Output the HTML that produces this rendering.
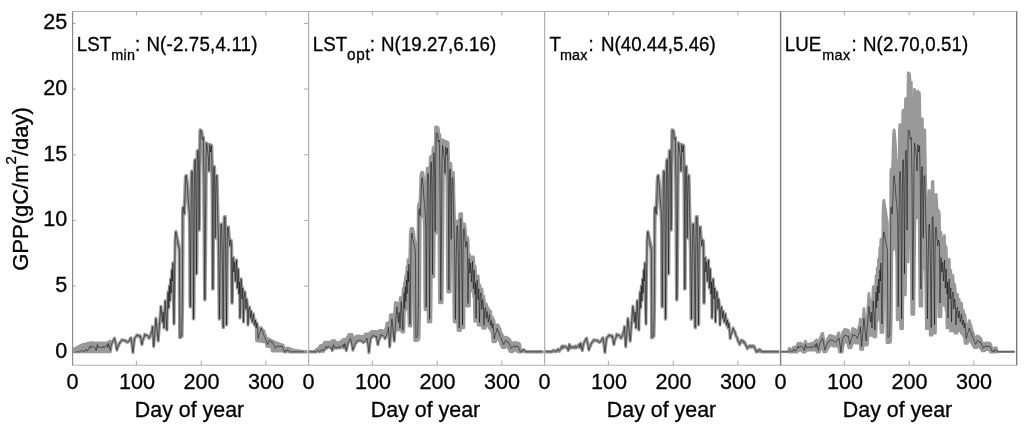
<!DOCTYPE html>
<html><head><meta charset="utf-8"><title>GPP uncertainty</title>
<style>
html,body{margin:0;padding:0;background:#fff;}
svg{display:block;}
text{font-family:"Liberation Sans",Arial,sans-serif;fill:#000;}
text{stroke:#000;stroke-width:0.3px;}
.tk{font-size:21.6px;}
.yl{font-size:22px;}
.xl{font-size:21.4px;}
.an{font-size:18.7px;}
.sb{font-size:14.4px;}
.sp{font-size:15px;}
.ax{stroke:#8c8c8c;stroke-width:1;fill:none;shape-rendering:crispEdges;}
.bd{fill:#999;stroke:#999;stroke-width:3.0;stroke-linejoin:round;}
.ln{fill:none;stroke:#000;stroke-width:0.5;stroke-linejoin:round;}
</style></head><body>
<svg width="1024" height="425" viewBox="0 0 1024 425">
<rect width="1024" height="425" fill="#fff"/>
<defs><clipPath id="cp"><rect x="72.6" y="11.5" width="944.1" height="353.7"/></clipPath></defs>
<g clip-path="url(#cp)">

<path class="bd" d="M72.8,349.7 L73.0,349.6 L73.3,349.4 L73.5,349.3 L73.8,349.2 L74.0,349.0 L74.3,348.9 L74.5,348.8 L74.8,348.7 L75.0,348.5 L75.3,348.4 L75.5,348.3 L75.8,348.1 L76.0,348.0 L76.3,347.9 L76.5,347.7 L76.8,347.6 L77.0,347.5 L77.3,347.4 L77.5,347.2 L77.8,347.1 L78.0,347.0 L78.3,346.8 L78.5,346.7 L78.8,346.6 L79.0,346.4 L79.3,346.3 L79.5,346.2 L79.8,346.1 L80.0,345.9 L80.3,345.8 L80.5,345.7 L80.8,345.5 L81.0,345.4 L81.3,345.3 L81.4,345.2 L81.5,345.1 L81.8,345.0 L82.0,344.9 L82.3,344.8 L82.3,344.8 L82.5,344.7 L82.8,344.7 L83.0,344.6 L83.3,344.5 L83.5,344.5 L83.8,344.4 L84.0,344.4 L84.0,344.4 L84.3,344.3 L84.5,344.3 L84.7,344.2 L84.8,344.2 L85.0,344.1 L85.3,344.1 L85.4,344.1 L85.5,344.0 L85.8,344.0 L86.0,343.9 L86.1,343.9 L86.3,343.8 L86.5,343.8 L86.8,343.7 L87.0,343.7 L87.2,343.6 L87.3,343.6 L87.5,343.6 L87.8,343.5 L88.0,343.5 L88.0,343.4 L88.3,343.4 L88.5,343.3 L88.8,343.3 L89.0,343.2 L89.3,343.1 L89.5,343.1 L89.6,343.1 L89.8,343.0 L90.0,343.0 L90.3,342.9 L90.4,342.9 L90.5,342.9 L90.8,342.8 L91.0,342.8 L91.3,342.8 L91.5,342.8 L91.8,342.8 L91.8,342.8 L92.0,342.8 L92.3,342.8 L92.5,342.8 L92.7,342.8 L92.8,342.9 L93.0,342.9 L93.3,342.9 L93.4,342.9 L93.5,342.9 L93.8,342.9 L94.0,342.9 L94.0,342.9 L94.3,342.9 L94.5,342.9 L94.7,342.9 L94.8,342.9 L95.0,342.9 L95.3,342.9 L95.5,342.9 L95.5,342.9 L95.8,342.9 L96.0,342.9 L96.2,342.9 L96.3,342.9 L96.5,342.9 L96.8,343.0 L97.0,343.0 L97.3,343.0 L97.4,343.0 L97.5,343.0 L97.8,343.0 L98.0,343.0 L98.2,343.0 L98.3,343.0 L98.5,343.0 L98.8,343.0 L98.9,343.0 L99.0,343.0 L99.3,343.0 L99.5,343.0 L99.8,343.0 L100.0,343.0 L100.2,343.0 L100.3,343.0 L100.5,343.1 L100.8,343.1 L100.9,343.1 L101.0,343.1 L101.3,343.1 L101.5,343.1 L101.7,343.1 L101.8,343.1 L102.0,343.1 L102.3,343.1 L102.5,343.1 L102.5,343.1 L102.8,343.1 L103.0,343.1 L103.3,343.1 L103.3,343.1 L103.5,343.1 L103.8,343.1 L104.0,343.1 L104.0,343.1 L104.3,343.1 L104.5,343.2 L104.8,343.2 L104.8,343.2 L105.0,343.2 L105.3,343.2 L105.5,343.2 L105.6,343.2 L105.8,343.2 L106.0,343.2 L106.3,343.2 L106.4,343.2 L106.5,343.1 L106.8,343.0 L107.0,342.9 L107.2,342.8 L107.3,342.7 L107.5,342.6 L107.8,342.5 L107.9,342.4 L108.0,342.3 L108.3,342.2 L108.5,342.1 L108.7,342.0 L108.8,341.9 L109.0,341.8 L109.3,341.7 L109.5,341.6 L109.5,341.6 L109.8,341.4 L110.0,341.3 L110.3,341.2 L110.5,341.0 L110.8,347.6 L111.0,346.3 L111.3,345.4 L111.5,344.5 L111.8,343.6 L112.0,342.8 L112.3,342.0 L112.5,341.4 L112.5,341.3 L112.8,341.2 L113.0,341.0 L113.2,340.9 L113.3,340.6 L113.5,339.8 L113.8,339.0 L113.9,338.7 L114.0,338.6 L114.3,338.3 L114.5,338.1 L114.6,338.1 L114.8,339.0 L115.0,340.1 L115.3,341.2 L115.4,341.5 L115.5,342.4 L115.8,343.7 L116.0,345.0 L116.1,345.4 L116.3,346.4 L116.5,347.8 L116.8,349.2 L116.9,349.8 L117.0,349.2 L117.3,348.3 L117.5,347.3 L117.6,347.1 L117.8,346.8 L118.0,346.4 L118.3,346.0 L118.5,345.4 L118.8,344.7 L119.0,344.1 L119.0,344.0 L119.3,343.4 L119.5,342.8 L119.7,342.4 L119.8,342.4 L120.0,342.3 L120.3,342.2 L120.5,342.1 L120.5,341.9 L120.8,341.4 L121.0,340.9 L121.2,340.6 L121.3,340.5 L121.5,340.2 L121.8,339.9 L122.0,339.6 L122.0,339.6 L122.3,339.8 L122.5,340.0 L122.7,340.1 L122.8,340.0 L123.0,340.0 L123.3,340.0 L123.5,340.2 L123.8,340.4 L124.0,340.5 L124.0,340.5 L124.3,340.4 L124.5,340.3 L124.6,340.3 L124.8,340.3 L125.0,340.2 L125.2,340.2 L125.3,340.2 L125.5,340.5 L125.8,340.7 L125.9,340.8 L126.0,341.0 L126.3,341.3 L126.5,341.6 L126.7,341.8 L126.8,341.8 L127.0,341.9 L127.3,341.9 L127.5,342.0 L127.5,341.9 L127.8,341.7 L128.1,341.4 L128.3,341.2 L128.6,341.1 L128.8,341.0 L129.0,340.9 L129.1,340.8 L129.3,340.4 L129.6,340.0 L129.7,339.8 L129.8,339.5 L130.1,338.9 L130.3,338.3 L130.3,338.3 L130.6,338.1 L130.8,337.9 L131.0,337.7 L131.1,338.1 L131.3,339.8 L131.6,341.6 L131.8,343.4 L131.9,344.4 L132.1,345.2 L132.3,347.2 L132.6,349.3 L132.8,351.3 L132.9,352.1 L133.1,350.8 L133.3,348.6 L133.6,346.4 L133.7,345.1 L133.8,344.3 L134.1,342.3 L134.3,340.4 L134.5,338.8 L134.6,338.7 L134.8,338.0 L135.1,337.3 L135.3,336.8 L135.3,336.8 L135.6,336.8 L135.8,336.8 L136.0,336.7 L136.1,336.7 L136.3,336.1 L136.6,335.6 L136.8,335.0 L137.1,335.0 L137.3,335.0 L137.5,335.0 L137.6,335.0 L137.8,335.3 L138.1,335.7 L138.2,335.9 L138.3,335.8 L138.6,335.6 L138.8,335.4 L139.0,335.2 L139.1,335.4 L139.3,335.8 L139.6,336.2 L139.7,336.4 L139.8,336.3 L140.1,336.0 L140.3,335.8 L140.4,335.7 L140.6,336.7 L140.8,338.3 L141.1,340.0 L141.2,340.6 L141.3,341.4 L141.6,342.6 L141.8,343.8 L141.9,344.3 L142.1,343.6 L142.3,342.3 L142.6,341.1 L142.6,340.9 L142.8,340.3 L143.1,339.5 L143.3,338.7 L143.6,338.3 L143.8,337.8 L144.0,337.5 L144.1,337.2 L144.3,336.1 L144.6,334.9 L144.7,334.2 L144.8,334.2 L145.1,334.3 L145.3,334.4 L145.5,334.4 L145.6,334.5 L145.8,334.9 L146.1,335.3 L146.2,335.6 L146.3,335.5 L146.6,335.4 L146.8,335.2 L147.0,335.0 L147.1,335.1 L147.3,335.4 L147.6,335.7 L147.7,335.9 L147.8,335.9 L148.1,336.1 L148.3,336.3 L148.3,336.3 L148.6,336.9 L148.8,337.6 L149.0,338.1 L149.1,338.0 L149.3,337.5 L149.6,337.0 L149.7,336.7 L149.8,336.5 L150.1,336.0 L150.3,335.5 L150.3,335.5 L150.6,334.7 L150.8,333.8 L151.0,333.0 L151.1,332.9 L151.3,332.5 L151.6,332.1 L151.7,331.8 L151.8,331.1 L152.1,329.2 L152.3,327.3 L152.4,326.6 L152.6,328.9 L152.8,332.7 L153.1,336.5 L153.3,340.2 L153.6,344.0 L153.7,346.3 L153.8,345.0 L154.1,341.8 L154.3,338.7 L154.6,335.5 L154.8,332.3 L155.1,329.1 L155.3,325.9 L155.6,322.8 L155.8,319.6 L155.9,318.3 L156.1,319.8 L156.3,322.2 L156.6,324.7 L156.8,327.1 L157.1,329.6 L157.3,332.0 L157.6,334.4 L157.8,336.9 L158.1,339.3 L158.2,340.8 L158.3,339.5 L158.6,336.3 L158.8,333.1 L159.1,329.9 L159.3,326.7 L159.6,323.5 L159.8,320.3 L160.1,317.1 L160.3,313.9 L160.6,310.7 L160.8,307.5 L160.9,306.2 L161.1,307.7 L161.3,310.1 L161.6,312.5 L161.8,315.0 L162.1,317.4 L162.3,319.9 L162.5,321.8 L162.6,321.1 L162.8,317.5 L163.1,313.9 L163.2,311.8 L163.3,313.8 L163.6,318.8 L163.8,323.8 L164.0,327.8 L164.1,326.7 L164.3,321.0 L164.6,315.4 L164.8,309.7 L165.1,304.1 L165.2,300.7 L165.3,302.4 L165.6,306.7 L165.8,311.0 L166.1,315.3 L166.3,319.5 L166.6,323.8 L166.8,328.1 L166.9,329.8 L167.1,323.3 L167.3,312.5 L167.5,303.8 L167.6,302.8 L167.8,297.8 L168.1,292.8 L168.1,291.8 L168.3,297.1 L168.6,303.8 L168.7,307.8 L168.8,304.1 L169.1,295.0 L169.3,285.8 L169.6,292.1 L169.8,298.3 L169.9,300.8 L170.1,295.3 L170.3,286.1 L170.5,278.8 L170.6,279.8 L170.8,284.8 L171.1,289.8 L171.2,292.8 L171.3,289.0 L171.6,279.4 L171.8,269.8 L172.1,274.4 L172.3,279.0 L172.4,280.8 L172.6,275.4 L172.8,266.4 L172.9,262.8 L173.1,273.9 L173.3,292.4 L173.4,299.8 L173.6,305.8 L173.8,315.8 L174.0,323.8 L174.1,320.0 L174.3,300.9 L174.6,281.8 L174.8,262.7 L175.1,243.6 L175.1,239.8 L175.3,237.5 L175.6,234.5 L175.8,231.6 L176.1,231.6 L176.3,232.4 L176.6,233.7 L176.8,235.0 L177.0,236.0 L177.1,236.3 L177.3,237.5 L177.6,238.8 L177.8,240.1 L178.1,241.3 L178.2,242.1 L178.3,242.6 L178.6,243.8 L178.8,245.1 L179.1,246.3 L179.3,247.6 L179.4,248.1 L179.6,248.8 L179.8,258.6 L179.9,276.1 L180.1,302.4 L180.3,336.7 L180.6,336.5 L180.8,336.3 L181.1,336.1 L181.3,335.8 L181.6,325.5 L181.7,317.8 L181.8,312.7 L182.1,299.8 L182.3,243.6 L182.4,221.1 L182.6,209.2 L182.8,207.7 L183.1,206.8 L183.3,206.8 L183.6,206.8 L183.8,208.0 L184.1,209.3 L184.2,205.9 L184.3,203.7 L184.6,198.0 L184.8,191.3 L185.0,185.3 L185.1,183.8 L185.3,177.6 L185.6,176.6 L185.6,176.4 L185.8,175.6 L186.1,175.4 L186.2,175.4 L186.3,175.4 L186.6,175.4 L186.8,177.8 L187.1,180.1 L187.3,182.5 L187.6,184.9 L187.8,188.3 L187.9,190.0 L188.1,192.5 L188.3,196.3 L188.6,198.8 L188.7,200.3 L188.8,201.3 L189.1,203.8 L189.3,207.1 L189.6,210.5 L189.8,216.0 L190.1,223.0 L190.2,235.9 L190.3,256.1 L190.6,239.8 L190.8,209.8 L190.9,197.8 L191.1,179.8 L191.3,174.4 L191.4,172.2 L191.6,171.1 L191.8,171.1 L192.1,171.1 L192.3,171.5 L192.5,172.0 L192.6,172.1 L192.8,172.7 L192.9,176.2 L193.1,186.3 L193.3,208.3 L193.6,250.8 L193.6,259.2 L193.8,225.3 L194.1,190.1 L194.3,165.7 L194.6,160.4 L194.7,160.1 L194.8,159.9 L195.1,159.4 L195.3,159.4 L195.4,159.4 L195.6,159.4 L195.8,162.4 L195.9,168.5 L196.1,177.6 L196.3,196.8 L196.5,218.9 L196.6,211.1 L196.8,176.2 L197.1,158.0 L197.1,154.4 L197.3,150.7 L197.5,150.5 L197.6,150.4 L197.8,150.2 L198.1,150.1 L198.2,150.1 L198.3,150.1 L198.6,150.1 L198.6,152.6 L198.8,162.4 L199.1,181.8 L199.1,187.8 L199.3,166.5 L199.6,149.8 L199.6,146.5 L199.8,133.1 L200.1,129.8 L200.2,129.8 L200.3,129.8 L200.6,129.8 L200.8,130.0 L201.1,130.2 L201.3,130.4 L201.5,130.5 L201.6,130.6 L201.8,130.8 L202.1,132.9 L202.3,135.6 L202.6,138.1 L202.8,137.6 L203.1,137.3 L203.3,137.3 L203.6,137.3 L203.8,146.4 L204.0,158.6 L204.1,161.6 L204.3,176.8 L204.6,209.8 L204.8,247.2 L205.1,239.8 L205.3,208.8 L205.5,180.8 L205.6,173.8 L205.8,154.7 L206.0,148.0 L206.1,146.3 L206.3,142.9 L206.5,142.9 L206.6,142.9 L206.8,142.9 L207.1,144.2 L207.3,145.7 L207.6,147.3 L207.6,147.6 L207.8,148.9 L208.1,150.8 L208.3,153.3 L208.4,154.3 L208.6,155.8 L208.8,158.9 L209.0,159.2 L209.1,157.6 L209.3,149.3 L209.6,144.3 L209.8,144.3 L210.1,144.3 L210.3,145.9 L210.5,148.1 L210.6,148.6 L210.8,147.7 L211.1,146.1 L211.3,145.5 L211.5,145.5 L211.6,145.5 L211.8,145.5 L212.1,154.1 L212.3,164.8 L212.6,175.5 L212.8,207.1 L212.9,210.9 L213.1,191.6 L213.3,170.9 L213.6,166.7 L213.7,166.6 L213.8,166.5 L214.1,166.4 L214.3,166.4 L214.6,166.4 L214.7,169.3 L214.8,175.2 L215.1,189.8 L215.2,204.2 L215.3,199.1 L215.6,185.3 L215.7,178.2 L215.8,175.8 L216.1,175.6 L216.1,175.6 L216.3,175.5 L216.6,175.4 L216.8,175.4 L217.1,175.4 L217.3,182.7 L217.6,194.9 L217.8,206.1 L217.9,210.2 L218.1,216.5 L218.3,226.2 L218.6,233.4 L218.6,234.8 L218.8,240.5 L219.1,254.1 L219.3,277.2 L219.4,286.4 L219.6,281.9 L219.8,263.5 L220.1,249.8 L220.2,242.3 L220.3,237.3 L220.6,224.8 L220.8,224.4 L220.9,224.2 L221.1,224.0 L221.3,223.8 L221.5,223.8 L221.6,223.8 L221.8,223.8 L222.1,231.2 L222.2,236.8 L222.3,240.5 L222.6,249.8 L222.8,269.2 L223.1,288.6 L223.2,282.1 L223.3,269.2 L223.6,243.2 L223.8,226.7 L224.1,216.8 L224.3,216.7 L224.6,216.6 L224.8,216.6 L225.0,216.6 L225.1,216.6 L225.3,216.6 L225.5,225.1 L225.6,227.9 L225.8,242.0 L226.1,260.7 L226.3,280.7 L226.5,280.9 L226.6,274.7 L226.8,247.0 L227.1,233.3 L227.1,230.6 L227.3,227.6 L227.5,227.3 L227.6,227.2 L227.8,226.9 L228.1,226.8 L228.2,226.8 L228.3,226.8 L228.6,226.8 L228.8,230.6 L229.1,234.3 L229.3,237.3 L229.6,239.8 L229.8,242.3 L230.1,241.3 L230.3,239.8 L230.6,239.8 L230.6,239.8 L230.8,239.8 L231.1,240.1 L231.3,241.0 L231.4,241.3 L231.6,241.8 L231.8,247.5 L232.0,267.6 L232.1,272.7 L232.3,266.5 L232.6,259.8 L232.6,258.5 L232.8,257.2 L233.0,257.2 L233.1,257.2 L233.3,257.2 L233.6,260.9 L233.8,265.4 L234.1,264.3 L234.3,261.8 L234.6,261.8 L234.6,261.8 L234.8,261.8 L235.1,264.2 L235.3,270.1 L235.4,272.5 L235.6,271.3 L235.8,266.5 L236.1,268.4 L236.3,263.6 L236.5,259.8 L236.6,261.6 L236.8,270.3 L237.1,279.1 L237.3,287.8 L237.6,282.5 L237.8,277.2 L238.1,271.9 L238.2,268.7 L238.3,271.8 L238.6,279.7 L238.8,287.5 L239.0,293.8 L239.1,292.6 L239.3,286.6 L239.5,281.8 L239.6,285.4 L239.8,303.4 L240.0,317.8 L240.1,315.3 L240.3,302.8 L240.6,290.3 L240.6,287.8 L240.8,284.8 L241.1,281.0 L241.2,278.8 L241.3,281.3 L241.6,287.6 L241.8,293.8 L242.0,298.8 L242.1,298.1 L242.3,294.7 L242.6,291.2 L242.8,287.8 L243.1,299.9 L243.3,312.1 L243.5,321.8 L243.6,319.9 L243.8,310.7 L244.1,301.4 L244.2,295.8 L244.3,295.3 L244.6,294.0 L244.8,292.8 L245.0,291.8 L245.1,292.9 L245.3,298.2 L245.6,303.5 L245.8,308.8 L246.1,305.7 L246.3,302.5 L246.6,299.4 L246.6,298.8 L246.8,300.2 L247.1,302.0 L247.3,303.8 L247.6,311.3 L247.8,318.8 L248.0,324.8 L248.1,323.7 L248.3,317.9 L248.6,312.2 L248.7,308.8 L248.8,308.5 L249.1,307.9 L249.3,307.3 L249.5,306.8 L249.6,307.5 L249.8,310.9 L250.1,314.4 L250.3,317.8 L250.6,315.9 L250.8,313.9 L251.1,312.0 L251.2,310.8 L251.3,311.9 L251.6,314.7 L251.8,317.4 L252.1,320.2 L252.2,321.8 L252.3,321.2 L252.6,319.6 L252.8,318.1 L253.1,316.6 L253.3,315.0 L253.5,313.8 L253.6,314.4 L253.8,317.5 L254.1,320.5 L254.3,323.6 L254.4,324.8 L254.6,324.0 L254.8,322.6 L255.1,321.2 L255.3,319.8 L255.6,322.0 L255.8,324.2 L256.1,326.5 L256.2,327.8 L256.3,327.1 L256.6,325.3 L256.8,323.5 L256.9,322.8 L257.1,324.4 L257.3,326.5 L257.6,326.7 L257.6,326.7 L257.8,326.8 L258.1,327.0 L258.2,327.1 L258.3,327.1 L258.6,327.3 L258.8,327.4 L258.9,327.5 L259.1,327.6 L259.3,327.7 L259.6,327.9 L259.7,328.0 L259.8,328.1 L260.1,328.2 L260.3,328.4 L260.4,328.5 L260.6,328.5 L260.8,328.7 L261.1,328.5 L261.2,327.8 L261.3,328.1 L261.6,329.0 L261.8,329.3 L261.9,329.4 L262.1,329.5 L262.3,329.6 L262.6,329.8 L262.6,329.8 L262.8,329.9 L263.1,330.1 L263.3,330.2 L263.4,330.3 L263.6,330.7 L263.8,331.4 L264.1,332.1 L264.1,332.2 L264.3,332.8 L264.6,333.5 L264.8,334.2 L265.1,334.9 L265.3,335.6 L265.5,336.1 L265.6,336.3 L265.8,337.0 L266.1,337.7 L266.2,337.9 L266.3,337.9 L266.6,338.0 L266.8,338.2 L266.9,338.2 L267.1,338.3 L267.3,338.4 L267.6,338.5 L267.6,338.6 L267.8,338.7 L268.1,338.8 L268.3,338.9 L268.5,339.0 L268.6,339.0 L268.8,339.2 L269.1,339.3 L269.3,339.4 L269.4,339.4 L269.6,339.5 L269.8,339.7 L270.1,339.8 L270.1,339.8 L270.3,339.9 L270.6,340.0 L270.8,340.2 L270.8,340.2 L271.1,340.3 L271.3,340.4 L271.6,340.5 L271.6,340.5 L271.8,340.7 L272.1,340.8 L272.3,340.9 L272.3,340.9 L272.6,341.0 L272.8,341.2 L273.0,341.2 L273.1,341.3 L273.3,341.4 L273.6,341.5 L273.8,341.6 L273.8,341.7 L274.1,341.8 L274.3,341.9 L274.5,342.0 L274.6,342.0 L274.8,342.2 L275.1,342.3 L275.3,342.4 L275.6,342.5 L275.8,342.6 L276.1,342.7 L276.1,342.7 L276.3,342.8 L276.6,342.9 L276.8,343.0 L276.8,343.0 L277.1,343.1 L277.3,343.2 L277.6,343.3 L277.6,343.3 L277.8,343.4 L278.1,343.4 L278.3,343.5 L278.6,343.6 L278.8,343.7 L279.0,343.8 L279.1,343.8 L279.3,343.9 L279.6,344.0 L279.7,344.0 L279.8,344.1 L280.1,344.2 L280.3,344.3 L280.4,344.3 L280.6,344.3 L280.8,344.4 L281.1,344.5 L281.1,344.5 L281.3,344.6 L281.6,344.7 L281.8,344.8 L282.1,344.9 L282.3,345.0 L282.5,345.1 L282.6,345.1 L282.8,345.2 L283.1,345.2 L283.2,345.5 L283.3,345.8 L283.6,347.0 L283.8,348.2 L284.0,348.7 L284.1,348.7 L284.3,348.6 L284.6,348.6 L284.7,348.6 L284.8,348.5 L285.1,348.5 L285.3,348.5 L285.4,348.4 L285.6,348.4 L285.8,348.4 L286.1,348.3 L286.1,348.3 L286.3,348.3 L286.6,348.2 L286.8,348.2 L286.9,348.2 L287.1,348.2 L287.3,348.1 L287.6,348.1 L287.6,348.1 L287.8,348.0 L288.1,348.0 L288.3,348.1 L288.5,348.2 L288.6,348.2 L288.8,348.3 L289.1,348.4 L289.3,348.5 L289.4,348.5 L289.6,348.6 L289.8,348.7 L290.1,348.8 L290.3,348.9 L290.6,349.0 L290.8,349.1 L291.1,349.2 L291.3,349.3 L291.6,349.4 L291.8,349.5 L292.1,349.6 L292.3,349.7 L292.6,349.8 L292.8,349.9 L293.1,350.0 L293.3,350.1 L293.6,350.1 L293.8,350.2 L294.1,350.2 L294.3,350.2 L294.6,350.3 L294.8,350.3 L295.1,350.3 L295.3,350.4 L295.6,350.4 L295.8,350.4 L296.1,350.5 L296.3,350.5 L296.6,350.5 L296.8,350.6 L297.1,350.6 L297.3,350.6 L297.6,350.7 L297.8,350.7 L298.1,350.7 L298.3,350.8 L298.6,350.8 L298.8,350.8 L299.1,350.9 L299.3,350.9 L299.6,350.9 L299.8,351.0 L300.1,351.0 L300.3,351.0 L300.6,351.1 L300.8,351.1 L301.1,351.1 L301.3,351.2 L301.6,351.2 L301.8,351.2 L302.1,351.3 L302.3,351.3 L302.6,351.3 L302.8,351.4 L303.1,351.4 L303.3,351.4 L303.6,351.5 L303.8,351.5 L304.1,351.5 L304.3,351.6 L304.6,351.6 L304.8,351.6 L305.1,351.6 L305.3,351.6 L305.6,351.6 L305.8,351.6 L306.1,351.6 L306.3,351.6 L306.3,352.0 L306.1,352.0 L305.8,352.0 L305.6,352.0 L305.3,352.0 L305.1,352.0 L304.8,352.0 L304.6,352.0 L304.3,352.0 L304.1,352.0 L303.8,352.0 L303.6,352.0 L303.3,352.0 L303.1,352.0 L302.8,352.0 L302.6,352.0 L302.3,352.0 L302.1,352.0 L301.8,352.0 L301.6,352.0 L301.3,352.0 L301.1,352.0 L300.8,352.0 L300.6,352.0 L300.3,352.0 L300.1,352.0 L299.8,352.0 L299.6,352.0 L299.3,352.0 L299.1,352.0 L298.8,352.0 L298.6,352.0 L298.3,352.0 L298.1,352.0 L297.8,352.0 L297.6,352.0 L297.3,352.0 L297.1,352.0 L296.8,352.0 L296.6,352.0 L296.3,352.0 L296.1,352.0 L295.8,352.0 L295.6,352.0 L295.3,352.0 L295.1,352.0 L294.8,352.0 L294.6,352.0 L294.3,352.0 L294.1,352.0 L293.8,352.0 L293.6,352.0 L293.3,352.0 L293.1,352.0 L292.8,352.0 L292.6,352.0 L292.3,352.0 L292.1,352.0 L291.8,352.0 L291.6,352.0 L291.3,352.0 L291.1,352.0 L290.8,352.0 L290.6,352.0 L290.3,352.0 L290.1,352.0 L289.8,352.0 L289.6,352.0 L289.4,352.0 L289.3,351.8 L289.1,351.4 L288.8,351.0 L288.6,351.0 L288.5,351.0 L288.3,351.0 L288.1,351.0 L287.8,351.0 L287.6,351.0 L287.6,351.0 L287.3,351.0 L287.1,351.0 L286.9,351.3 L286.8,351.2 L286.6,351.0 L286.3,351.0 L286.1,351.0 L286.1,351.0 L285.8,351.1 L285.6,351.6 L285.4,351.9 L285.3,351.9 L285.1,352.0 L284.8,352.2 L284.7,352.2 L284.6,352.0 L284.3,351.8 L284.1,351.5 L284.0,351.4 L283.8,351.0 L283.6,351.0 L283.3,351.0 L283.2,351.0 L283.1,351.0 L282.8,351.0 L282.6,351.0 L282.5,351.0 L282.3,351.0 L282.1,351.0 L281.8,351.0 L281.6,351.0 L281.3,351.0 L281.1,351.0 L281.1,351.0 L280.8,351.0 L280.6,351.0 L280.4,351.0 L280.3,351.0 L280.1,351.0 L279.8,351.0 L279.7,351.0 L279.6,351.0 L279.3,351.0 L279.1,351.0 L279.0,351.0 L278.8,351.0 L278.6,351.0 L278.3,351.0 L278.1,351.0 L277.8,351.0 L277.6,351.0 L277.6,351.0 L277.3,351.0 L277.1,351.0 L276.8,351.0 L276.8,351.0 L276.6,351.0 L276.3,351.0 L276.1,351.0 L276.1,351.0 L275.8,351.0 L275.6,351.0 L275.3,351.0 L275.1,351.0 L274.8,351.0 L274.6,351.0 L274.5,351.0 L274.3,351.0 L274.1,351.0 L273.8,351.0 L273.8,351.0 L273.6,351.0 L273.3,351.0 L273.1,351.0 L273.0,351.0 L272.8,351.0 L272.6,351.0 L272.3,351.0 L272.3,350.9 L272.1,349.5 L271.8,348.1 L271.6,346.9 L271.6,346.9 L271.3,346.9 L271.1,346.8 L270.8,346.8 L270.8,346.8 L270.6,346.7 L270.3,346.7 L270.1,346.7 L270.1,346.7 L269.8,346.6 L269.6,346.6 L269.4,346.6 L269.3,346.6 L269.1,346.5 L268.8,346.5 L268.6,346.5 L268.5,346.4 L268.3,346.4 L268.1,346.4 L267.8,346.3 L267.6,346.3 L267.6,346.3 L267.3,346.3 L267.1,346.2 L266.9,346.2 L266.8,346.2 L266.6,344.7 L266.3,343.3 L266.2,342.7 L266.1,342.1 L265.8,342.1 L265.6,342.0 L265.5,342.0 L265.3,342.0 L265.1,341.9 L264.8,341.9 L264.6,341.9 L264.3,341.8 L264.1,341.8 L264.1,341.8 L263.8,341.8 L263.6,341.7 L263.4,341.7 L263.3,341.7 L263.1,341.7 L262.8,341.6 L262.6,341.6 L262.6,341.6 L262.3,341.5 L262.1,341.5 L261.9,341.5 L261.8,341.5 L261.6,341.4 L261.3,341.4 L261.2,341.4 L261.1,341.4 L260.8,341.3 L260.6,341.3 L260.4,341.3 L260.3,341.3 L260.1,341.2 L259.8,341.2 L259.7,341.2 L259.6,341.1 L259.3,341.1 L259.1,341.1 L258.9,341.1 L258.8,341.0 L258.6,341.0 L258.3,341.0 L258.2,340.9 L258.1,340.9 L257.8,340.9 L257.6,340.9 L257.6,340.9 L257.3,340.8 L257.1,340.8 L256.9,340.8 L256.8,340.7 L256.6,340.7 L256.3,327.5 L256.2,328.2 L256.1,326.9 L255.8,324.6 L255.6,322.4 L255.3,320.2 L255.1,321.6 L254.8,323.0 L254.6,324.4 L254.4,325.2 L254.3,324.0 L254.1,320.9 L253.8,317.9 L253.6,314.8 L253.5,314.2 L253.3,315.4 L253.1,317.0 L252.8,318.5 L252.6,320.0 L252.3,321.6 L252.2,322.2 L252.1,320.6 L251.8,317.8 L251.6,315.1 L251.3,312.3 L251.2,311.2 L251.1,312.4 L250.8,314.3 L250.6,316.3 L250.3,318.2 L250.1,314.8 L249.8,311.3 L249.6,307.9 L249.5,307.2 L249.3,307.7 L249.1,308.3 L248.8,308.9 L248.7,309.2 L248.6,312.6 L248.3,318.3 L248.1,324.1 L248.0,325.2 L247.8,319.2 L247.6,311.7 L247.3,304.2 L247.1,302.4 L246.8,300.6 L246.6,299.2 L246.6,299.8 L246.3,302.9 L246.1,306.1 L245.8,309.2 L245.6,303.9 L245.3,298.6 L245.1,293.3 L245.0,292.2 L244.8,293.2 L244.6,294.4 L244.3,295.7 L244.2,296.2 L244.1,301.8 L243.8,311.1 L243.6,320.3 L243.5,322.2 L243.3,312.5 L243.1,300.3 L242.8,288.2 L242.6,291.6 L242.3,295.1 L242.1,298.5 L242.0,299.2 L241.8,294.2 L241.6,288.0 L241.3,281.7 L241.2,279.2 L241.1,281.4 L240.8,285.2 L240.6,288.2 L240.6,290.7 L240.3,303.2 L240.1,315.7 L240.0,318.2 L239.8,303.8 L239.6,285.8 L239.5,282.2 L239.3,287.0 L239.1,293.0 L239.0,294.2 L238.8,287.9 L238.6,280.1 L238.3,272.2 L238.2,269.1 L238.1,272.3 L237.8,277.6 L237.6,282.9 L237.3,288.2 L237.1,279.5 L236.8,270.7 L236.6,262.0 L236.5,260.2 L236.3,264.0 L236.1,268.8 L235.8,280.2 L235.6,281.2 L235.4,281.2 L235.3,281.2 L235.1,281.2 L234.8,275.3 L234.6,270.5 L234.6,269.3 L234.3,270.3 L234.1,272.2 L233.8,272.2 L233.6,272.2 L233.3,269.5 L233.1,265.5 L233.0,266.9 L232.8,276.9 L232.6,288.6 L232.6,291.5 L232.3,303.2 L232.1,303.2 L232.0,303.2 L231.8,303.2 L231.6,293.2 L231.4,278.1 L231.3,268.0 L231.1,242.9 L230.8,242.1 L230.6,242.8 L230.6,243.2 L230.3,245.1 L230.1,246.2 L229.8,246.2 L229.6,246.2 L229.3,244.7 L229.1,242.2 L228.8,239.7 L228.6,237.2 L228.3,233.9 L228.2,232.4 L228.1,230.2 L227.8,230.9 L227.6,244.7 L227.5,247.4 L227.3,268.9 L227.1,293.8 L227.1,300.0 L226.8,324.9 L226.6,324.9 L226.5,324.9 L226.3,324.9 L226.1,316.9 L225.8,297.0 L225.6,277.1 L225.5,273.1 L225.3,257.2 L225.1,239.6 L225.0,236.7 L224.8,225.5 L224.6,223.8 L224.3,240.3 L224.1,263.1 L223.8,295.5 L223.6,327.8 L223.3,327.8 L223.2,327.8 L223.1,327.8 L222.8,323.9 L222.6,304.5 L222.3,285.1 L222.2,277.4 L222.1,265.7 L221.8,248.3 L221.6,239.1 L221.5,237.2 L221.3,229.8 L221.1,235.2 L220.9,242.7 L220.8,247.7 L220.6,260.2 L220.3,278.6 L220.2,286.0 L220.1,297.1 L219.8,315.5 L219.6,319.2 L219.4,319.2 L219.3,319.2 L219.1,319.2 L218.8,296.1 L218.6,277.6 L218.6,273.0 L218.3,249.8 L218.1,239.5 L217.9,235.2 L217.8,232.3 L217.6,225.2 L217.3,214.8 L217.1,204.4 L216.8,192.9 L216.6,180.7 L216.3,183.3 L216.1,192.8 L216.1,195.2 L215.8,216.7 L215.7,225.3 L215.6,238.2 L215.3,238.2 L215.2,238.2 L215.1,238.2 L214.8,233.4 L214.7,223.8 L214.6,209.4 L214.3,187.3 L214.1,172.6 L213.8,187.8 L213.7,196.1 L213.6,222.4 L213.3,278.1 L213.1,289.2 L212.9,289.2 L212.8,289.2 L212.6,289.2 L212.3,243.8 L212.1,198.4 L211.8,173.8 L211.6,163.0 L211.5,160.9 L211.3,152.3 L211.1,150.9 L210.8,152.2 L210.6,152.2 L210.5,152.2 L210.3,152.2 L210.1,151.1 L209.8,156.3 L209.6,164.6 L209.3,171.2 L209.1,171.2 L209.0,171.2 L208.8,171.2 L208.6,169.0 L208.4,165.8 L208.3,163.6 L208.1,158.2 L207.8,155.7 L207.6,153.7 L207.6,153.2 L207.3,150.7 L207.1,148.9 L206.8,147.4 L206.6,153.4 L206.5,155.1 L206.3,167.2 L206.1,202.2 L206.0,209.2 L205.8,235.2 L205.6,260.1 L205.5,265.1 L205.3,285.0 L205.1,300.0 L204.8,300.0 L204.6,300.0 L204.3,277.5 L204.1,240.1 L204.0,232.6 L203.8,202.7 L203.6,174.1 L203.3,158.9 L203.1,143.8 L202.8,139.4 L202.6,139.7 L202.3,139.7 L202.1,139.7 L201.8,138.1 L201.6,135.4 L201.5,134.9 L201.3,132.8 L201.1,131.1 L200.8,130.9 L200.6,130.7 L200.3,146.9 L200.2,153.5 L200.1,163.5 L199.8,188.2 L199.6,212.2 L199.6,218.2 L199.3,230.2 L199.1,230.2 L199.1,230.2 L198.8,230.2 L198.6,212.2 L198.6,206.2 L198.3,176.2 L198.2,167.7 L198.1,160.4 L197.8,154.8 L197.6,172.9 L197.5,176.6 L197.3,203.6 L197.1,234.9 L197.1,242.7 L196.8,274.0 L196.6,274.0 L196.5,274.0 L196.3,274.0 L196.1,260.0 L195.9,239.1 L195.8,225.1 L195.6,190.2 L195.4,181.1 L195.3,175.0 L195.1,161.2 L194.8,185.6 L194.7,195.3 L194.6,217.2 L194.3,259.6 L194.1,302.1 L193.8,319.1 L193.6,319.1 L193.6,319.1 L193.3,319.1 L193.1,285.1 L192.9,259.6 L192.8,242.7 L192.6,200.2 L192.5,196.8 L192.3,183.3 L192.1,173.7 L191.8,179.1 L191.6,204.2 L191.4,222.2 L191.3,234.2 L191.1,259.3 L190.9,273.6 L190.8,283.1 L190.6,307.0 L190.3,307.0 L190.2,307.0 L190.1,307.0 L189.8,296.9 L189.6,246.4 L189.3,222.0 L189.1,215.0 L188.8,210.2 L188.7,208.9 L188.6,206.9 L188.3,203.7 L188.1,201.2 L187.9,199.7 L187.8,198.7 L187.6,196.2 L187.3,192.0 L187.1,187.9 L186.8,184.8 L186.6,182.4 L186.3,180.1 L186.2,179.1 L186.1,177.8 L185.8,182.7 L185.6,188.7 L185.6,190.2 L185.3,197.3 L185.1,202.9 L185.0,204.1 L184.8,208.6 L184.6,214.2 L184.3,214.2 L184.2,214.2 L184.1,214.2 L183.8,213.8 L183.6,211.9 L183.3,209.9 L183.1,232.7 L182.8,288.9 L182.6,310.5 L182.4,318.2 L182.3,323.3 L182.1,336.2 L181.8,336.4 L181.7,336.5 L181.6,336.6 L181.3,336.9 L181.1,337.1 L180.8,337.3 L180.6,337.5 L180.3,337.8 L180.1,337.8 L179.9,337.8 L179.8,337.8 L179.6,337.8 L179.4,311.5 L179.3,294.0 L179.1,250.2 L178.8,249.0 L178.6,247.7 L178.3,246.5 L178.2,245.9 L178.1,245.2 L177.8,244.0 L177.6,242.7 L177.3,241.5 L177.1,240.2 L177.0,239.9 L176.8,239.0 L176.6,237.7 L176.3,236.4 L176.1,235.1 L175.8,232.0 L175.6,234.9 L175.3,237.9 L175.1,240.2 L175.1,244.0 L174.8,263.1 L174.6,282.2 L174.3,301.3 L174.1,320.4 L174.0,324.2 L173.8,316.2 L173.6,306.2 L173.4,300.2 L173.3,292.8 L173.1,274.3 L172.9,263.2 L172.8,266.8 L172.6,275.8 L172.4,281.2 L172.3,279.4 L172.1,274.8 L171.8,270.2 L171.6,279.8 L171.3,289.4 L171.2,293.2 L171.1,290.2 L170.8,285.2 L170.6,280.2 L170.5,279.2 L170.3,286.5 L170.1,295.7 L169.9,301.2 L169.8,298.7 L169.6,292.5 L169.3,286.2 L169.1,295.4 L168.8,304.5 L168.7,308.2 L168.6,304.2 L168.3,297.5 L168.1,292.2 L168.1,293.2 L167.8,298.2 L167.6,303.2 L167.5,304.2 L167.3,312.9 L167.1,323.7 L166.9,330.2 L166.8,328.5 L166.6,324.2 L166.3,319.9 L166.1,315.7 L165.8,311.4 L165.6,307.1 L165.3,302.8 L165.2,301.1 L165.1,304.5 L164.8,310.1 L164.6,315.8 L164.3,321.4 L164.1,327.1 L164.0,328.2 L163.8,324.2 L163.6,319.2 L163.3,314.2 L163.2,312.2 L163.1,314.3 L162.8,317.9 L162.6,321.5 L162.5,322.2 L162.3,320.3 L162.1,317.8 L161.8,315.4 L161.6,312.9 L161.3,310.5 L161.1,308.1 L160.9,306.6 L160.8,307.9 L160.6,311.1 L160.3,314.3 L160.1,317.5 L159.8,320.7 L159.6,323.9 L159.3,327.1 L159.1,330.3 L158.8,333.5 L158.6,336.7 L158.3,339.9 L158.2,341.2 L158.1,339.7 L157.8,337.3 L157.6,334.8 L157.3,332.4 L157.1,330.0 L156.8,327.5 L156.6,325.1 L156.3,322.6 L156.1,320.2 L155.9,318.7 L155.8,320.0 L155.6,323.2 L155.3,326.3 L155.1,329.5 L154.8,332.7 L154.6,335.9 L154.3,339.1 L154.1,342.2 L153.8,345.4 L153.7,346.7 L153.6,344.4 L153.3,340.6 L153.1,336.9 L152.8,333.1 L152.6,329.3 L152.4,327.0 L152.3,327.7 L152.1,329.6 L151.8,331.5 L151.7,332.2 L151.6,332.5 L151.3,332.9 L151.1,333.3 L151.0,333.4 L150.8,334.2 L150.6,335.1 L150.3,335.9 L150.3,335.9 L150.1,336.4 L149.8,336.9 L149.7,337.1 L149.6,337.4 L149.3,337.9 L149.1,338.4 L149.0,338.5 L148.8,338.0 L148.6,337.3 L148.3,336.7 L148.3,336.7 L148.1,336.5 L147.8,336.3 L147.7,336.3 L147.6,336.1 L147.3,335.8 L147.1,335.5 L147.0,335.4 L146.8,335.6 L146.6,335.8 L146.3,335.9 L146.2,336.0 L146.1,335.7 L145.8,335.3 L145.6,334.9 L145.5,334.8 L145.3,334.8 L145.1,334.7 L144.8,334.6 L144.7,334.6 L144.6,335.3 L144.3,336.5 L144.1,337.6 L144.0,337.9 L143.8,338.2 L143.6,338.7 L143.3,339.1 L143.1,339.9 L142.8,340.7 L142.6,341.3 L142.6,341.5 L142.3,342.7 L142.1,344.0 L141.9,344.7 L141.8,344.2 L141.6,343.0 L141.3,341.8 L141.2,341.0 L141.1,340.4 L140.8,338.7 L140.6,337.1 L140.4,336.1 L140.3,336.2 L140.1,336.4 L139.8,336.7 L139.7,336.8 L139.6,336.6 L139.3,336.2 L139.1,335.8 L139.0,335.6 L138.8,335.8 L138.6,336.0 L138.3,336.2 L138.2,336.3 L138.1,336.1 L137.8,335.7 L137.6,335.4 L137.5,335.4 L137.3,335.4 L137.1,335.4 L136.8,335.4 L136.6,336.0 L136.3,336.5 L136.1,337.1 L136.0,337.1 L135.8,337.2 L135.6,337.2 L135.3,337.2 L135.3,337.2 L135.1,337.7 L134.8,338.4 L134.6,339.1 L134.5,339.2 L134.3,340.8 L134.1,342.7 L133.8,344.7 L133.7,345.5 L133.6,346.8 L133.3,349.0 L133.1,351.2 L132.9,352.5 L132.8,351.7 L132.6,349.7 L132.3,347.6 L132.1,345.6 L131.9,344.8 L131.8,343.8 L131.6,342.0 L131.3,340.2 L131.1,338.5 L131.0,338.1 L130.8,338.3 L130.6,338.5 L130.3,338.7 L130.3,338.7 L130.1,339.3 L129.8,339.9 L129.7,340.2 L129.6,340.4 L129.3,340.8 L129.1,341.2 L129.0,341.3 L128.8,341.4 L128.6,341.5 L128.3,341.6 L128.1,341.8 L127.8,342.1 L127.5,342.3 L127.5,342.4 L127.3,342.3 L127.0,342.3 L126.8,342.2 L126.7,342.2 L126.5,342.0 L126.3,341.7 L126.0,341.4 L125.9,341.2 L125.8,341.1 L125.5,340.9 L125.3,340.6 L125.2,340.6 L125.0,340.6 L124.8,340.7 L124.6,340.7 L124.5,340.7 L124.3,340.8 L124.0,340.9 L124.0,340.9 L123.8,340.8 L123.5,340.6 L123.3,340.4 L123.0,340.4 L122.8,340.4 L122.7,340.5 L122.5,340.4 L122.3,340.2 L122.0,340.0 L122.0,340.0 L121.8,340.3 L121.5,340.6 L121.3,340.9 L121.2,341.0 L121.0,341.3 L120.8,341.8 L120.5,342.3 L120.5,342.5 L120.3,342.6 L120.0,342.7 L119.8,342.8 L119.7,342.8 L119.5,343.2 L119.3,343.8 L119.0,344.4 L119.0,344.5 L118.8,345.1 L118.5,345.8 L118.3,346.4 L118.0,346.8 L117.8,347.2 L117.6,347.5 L117.5,347.7 L117.3,348.7 L117.0,349.6 L116.9,350.2 L116.8,349.6 L116.5,348.2 L116.3,346.8 L116.1,345.8 L116.0,345.4 L115.8,344.1 L115.5,342.8 L115.4,341.9 L115.3,341.6 L115.0,340.5 L114.8,339.4 L114.6,338.5 L114.5,338.5 L114.3,338.7 L114.0,339.0 L113.9,339.1 L113.8,339.4 L113.5,340.2 L113.3,341.0 L113.2,341.3 L113.0,341.4 L112.8,341.6 L112.5,341.7 L112.5,341.8 L112.3,342.4 L112.0,343.2 L111.8,344.0 L111.5,344.9 L111.3,345.8 L111.0,346.7 L110.8,348.0 L110.5,351.7 L110.3,351.7 L110.0,351.7 L109.8,351.7 L109.5,351.7 L109.5,351.7 L109.3,351.7 L109.0,351.7 L108.8,351.7 L108.7,351.7 L108.5,351.7 L108.3,351.7 L108.0,351.7 L107.9,351.7 L107.8,351.7 L107.5,351.7 L107.3,351.7 L107.2,351.7 L107.0,351.7 L106.8,351.7 L106.5,351.7 L106.4,351.7 L106.3,351.7 L106.0,351.7 L105.8,351.7 L105.6,351.7 L105.5,351.7 L105.3,351.7 L105.0,351.7 L104.8,351.7 L104.8,351.7 L104.5,351.7 L104.3,351.7 L104.0,351.7 L104.0,351.7 L103.8,351.7 L103.5,351.7 L103.3,351.7 L103.3,351.7 L103.0,351.7 L102.8,351.7 L102.5,351.7 L102.5,351.7 L102.3,351.7 L102.0,351.7 L101.8,351.7 L101.7,351.7 L101.5,351.7 L101.3,351.7 L101.0,351.7 L100.9,351.7 L100.8,351.7 L100.5,351.7 L100.3,351.7 L100.2,351.7 L100.0,351.7 L99.8,351.7 L99.5,351.7 L99.3,351.7 L99.0,351.7 L98.9,351.7 L98.8,351.7 L98.5,351.7 L98.3,351.7 L98.2,351.7 L98.0,351.7 L97.8,351.7 L97.5,351.7 L97.4,351.7 L97.3,351.7 L97.0,351.7 L96.8,351.7 L96.5,351.7 L96.3,351.7 L96.2,351.7 L96.0,351.7 L95.8,351.7 L95.5,351.7 L95.5,351.7 L95.3,351.7 L95.0,351.7 L94.8,351.7 L94.7,351.7 L94.5,351.7 L94.3,351.7 L94.0,351.7 L94.0,351.7 L93.8,351.7 L93.5,351.7 L93.4,351.7 L93.3,351.7 L93.0,351.7 L92.8,351.7 L92.7,351.7 L92.5,351.7 L92.3,351.7 L92.0,351.7 L91.8,351.7 L91.8,351.7 L91.5,351.7 L91.3,351.7 L91.0,351.7 L90.8,351.7 L90.5,351.7 L90.4,351.7 L90.3,351.7 L90.0,351.7 L89.8,351.7 L89.6,351.7 L89.5,351.7 L89.3,351.7 L89.0,351.7 L88.8,351.7 L88.5,351.7 L88.3,351.7 L88.0,351.7 L88.0,351.7 L87.8,351.7 L87.5,351.7 L87.3,351.7 L87.2,351.7 L87.0,351.7 L86.8,351.7 L86.5,351.7 L86.3,351.7 L86.1,351.7 L86.0,351.7 L85.8,351.7 L85.5,351.7 L85.4,351.7 L85.3,351.7 L85.0,351.7 L84.8,351.7 L84.7,351.7 L84.5,351.7 L84.3,351.7 L84.0,351.7 L84.0,351.7 L83.8,351.7 L83.5,351.7 L83.3,351.7 L83.0,351.7 L82.8,351.7 L82.5,351.7 L82.3,351.7 L82.3,351.7 L82.0,351.7 L81.8,351.7 L81.5,351.7 L81.4,351.7 L81.3,351.7 L81.0,351.7 L80.8,351.7 L80.5,351.7 L80.3,351.7 L80.0,351.7 L79.8,351.7 L79.5,351.7 L79.3,351.7 L79.0,351.7 L78.8,351.7 L78.5,351.7 L78.3,351.7 L78.0,351.7 L77.8,351.7 L77.5,351.7 L77.3,351.7 L77.0,351.7 L76.8,351.7 L76.5,351.7 L76.3,351.7 L76.0,351.7 L75.8,351.7 L75.5,351.7 L75.3,351.7 L75.0,351.7 L74.8,351.7 L74.5,351.7 L74.3,351.7 L74.0,351.7 L73.8,351.7 L73.5,351.7 L73.3,351.7 L73.0,351.7 L72.8,351.7Z"/>
<path class="ln" d="M72.8,351.8 L79.8,351.8 L81.4,350.4 L82.3,350.9 L83.3,351.6 L84.0,351.1 L84.7,351.2 L85.4,349.7 L86.1,349.2 L87.2,351.2 L88.0,349.9 L88.8,348.8 L89.6,346.8 L90.4,346.1 L90.8,348.0 L91.8,347.1 L92.7,346.1 L93.4,346.7 L94.0,347.4 L94.7,347.3 L95.5,348.1 L96.2,350.4 L97.4,344.5 L98.2,348.0 L98.9,347.4 L99.6,346.7 L100.2,347.7 L100.9,346.9 L101.7,347.7 L102.5,347.7 L103.3,346.2 L104.0,347.6 L104.8,347.3 L105.6,346.1 L106.4,345.6 L107.2,344.5 L107.9,347.7 L108.7,343.4 L109.5,347.1 L110.3,350.4 L111.0,346.5 L111.8,343.8 L112.5,341.6 L113.2,341.1 L113.9,338.9 L114.6,338.3 L115.4,341.6 L116.1,345.6 L116.9,350.0 L117.6,347.3 L118.3,346.2 L119.0,344.3 L119.7,342.6 L120.5,342.3 L121.2,340.8 L122.0,339.8 L122.7,340.3 L123.3,340.2 L124.0,340.7 L124.6,340.5 L125.2,340.4 L125.9,341.0 L126.7,342.0 L127.5,342.2 L128.3,341.4 L129.0,341.1 L129.7,340.0 L130.3,338.4 L131.0,337.9 L131.9,344.6 L132.9,352.3 L133.7,345.3 L134.5,339.0 L135.3,337.0 L136.0,336.9 L136.8,335.2 L137.5,335.2 L138.2,336.1 L139.0,335.4 L139.7,336.6 L140.4,335.9 L141.2,340.8 L141.9,344.5 L142.6,341.1 L143.3,338.9 L144.0,337.7 L144.7,334.4 L145.5,334.6 L146.2,335.8 L147.0,335.2 L147.7,336.0 L148.3,336.5 L149.0,338.3 L149.7,337.0 L150.3,335.7 L151.0,333.2 L151.7,332.0 L152.4,326.8 L153.7,346.5 L155.9,318.5 L158.2,341.0 L160.9,306.4 L162.5,322.0 L163.2,312.0 L164.0,328.0 L165.2,300.9 L166.9,330.0 L167.5,304.0 L168.1,292.0 L168.7,308.0 L169.3,286.0 L169.9,301.0 L170.5,279.0 L171.2,293.0 L171.8,270.0 L172.4,281.0 L172.9,263.0 L173.4,300.0 L174.0,324.0 L175.1,240.0 L175.8,231.8 L177.0,238.0 L178.2,244.0 L179.4,250.0 L179.9,337.6 L181.7,336.0 L182.4,300.0 L182.8,210.0 L183.3,207.0 L184.2,214.0 L185.0,196.0 L185.6,178.0 L186.2,175.6 L187.3,186.0 L187.9,196.0 L188.7,204.0 L189.3,212.0 L189.8,226.0 L190.2,306.8 L190.9,240.0 L191.4,180.0 L191.8,171.3 L192.5,173.0 L192.9,200.0 L193.6,318.9 L194.3,200.0 L194.7,161.0 L195.4,159.6 L195.9,190.0 L196.5,273.8 L197.1,180.0 L197.5,151.0 L198.2,150.3 L198.6,170.0 L199.1,230.0 L199.6,170.0 L200.2,130.0 L201.5,131.0 L202.3,139.5 L203.3,137.5 L204.0,180.0 L204.8,299.8 L205.5,230.0 L206.0,160.0 L206.5,143.1 L207.6,150.0 L208.4,158.0 L209.0,171.0 L209.8,144.5 L210.5,152.0 L211.5,145.7 L212.3,180.0 L212.9,289.0 L213.3,200.0 L213.7,167.0 L214.3,166.6 L214.7,190.0 L215.2,238.0 L215.7,195.0 L216.1,176.0 L216.8,175.6 L217.3,200.0 L217.9,225.0 L218.6,245.0 L219.4,319.0 L220.2,260.0 L220.9,225.0 L221.5,224.0 L222.2,250.0 L223.2,327.6 L223.8,250.0 L224.3,217.0 L225.0,216.8 L225.5,245.0 L226.5,324.7 L227.1,250.0 L227.5,228.0 L228.2,227.0 L228.8,236.0 L229.8,246.0 L230.6,240.0 L231.4,242.7 L232.0,303.0 L232.6,268.0 L233.0,257.4 L233.8,272.0 L234.6,262.0 L235.4,281.0 L236.5,260.0 L237.3,288.0 L238.2,268.9 L239.0,294.0 L239.5,282.0 L240.0,318.0 L240.6,288.0 L241.2,279.0 L242.0,299.0 L242.8,288.0 L243.5,322.0 L244.2,296.0 L245.0,292.0 L245.8,309.0 L246.6,299.0 L247.3,304.0 L248.0,325.0 L248.7,309.0 L249.5,307.0 L250.3,318.0 L251.2,311.0 L252.2,322.0 L253.5,314.0 L254.4,325.0 L255.3,320.0 L256.2,328.0 L256.9,323.0 L257.6,330.3 L258.2,338.5 L258.9,335.1 L259.7,332.9 L260.4,331.5 L261.2,328.0 L261.9,330.5 L262.6,331.4 L263.4,333.7 L264.1,336.2 L264.8,337.1 L265.5,338.7 L266.2,341.7 L266.9,342.2 L267.6,344.4 L268.5,342.5 L269.4,340.3 L270.1,340.8 L270.8,340.9 L271.6,342.5 L272.3,342.0 L273.0,343.2 L273.8,345.2 L274.5,346.0 L275.3,348.5 L276.1,347.6 L276.8,346.4 L277.6,346.2 L278.3,345.8 L279.0,347.0 L279.7,346.7 L280.4,345.8 L281.1,346.9 L281.8,346.2 L282.5,347.1 L283.2,348.9 L284.0,351.2 L284.7,352.0 L285.4,351.7 L286.1,350.1 L286.9,351.2 L287.6,349.7 L288.5,350.2 L289.4,351.8 L306.3,351.8"/>
<path class="bd" d="M308.8,351.6 L309.1,351.6 L309.3,351.6 L309.6,351.6 L309.8,351.6 L310.1,351.6 L310.3,351.6 L310.6,351.6 L310.8,351.6 L311.1,351.6 L311.3,351.6 L311.6,351.6 L311.8,351.6 L312.1,351.6 L312.3,351.6 L312.6,351.6 L312.8,351.6 L313.1,351.6 L313.3,351.6 L313.6,351.6 L313.8,351.6 L314.1,351.6 L314.3,351.6 L314.6,351.6 L314.8,351.6 L315.1,351.6 L315.3,351.6 L315.6,350.7 L315.8,350.3 L316.1,350.0 L316.3,349.8 L316.6,349.6 L316.8,349.4 L317.1,349.2 L317.3,349.0 L317.4,349.0 L317.6,348.8 L317.8,348.7 L318.1,348.5 L318.3,348.3 L318.4,348.2 L318.6,348.1 L318.8,347.9 L319.1,347.8 L319.3,347.7 L319.6,347.4 L319.8,346.7 L320.0,346.2 L320.1,346.2 L320.3,345.8 L320.6,345.4 L320.7,345.4 L320.8,345.4 L321.1,345.4 L321.3,345.4 L321.4,345.4 L321.6,345.4 L321.8,345.4 L322.1,345.4 L322.1,345.4 L322.3,345.4 L322.6,345.4 L322.8,345.4 L323.1,345.4 L323.2,345.1 L323.3,345.0 L323.6,344.4 L323.8,343.8 L324.0,343.3 L324.1,343.1 L324.3,342.8 L324.6,342.6 L324.8,342.4 L325.1,342.3 L325.3,342.3 L325.6,342.3 L325.6,342.3 L325.8,342.3 L326.1,342.3 L326.3,342.3 L326.4,342.3 L326.6,342.3 L326.8,342.3 L327.1,342.3 L327.3,342.3 L327.6,342.3 L327.8,342.3 L327.8,342.3 L328.1,342.3 L328.3,342.3 L328.6,342.3 L328.7,342.3 L328.8,342.3 L329.1,342.3 L329.3,342.3 L329.4,342.3 L329.6,342.3 L329.8,342.3 L330.0,342.3 L330.1,342.3 L330.3,342.4 L330.6,342.6 L330.7,342.8 L330.8,342.9 L331.1,343.1 L331.3,343.4 L331.5,342.9 L331.6,342.4 L331.8,341.2 L332.1,340.7 L332.2,340.7 L332.3,340.7 L332.6,340.7 L332.8,340.7 L333.1,340.7 L333.3,340.7 L333.4,340.7 L333.6,340.7 L333.8,340.7 L334.1,340.7 L334.2,340.7 L334.3,340.7 L334.6,340.7 L334.8,340.7 L334.9,340.7 L335.1,341.4 L335.3,342.4 L335.6,342.9 L335.8,342.9 L336.1,342.9 L336.2,342.9 L336.3,342.9 L336.6,342.9 L336.8,342.9 L336.9,342.9 L337.1,342.9 L337.3,343.1 L337.6,342.8 L337.7,342.6 L337.8,342.4 L338.1,342.4 L338.3,342.4 L338.5,342.4 L338.6,342.4 L338.8,342.4 L339.1,342.4 L339.3,342.4 L339.3,342.4 L339.6,342.4 L339.8,342.4 L340.0,342.4 L340.1,342.4 L340.3,342.2 L340.6,342.0 L340.8,341.8 L340.8,341.8 L341.1,341.6 L341.3,341.2 L341.6,340.9 L341.6,340.8 L341.8,340.7 L342.1,340.7 L342.3,340.7 L342.4,340.7 L342.6,340.7 L342.8,340.7 L343.1,340.4 L343.2,339.6 L343.3,339.6 L343.6,339.6 L343.8,339.6 L343.9,339.6 L344.1,339.6 L344.3,339.6 L344.6,339.6 L344.7,339.6 L344.8,339.6 L345.1,339.6 L345.3,339.6 L345.5,339.6 L345.6,339.6 L345.8,339.6 L346.1,339.6 L346.3,340.0 L346.6,339.2 L346.8,338.4 L347.1,337.7 L347.3,337.6 L347.6,337.4 L347.8,337.0 L348.1,336.2 L348.3,335.4 L348.5,335.0 L348.6,335.0 L348.8,334.7 L349.1,334.5 L349.2,334.5 L349.3,334.5 L349.6,334.5 L349.8,334.5 L349.9,334.5 L350.1,334.5 L350.3,334.5 L350.6,334.5 L350.6,334.5 L350.8,334.5 L351.1,334.5 L351.3,334.5 L351.4,334.5 L351.6,334.5 L351.8,334.5 L352.1,334.5 L352.1,334.6 L352.3,335.4 L352.6,336.5 L352.8,337.6 L352.9,338.0 L353.1,338.8 L353.3,340.1 L353.6,340.4 L353.6,340.3 L353.8,339.8 L354.1,339.2 L354.3,338.8 L354.6,338.7 L354.8,338.6 L355.0,338.4 L355.1,338.3 L355.3,337.8 L355.6,337.3 L355.7,337.0 L355.8,336.9 L356.1,336.6 L356.3,336.3 L356.5,336.0 L356.6,336.0 L356.8,336.0 L357.1,336.0 L357.2,336.0 L357.3,336.0 L357.6,336.0 L357.8,336.0 L358.0,336.0 L358.1,336.0 L358.3,336.0 L358.6,336.0 L358.7,336.0 L358.8,336.0 L359.1,336.0 L359.3,336.0 L359.6,336.0 L359.8,336.2 L360.0,336.3 L360.1,336.4 L360.3,336.4 L360.6,336.4 L360.6,336.4 L360.8,336.4 L361.1,336.6 L361.2,336.6 L361.3,336.6 L361.6,336.6 L361.8,336.6 L361.9,336.6 L362.1,336.6 L362.3,336.6 L362.6,336.6 L362.7,336.6 L362.8,336.6 L363.1,336.9 L363.3,337.1 L363.5,337.3 L363.6,337.2 L363.8,336.8 L364.1,336.4 L364.3,335.9 L364.6,335.3 L364.8,334.7 L365.0,334.5 L365.1,334.5 L365.3,334.3 L365.6,334.1 L365.7,334.1 L365.8,334.1 L366.1,334.1 L366.3,334.1 L366.3,334.1 L366.6,334.1 L366.8,334.1 L367.0,334.1 L367.1,334.1 L367.3,334.1 L367.6,334.1 L367.8,334.1 L368.0,334.1 L368.1,334.1 L368.3,334.1 L368.6,334.5 L368.8,336.2 L368.9,336.0 L369.1,335.1 L369.3,334.4 L369.6,333.7 L369.7,333.3 L369.8,333.2 L370.1,333.2 L370.3,333.2 L370.5,333.1 L370.6,333.1 L370.8,332.5 L371.1,332.0 L371.3,331.5 L371.3,331.4 L371.6,331.4 L371.8,331.4 L372.0,331.4 L372.1,331.4 L372.3,331.4 L372.6,331.4 L372.8,331.4 L373.1,331.4 L373.3,331.4 L373.5,331.4 L373.6,331.4 L373.8,331.4 L374.1,331.4 L374.2,331.4 L374.3,331.4 L374.6,331.4 L374.8,331.4 L375.0,331.4 L375.1,331.4 L375.3,331.6 L375.6,331.6 L375.7,331.6 L375.8,331.6 L376.1,331.6 L376.3,331.6 L376.4,331.6 L376.6,331.8 L376.8,332.1 L377.1,332.1 L377.2,332.1 L377.3,332.1 L377.6,332.1 L377.8,332.1 L377.9,332.1 L378.1,333.1 L378.3,334.2 L378.6,333.6 L378.6,333.4 L378.8,332.5 L379.1,331.3 L379.3,330.6 L379.6,330.6 L379.8,330.6 L380.0,330.6 L380.1,330.6 L380.3,330.6 L380.6,330.6 L380.7,330.6 L380.8,330.6 L381.1,330.6 L381.3,330.6 L381.5,330.6 L381.6,330.6 L381.8,330.6 L382.1,330.6 L382.2,330.6 L382.3,330.6 L382.6,330.7 L382.8,330.8 L383.0,330.9 L383.1,330.9 L383.3,331.3 L383.6,331.4 L383.7,331.4 L383.8,331.4 L384.1,331.4 L384.3,331.4 L384.3,331.4 L384.6,331.5 L384.8,331.8 L385.0,331.3 L385.1,331.1 L385.3,330.2 L385.6,329.3 L385.7,329.1 L385.8,328.9 L386.1,328.5 L386.3,327.5 L386.4,327.1 L386.6,325.6 L386.8,323.7 L387.0,323.0 L387.1,323.0 L387.3,323.0 L387.6,323.0 L387.7,323.0 L387.8,323.0 L388.1,323.0 L388.3,323.0 L388.4,323.0 L388.6,323.0 L388.8,323.0 L389.1,323.0 L389.3,323.0 L389.6,323.0 L389.7,323.0 L389.8,322.3 L390.1,319.2 L390.3,316.0 L390.6,314.7 L390.8,314.7 L391.1,314.7 L391.3,314.7 L391.6,314.7 L391.8,314.7 L391.9,314.7 L392.1,314.7 L392.3,314.7 L392.6,314.7 L392.8,314.7 L393.1,314.7 L393.3,314.7 L393.6,316.2 L393.8,318.6 L394.1,319.9 L394.2,318.0 L394.3,316.7 L394.6,313.5 L394.8,310.3 L395.1,307.1 L395.3,303.9 L395.6,302.6 L395.8,302.6 L396.1,303.2 L396.3,303.2 L396.6,303.2 L396.8,303.2 L396.9,303.2 L397.1,303.2 L397.3,303.2 L397.6,303.2 L397.8,303.2 L398.1,305.6 L398.3,308.1 L398.5,308.8 L398.6,308.8 L398.8,308.8 L399.1,308.8 L399.2,308.8 L399.3,308.8 L399.6,308.8 L399.8,308.8 L400.0,304.5 L400.1,303.3 L400.3,297.7 L400.6,297.7 L400.8,297.7 L401.1,297.7 L401.2,297.7 L401.3,297.7 L401.6,297.7 L401.8,297.7 L402.1,297.7 L402.3,301.1 L402.6,303.0 L402.8,296.8 L402.9,294.8 L403.1,291.8 L403.3,288.8 L403.5,288.8 L403.6,288.8 L403.8,288.8 L404.1,288.8 L404.1,288.8 L404.3,286.5 L404.6,282.8 L404.7,282.8 L404.8,282.8 L405.1,282.8 L405.3,282.8 L405.6,277.6 L405.8,275.8 L405.9,275.8 L406.1,275.8 L406.3,275.8 L406.5,275.8 L406.6,275.8 L406.8,270.6 L407.1,266.8 L407.2,266.8 L407.3,266.8 L407.6,266.8 L407.8,266.8 L408.1,259.8 L408.3,259.8 L408.4,259.8 L408.6,259.8 L408.8,259.8 L408.9,259.8 L409.1,259.8 L409.3,259.8 L409.4,259.8 L409.6,259.8 L409.8,259.8 L410.0,252.1 L410.1,248.3 L410.3,235.6 L410.6,232.7 L410.8,229.8 L411.1,228.6 L411.1,228.6 L411.3,228.6 L411.6,228.6 L411.8,228.6 L412.1,228.6 L412.3,228.6 L412.6,228.6 L412.8,229.1 L413.0,230.1 L413.1,230.4 L413.3,231.7 L413.6,233.0 L413.8,234.3 L414.1,237.3 L414.2,238.0 L414.3,238.5 L414.6,239.8 L414.8,241.0 L415.1,242.3 L415.3,243.5 L415.4,244.0 L415.6,244.8 L415.8,246.0 L415.9,246.5 L416.1,255.8 L416.3,299.6 L416.6,333.5 L416.8,333.3 L417.1,333.0 L417.3,322.7 L417.6,309.9 L417.7,302.1 L417.8,297.0 L418.1,240.8 L418.3,206.4 L418.4,205.8 L418.6,204.9 L418.8,204.0 L419.1,204.0 L419.3,204.0 L419.6,204.0 L419.8,204.0 L420.1,200.9 L420.2,197.5 L420.3,195.2 L420.6,188.5 L420.8,181.0 L421.0,175.0 L421.1,174.8 L421.3,173.8 L421.6,172.8 L421.6,172.6 L421.8,172.6 L422.1,172.6 L422.2,172.6 L422.3,172.6 L422.6,172.6 L422.8,172.6 L423.1,175.0 L423.3,177.3 L423.6,179.7 L423.8,182.1 L423.9,183.0 L424.1,185.5 L424.3,189.7 L424.6,193.5 L424.7,195.0 L424.8,196.0 L425.1,198.5 L425.3,201.0 L425.6,204.3 L425.8,207.7 L426.1,213.2 L426.2,217.4 L426.3,220.2 L426.6,207.0 L426.8,177.0 L426.9,174.8 L427.1,171.6 L427.3,168.3 L427.4,168.3 L427.6,168.3 L427.8,168.3 L428.1,168.3 L428.3,168.3 L428.5,168.5 L428.6,168.7 L428.8,169.3 L428.9,169.5 L429.1,169.9 L429.3,183.5 L429.6,205.5 L429.6,214.0 L429.8,187.2 L430.1,162.9 L430.3,157.6 L430.6,157.1 L430.7,156.8 L430.8,156.6 L431.1,156.6 L431.3,156.6 L431.4,156.6 L431.6,156.6 L431.8,156.6 L431.9,156.6 L432.1,159.6 L432.3,174.8 L432.5,177.0 L432.6,173.4 L432.8,155.2 L433.1,147.8 L433.1,147.8 L433.3,147.6 L433.5,147.4 L433.6,147.3 L433.8,147.3 L434.1,147.3 L434.2,147.3 L434.3,147.3 L434.6,147.3 L434.6,147.3 L434.8,147.3 L435.1,159.6 L435.1,160.3 L435.3,147.0 L435.6,130.3 L435.6,127.0 L435.8,127.0 L436.1,127.0 L436.2,127.0 L436.3,127.0 L436.6,127.0 L436.8,127.0 L437.1,127.2 L437.3,127.4 L437.5,127.5 L437.6,127.6 L437.8,127.8 L438.1,128.0 L438.3,130.1 L438.6,132.8 L438.8,134.5 L439.1,134.5 L439.3,134.5 L439.6,134.5 L439.8,134.5 L440.0,140.6 L440.1,143.6 L440.3,158.8 L440.6,174.0 L440.8,207.0 L441.1,206.0 L441.3,171.0 L441.5,153.6 L441.6,151.9 L441.8,143.5 L442.0,140.1 L442.1,140.1 L442.3,140.1 L442.5,140.1 L442.6,140.1 L442.8,140.1 L443.1,140.1 L443.3,141.4 L443.6,142.9 L443.6,143.2 L443.8,144.5 L444.1,146.1 L444.3,148.0 L444.4,149.0 L444.6,150.5 L444.8,153.0 L445.0,148.1 L445.1,146.5 L445.3,141.5 L445.6,141.5 L445.8,141.5 L446.1,141.5 L446.3,141.5 L446.5,142.6 L446.6,143.1 L446.8,143.3 L447.1,142.7 L447.3,142.7 L447.5,142.7 L447.6,142.7 L447.8,142.7 L448.1,142.7 L448.3,151.3 L448.6,162.0 L448.8,172.7 L448.9,177.0 L449.1,168.1 L449.3,163.9 L449.6,163.7 L449.7,163.6 L449.8,163.6 L450.1,163.6 L450.3,163.6 L450.6,163.6 L450.7,163.6 L450.8,163.6 L451.1,172.4 L451.2,181.2 L451.3,182.5 L451.6,173.0 L451.7,172.9 L451.8,172.8 L452.1,172.7 L452.1,172.7 L452.3,172.6 L452.6,172.6 L452.8,172.6 L453.1,172.6 L453.3,172.6 L453.6,179.9 L453.8,192.1 L453.9,197.0 L454.1,203.3 L454.3,213.7 L454.6,223.4 L454.6,224.9 L454.8,230.6 L455.1,237.7 L455.3,251.3 L455.4,260.5 L455.6,260.7 L455.8,247.0 L456.1,234.5 L456.2,227.0 L456.3,222.0 L456.6,221.6 L456.8,221.2 L456.9,221.0 L457.1,221.0 L457.3,221.0 L457.5,221.0 L457.6,221.0 L457.8,221.0 L458.1,221.0 L458.2,224.7 L458.3,228.4 L458.6,237.7 L458.8,247.0 L459.1,266.4 L459.2,247.0 L459.3,240.4 L459.6,223.9 L459.8,214.0 L460.1,213.9 L460.3,213.8 L460.6,213.8 L460.8,213.8 L461.0,213.8 L461.1,213.8 L461.3,213.8 L461.5,213.8 L461.6,213.8 L461.8,225.1 L462.1,239.2 L462.3,257.9 L462.5,247.0 L462.6,244.2 L462.8,230.5 L463.1,224.8 L463.1,224.7 L463.3,224.4 L463.5,224.1 L463.6,224.1 L463.8,224.0 L464.1,224.0 L464.2,224.0 L464.3,224.0 L464.6,224.0 L464.8,224.0 L465.1,227.8 L465.3,231.5 L465.6,234.5 L465.8,237.0 L466.1,237.0 L466.3,237.0 L466.6,237.0 L466.6,237.0 L466.8,237.0 L467.1,237.0 L467.3,237.3 L467.4,237.7 L467.6,238.2 L467.8,239.0 L468.0,239.7 L468.1,244.7 L468.3,257.0 L468.6,254.4 L468.6,254.4 L468.8,254.4 L469.0,254.4 L469.1,254.4 L469.3,254.4 L469.6,254.4 L469.8,258.1 L470.1,259.0 L470.3,259.0 L470.6,259.0 L470.6,259.0 L470.8,259.0 L471.1,259.0 L471.3,261.4 L471.4,263.8 L471.6,263.7 L471.8,258.9 L472.1,257.0 L472.3,257.0 L472.5,257.0 L472.6,257.0 L472.8,257.0 L473.1,257.0 L473.3,257.0 L473.6,258.8 L473.8,265.9 L474.1,265.9 L474.2,265.9 L474.3,265.9 L474.6,265.9 L474.8,265.9 L475.0,265.9 L475.1,265.9 L475.3,269.0 L475.5,275.3 L475.6,276.9 L475.8,279.0 L476.0,279.0 L476.1,278.2 L476.3,276.0 L476.6,276.0 L476.6,276.0 L476.8,276.0 L477.1,276.0 L477.2,276.0 L477.3,276.0 L477.6,276.0 L477.8,276.0 L478.0,276.0 L478.1,276.0 L478.3,278.5 L478.6,284.8 L478.8,285.0 L479.1,285.0 L479.3,285.0 L479.5,285.0 L479.6,285.0 L479.8,285.0 L480.1,289.0 L480.2,289.0 L480.3,289.0 L480.6,289.0 L480.8,289.0 L481.0,289.0 L481.1,289.0 L481.3,289.0 L481.6,289.0 L481.8,289.0 L482.1,290.1 L482.3,295.4 L482.6,296.0 L482.6,296.0 L482.8,296.0 L483.1,296.0 L483.3,296.0 L483.6,296.0 L483.8,297.4 L484.0,298.9 L484.1,299.2 L484.3,301.0 L484.6,304.0 L484.7,304.0 L484.8,304.0 L485.1,304.0 L485.3,304.0 L485.5,304.0 L485.6,304.0 L485.8,304.0 L486.1,304.0 L486.3,304.0 L486.6,304.7 L486.8,308.0 L487.1,308.0 L487.2,308.0 L487.3,308.0 L487.6,308.0 L487.8,308.0 L488.1,308.0 L488.2,308.0 L488.3,309.1 L488.6,311.0 L488.8,311.0 L489.1,311.0 L489.3,311.0 L489.5,311.0 L489.6,311.0 L489.8,311.0 L490.1,311.0 L490.3,311.0 L490.4,311.0 L490.6,311.6 L490.8,314.7 L491.1,317.0 L491.3,317.0 L491.6,317.0 L491.8,317.0 L492.1,317.0 L492.2,317.0 L492.3,317.0 L492.6,319.2 L492.8,320.0 L492.9,320.0 L493.1,320.0 L493.3,320.0 L493.6,320.0 L493.6,320.0 L493.8,320.0 L494.1,321.6 L494.2,323.1 L494.3,324.2 L494.6,326.8 L494.8,329.8 L495.0,329.5 L495.1,329.3 L495.3,328.8 L495.6,328.0 L495.7,327.3 L495.8,326.8 L496.1,325.7 L496.3,325.0 L496.5,325.0 L496.6,325.0 L496.8,325.0 L497.1,325.0 L497.2,325.0 L497.3,325.0 L497.6,325.0 L497.8,325.0 L497.9,325.0 L498.1,325.0 L498.3,325.3 L498.6,326.2 L498.6,326.6 L498.8,327.1 L499.1,327.7 L499.3,328.0 L499.4,328.1 L499.6,328.3 L499.8,328.9 L500.1,329.7 L500.1,329.8 L500.3,330.5 L500.6,331.3 L500.8,332.2 L501.1,333.0 L501.3,333.5 L501.5,333.7 L501.6,333.8 L501.8,334.1 L502.1,334.7 L502.2,335.0 L502.3,335.2 L502.6,335.9 L502.8,337.0 L502.9,337.4 L503.1,338.0 L503.3,338.7 L503.6,338.9 L503.6,339.0 L503.8,338.7 L504.1,338.1 L504.3,337.5 L504.5,337.3 L504.6,337.3 L504.8,337.3 L505.1,337.3 L505.3,337.3 L505.4,337.3 L505.6,337.3 L505.8,337.3 L506.1,337.3 L506.1,337.3 L506.3,337.3 L506.6,337.4 L506.8,337.6 L506.8,337.6 L507.1,337.7 L507.3,337.8 L507.6,337.9 L507.6,337.9 L507.8,337.9 L508.1,338.4 L508.3,338.9 L508.3,338.9 L508.6,339.0 L508.8,339.0 L509.0,339.0 L509.1,339.0 L509.3,339.0 L509.6,339.4 L509.8,339.8 L509.8,339.9 L510.1,340.3 L510.3,341.0 L510.5,341.6 L510.6,341.7 L510.8,342.3 L511.1,342.5 L511.3,342.8 L511.6,343.1 L511.8,343.5 L512.1,343.4 L512.1,343.4 L512.3,343.3 L512.6,343.2 L512.8,343.1 L512.8,343.1 L513.1,342.9 L513.3,342.8 L513.6,342.8 L513.6,342.8 L513.8,342.8 L514.1,342.8 L514.3,342.8 L514.6,342.8 L514.8,342.8 L515.0,342.8 L515.1,342.8 L515.3,342.8 L515.6,342.8 L515.7,342.8 L515.8,342.8 L516.1,342.8 L516.3,342.8 L516.4,342.8 L516.6,342.8 L516.8,342.8 L517.1,342.8 L517.1,342.8 L517.3,342.8 L517.6,343.1 L517.8,343.2 L518.1,343.2 L518.3,343.2 L518.5,343.2 L518.6,343.2 L518.8,343.2 L519.1,343.5 L519.2,343.8 L519.3,343.8 L519.6,344.2 L519.8,344.8 L520.0,345.2 L520.1,345.4 L520.3,351.4 L520.6,351.6 L520.7,351.8 L520.8,351.8 L521.1,351.6 L521.3,351.5 L521.4,351.5 L521.6,351.2 L521.8,350.7 L522.1,350.1 L522.1,349.9 L522.3,350.1 L522.6,350.5 L522.8,350.8 L522.9,350.9 L523.1,350.6 L523.3,350.1 L523.6,349.6 L523.6,349.5 L523.8,349.6 L524.1,349.8 L524.3,349.9 L524.5,350.0 L524.6,350.1 L524.8,350.6 L525.1,351.0 L525.3,351.4 L525.4,351.6 L525.6,351.6 L525.8,351.6 L526.1,351.6 L526.3,351.6 L526.6,351.6 L526.8,351.6 L527.1,351.6 L527.3,351.6 L527.6,351.6 L527.8,351.6 L528.1,351.6 L528.3,351.6 L528.6,351.6 L528.8,351.6 L529.1,351.6 L529.3,351.6 L529.6,351.6 L529.8,351.6 L530.1,351.6 L530.3,351.6 L530.6,351.6 L530.8,351.6 L531.1,351.6 L531.3,351.6 L531.6,351.6 L531.8,351.6 L532.1,351.6 L532.3,351.6 L532.6,351.6 L532.8,351.6 L533.1,351.6 L533.3,351.6 L533.6,351.6 L533.8,351.6 L534.1,351.6 L534.3,351.6 L534.6,351.6 L534.8,351.6 L535.1,351.6 L535.3,351.6 L535.6,351.6 L535.8,351.6 L536.1,351.6 L536.3,351.6 L536.6,351.6 L536.8,351.6 L537.1,351.6 L537.3,351.6 L537.6,351.6 L537.8,351.6 L538.1,351.6 L538.3,351.6 L538.6,351.6 L538.8,351.6 L539.1,351.6 L539.3,351.6 L539.6,351.6 L539.8,351.6 L540.1,351.6 L540.3,351.6 L540.6,351.6 L540.8,351.6 L541.1,351.6 L541.3,351.6 L541.6,351.6 L541.8,351.6 L542.1,351.6 L542.3,351.6 L542.3,352.0 L542.1,352.0 L541.8,352.0 L541.6,352.0 L541.3,352.0 L541.1,352.0 L540.8,352.0 L540.6,352.0 L540.3,352.0 L540.1,352.0 L539.8,352.0 L539.6,352.0 L539.3,352.0 L539.1,352.0 L538.8,352.0 L538.6,352.0 L538.3,352.0 L538.1,352.0 L537.8,352.0 L537.6,352.0 L537.3,352.0 L537.1,352.0 L536.8,352.0 L536.6,352.0 L536.3,352.0 L536.1,352.0 L535.8,352.0 L535.6,352.0 L535.3,352.0 L535.1,352.0 L534.8,352.0 L534.6,352.0 L534.3,352.0 L534.1,352.0 L533.8,352.0 L533.6,352.0 L533.3,352.0 L533.1,352.0 L532.8,352.0 L532.6,352.0 L532.3,352.0 L532.1,352.0 L531.8,352.0 L531.6,352.0 L531.3,352.0 L531.1,352.0 L530.8,352.0 L530.6,352.0 L530.3,352.0 L530.1,352.0 L529.8,352.0 L529.6,352.0 L529.3,352.0 L529.1,352.0 L528.8,352.0 L528.6,352.0 L528.3,352.0 L528.1,352.0 L527.8,352.0 L527.6,352.0 L527.3,352.0 L527.1,352.0 L526.8,352.0 L526.6,352.0 L526.3,352.0 L526.1,352.0 L525.8,352.0 L525.6,352.0 L525.4,352.0 L525.3,351.8 L525.1,351.4 L524.8,351.0 L524.6,350.5 L524.5,350.4 L524.3,350.3 L524.1,350.2 L523.8,350.0 L523.6,349.9 L523.6,350.0 L523.3,350.5 L523.1,351.0 L522.9,351.3 L522.8,351.2 L522.6,350.9 L522.3,350.5 L522.1,350.3 L522.1,350.5 L521.8,351.1 L521.6,351.6 L521.4,351.9 L521.3,351.9 L521.1,352.0 L520.8,352.2 L520.7,352.2 L520.6,352.0 L520.3,351.8 L520.1,352.0 L520.0,352.0 L519.8,352.0 L519.6,352.0 L519.3,352.0 L519.2,352.0 L519.1,352.0 L518.8,352.0 L518.6,352.0 L518.5,352.0 L518.3,352.0 L518.1,352.0 L517.8,351.7 L517.6,351.1 L517.3,350.5 L517.1,350.2 L517.1,350.1 L516.8,350.1 L516.6,350.1 L516.4,350.2 L516.3,350.2 L516.1,350.2 L515.8,350.2 L515.7,350.2 L515.6,350.2 L515.3,350.2 L515.1,350.2 L515.0,350.2 L514.8,350.2 L514.6,350.2 L514.3,350.2 L514.1,350.2 L513.8,350.2 L513.6,350.4 L513.6,350.5 L513.3,350.9 L513.1,351.2 L512.8,351.4 L512.8,351.5 L512.6,351.7 L512.3,351.7 L512.1,351.7 L512.1,351.7 L511.8,351.7 L511.6,351.7 L511.3,351.7 L511.1,351.7 L510.8,351.7 L510.6,351.7 L510.5,351.7 L510.3,351.7 L510.1,351.7 L509.8,351.1 L509.8,351.0 L509.6,350.3 L509.3,349.5 L509.1,349.0 L509.0,349.0 L508.8,348.8 L508.6,348.5 L508.3,348.0 L508.3,347.9 L508.1,347.3 L507.8,346.7 L507.6,346.2 L507.6,346.1 L507.3,345.7 L507.1,345.7 L506.8,345.7 L506.8,345.7 L506.6,345.7 L506.3,345.7 L506.1,345.4 L506.1,345.2 L505.8,345.7 L505.6,346.2 L505.4,346.5 L505.3,346.7 L505.1,347.3 L504.8,347.6 L504.6,347.6 L504.5,347.6 L504.3,347.6 L504.1,347.6 L503.8,347.6 L503.6,347.6 L503.6,347.6 L503.3,347.6 L503.1,347.6 L502.9,347.6 L502.8,347.6 L502.6,347.6 L502.3,347.6 L502.2,347.3 L502.1,346.8 L501.8,346.0 L501.6,345.3 L501.5,345.3 L501.3,345.2 L501.1,345.0 L500.8,344.4 L500.6,343.4 L500.3,342.3 L500.1,341.7 L500.1,341.6 L499.8,341.0 L499.6,340.4 L499.4,340.2 L499.3,340.1 L499.1,339.7 L498.8,339.4 L498.6,338.9 L498.6,338.5 L498.3,337.7 L498.1,336.8 L497.9,336.4 L497.8,336.0 L497.6,335.2 L497.3,335.6 L497.2,335.8 L497.1,336.0 L496.8,336.7 L496.6,337.5 L496.5,337.7 L496.3,338.2 L496.1,339.2 L495.8,340.4 L495.7,340.8 L495.6,341.5 L495.3,341.7 L495.1,341.7 L495.0,341.7 L494.8,341.7 L494.6,341.7 L494.3,341.7 L494.2,341.7 L494.1,341.7 L493.8,341.7 L493.6,341.7 L493.6,341.7 L493.3,341.7 L493.1,341.7 L492.9,341.7 L492.8,340.3 L492.6,336.9 L492.3,333.5 L492.2,332.5 L492.1,331.2 L491.8,331.2 L491.6,331.2 L491.3,331.2 L491.1,331.2 L490.8,330.3 L490.6,328.2 L490.4,328.2 L490.3,328.2 L490.1,328.2 L489.8,328.2 L489.6,328.2 L489.5,328.2 L489.3,328.2 L489.1,327.6 L488.8,325.2 L488.6,325.2 L488.3,325.2 L488.2,325.2 L488.1,325.2 L487.8,325.2 L487.6,325.2 L487.3,325.2 L487.2,325.2 L487.1,325.2 L486.8,324.1 L486.6,321.4 L486.3,321.2 L486.1,321.2 L485.8,321.2 L485.6,322.5 L485.5,323.6 L485.3,328.2 L485.1,328.2 L484.8,328.2 L484.7,328.2 L484.6,328.2 L484.3,328.2 L484.1,328.2 L484.0,328.2 L483.8,328.2 L483.6,328.2 L483.3,328.2 L483.1,328.2 L482.8,328.2 L482.6,325.2 L482.6,323.7 L482.3,316.2 L482.1,312.2 L481.8,312.2 L481.6,312.2 L481.3,312.2 L481.1,315.9 L481.0,317.8 L480.8,325.2 L480.6,325.2 L480.3,325.2 L480.2,325.2 L480.1,325.2 L479.8,325.2 L479.6,325.2 L479.5,325.2 L479.3,325.2 L479.1,325.2 L478.8,325.2 L478.6,325.2 L478.3,325.2 L478.1,317.9 L478.0,315.5 L477.8,305.8 L477.6,308.7 L477.3,321.2 L477.2,321.2 L477.1,321.2 L476.8,321.2 L476.6,321.2 L476.6,321.2 L476.3,321.2 L476.1,321.2 L476.0,321.2 L475.8,321.2 L475.6,321.2 L475.5,321.2 L475.3,321.2 L475.1,321.2 L475.0,321.2 L474.8,321.2 L474.6,310.4 L474.3,297.2 L474.2,297.2 L474.1,297.2 L473.8,297.2 L473.6,292.5 L473.3,291.2 L473.1,291.2 L472.8,291.2 L472.6,291.2 L472.5,291.2 L472.3,291.2 L472.1,291.2 L471.8,284.0 L471.6,284.0 L471.4,284.0 L471.3,284.0 L471.1,284.0 L470.8,284.0 L470.6,284.0 L470.6,284.0 L470.3,284.0 L470.1,282.8 L469.8,276.9 L469.6,291.4 L469.3,306.0 L469.1,306.0 L469.0,306.0 L468.8,306.0 L468.6,306.0 L468.6,306.0 L468.3,306.0 L468.1,306.0 L468.0,306.0 L467.8,306.0 L467.6,306.0 L467.4,306.0 L467.3,306.0 L467.1,306.0 L466.8,306.0 L466.6,296.0 L466.6,290.9 L466.3,265.8 L466.1,249.0 L465.8,249.0 L465.6,249.0 L465.3,249.0 L465.1,249.0 L464.8,249.0 L464.6,249.0 L464.3,265.4 L464.2,277.9 L464.1,296.6 L463.8,327.7 L463.6,327.7 L463.5,327.7 L463.3,327.7 L463.1,327.7 L463.1,327.7 L462.8,327.7 L462.6,327.7 L462.5,327.7 L462.3,327.7 L462.1,327.7 L461.8,327.7 L461.6,327.7 L461.5,327.7 L461.3,327.7 L461.1,315.7 L461.0,311.8 L460.8,295.8 L460.6,324.1 L460.3,330.6 L460.1,330.6 L459.8,330.6 L459.6,330.6 L459.3,330.6 L459.2,330.6 L459.1,330.6 L458.8,330.6 L458.6,330.6 L458.3,330.6 L458.2,330.6 L458.1,330.6 L457.8,322.8 L457.6,303.4 L457.5,299.6 L457.3,284.0 L457.1,296.2 L456.9,307.3 L456.8,314.6 L456.6,322.0 L456.3,322.0 L456.2,322.0 L456.1,322.0 L455.8,322.0 L455.6,322.0 L455.4,322.0 L455.3,322.0 L455.1,322.0 L454.8,322.0 L454.6,322.0 L454.6,322.0 L454.3,322.0 L454.1,317.4 L453.9,303.5 L453.8,294.3 L453.6,271.1 L453.3,248.0 L453.1,240.9 L452.8,233.7 L452.6,236.7 L452.3,241.0 L452.1,241.0 L452.1,241.0 L451.8,241.0 L451.7,241.0 L451.6,241.0 L451.3,241.0 L451.2,241.0 L451.1,241.0 L450.8,241.0 L450.7,241.0 L450.6,241.0 L450.3,269.8 L450.1,292.0 L449.8,292.0 L449.7,292.0 L449.6,292.0 L449.3,292.0 L449.1,292.0 L448.9,292.0 L448.8,292.0 L448.6,292.0 L448.3,292.0 L448.1,292.0 L447.8,292.0 L447.6,282.9 L447.5,273.8 L447.3,237.5 L447.1,192.1 L446.8,174.4 L446.6,165.7 L446.5,167.4 L446.3,174.0 L446.1,174.0 L445.8,174.0 L445.6,174.0 L445.3,174.0 L445.1,174.0 L445.0,174.0 L444.8,174.0 L444.6,174.0 L444.4,174.0 L444.3,174.0 L444.1,174.0 L443.8,174.0 L443.6,171.8 L443.6,170.8 L443.3,165.3 L443.1,198.0 L442.8,233.0 L442.6,257.9 L442.5,262.9 L442.3,282.9 L442.1,302.8 L442.0,302.8 L441.8,302.8 L441.6,302.8 L441.5,302.8 L441.3,302.8 L441.1,302.8 L440.8,302.8 L440.6,302.8 L440.3,302.8 L440.1,302.8 L440.0,302.8 L439.8,302.8 L439.6,302.8 L439.3,272.9 L439.1,235.4 L438.8,198.0 L438.6,173.9 L438.3,158.7 L438.1,143.5 L437.8,142.5 L437.6,142.5 L437.5,142.5 L437.3,146.3 L437.1,163.0 L436.8,185.0 L436.6,215.0 L436.3,233.0 L436.2,233.0 L436.1,233.0 L435.8,233.0 L435.6,233.0 L435.6,233.0 L435.3,233.0 L435.1,233.0 L435.1,233.0 L434.8,233.0 L434.6,233.0 L434.6,233.0 L434.3,233.0 L434.2,233.0 L434.1,237.7 L433.8,276.8 L433.6,276.8 L433.5,276.8 L433.3,276.8 L433.1,276.8 L433.1,276.8 L432.8,276.8 L432.6,276.8 L432.5,276.8 L432.3,276.8 L432.1,276.8 L431.9,276.8 L431.8,276.8 L431.6,276.8 L431.4,276.8 L431.3,276.8 L431.1,296.4 L430.8,321.9 L430.7,321.9 L430.6,321.9 L430.3,321.9 L430.1,321.9 L429.8,321.9 L429.6,321.9 L429.6,321.9 L429.3,321.9 L429.1,321.9 L428.9,321.9 L428.8,321.9 L428.6,321.9 L428.5,321.9 L428.3,321.9 L428.1,279.4 L427.8,281.2 L427.6,305.0 L427.4,309.8 L427.3,309.8 L427.1,309.8 L426.9,309.8 L426.8,309.8 L426.6,309.8 L426.3,309.8 L426.2,309.8 L426.1,309.8 L425.8,309.8 L425.6,309.8 L425.3,309.8 L425.1,309.8 L424.8,289.6 L424.7,269.4 L424.6,239.1 L424.3,223.4 L424.1,216.4 L423.9,213.7 L423.8,212.3 L423.6,209.0 L423.3,206.0 L423.1,203.5 L422.8,201.0 L422.6,198.2 L422.3,199.0 L422.2,201.3 L422.1,204.6 L421.8,210.2 L421.6,214.8 L421.6,215.9 L421.3,217.0 L421.1,217.0 L421.0,217.0 L420.8,217.0 L420.6,217.0 L420.3,217.0 L420.2,217.0 L420.1,224.3 L419.8,280.5 L419.6,310.7 L419.3,323.6 L419.1,336.4 L418.8,339.2 L418.6,339.4 L418.4,339.5 L418.3,339.6 L418.1,339.8 L417.8,340.1 L417.7,340.2 L417.6,340.3 L417.3,340.5 L417.1,340.6 L416.8,340.6 L416.6,340.6 L416.3,340.6 L416.1,340.6 L415.9,340.6 L415.8,340.6 L415.6,340.6 L415.4,340.6 L415.3,340.6 L415.1,340.6 L414.8,340.6 L414.6,331.8 L414.3,288.0 L414.2,270.5 L414.1,252.8 L413.8,248.5 L413.6,247.3 L413.3,246.0 L413.1,244.8 L413.0,244.5 L412.8,243.5 L412.6,242.3 L412.3,241.0 L412.1,241.4 L411.8,257.3 L411.6,276.4 L411.3,295.5 L411.1,310.7 L411.1,314.5 L410.8,326.0 L410.6,326.0 L410.3,326.0 L410.1,326.0 L410.0,326.0 L409.8,326.0 L409.6,326.0 L409.4,326.0 L409.3,326.0 L409.1,324.0 L408.9,318.0 L408.8,314.0 L408.6,304.0 L408.4,294.6 L408.3,287.3 L408.1,295.0 L407.8,295.0 L407.6,295.0 L407.3,295.0 L407.2,295.0 L407.1,295.0 L406.8,303.0 L406.6,303.0 L406.5,303.0 L406.3,303.0 L406.1,303.0 L405.9,303.0 L405.8,303.0 L405.6,310.0 L405.3,310.0 L405.1,310.0 L404.8,310.0 L404.7,310.0 L404.6,310.0 L404.3,310.3 L404.1,319.0 L404.1,321.2 L403.8,332.0 L403.6,332.0 L403.5,332.0 L403.3,332.0 L403.1,332.0 L402.9,332.0 L402.8,332.0 L402.6,332.0 L402.3,332.0 L402.1,332.0 L401.8,328.6 L401.6,324.3 L401.3,321.0 L401.2,323.2 L401.1,326.6 L400.8,330.0 L400.6,330.0 L400.3,330.0 L400.1,330.0 L400.0,330.0 L399.8,330.0 L399.6,330.0 L399.3,330.0 L399.2,330.0 L399.1,329.0 L398.8,324.0 L398.6,324.0 L398.5,324.0 L398.3,324.0 L398.1,324.0 L397.8,324.0 L397.6,323.5 L397.3,321.1 L397.1,318.6 L396.9,319.9 L396.8,321.2 L396.6,324.4 L396.3,327.6 L396.1,330.8 L395.8,320.9 L395.6,324.1 L395.3,327.3 L395.1,330.5 L394.8,333.7 L394.6,336.9 L394.3,340.1 L394.2,341.4 L394.1,339.9 L393.8,337.5 L393.6,335.0 L393.3,332.6 L393.1,330.2 L392.8,327.7 L392.6,325.3 L392.3,322.8 L392.1,320.4 L391.9,318.9 L391.8,320.2 L391.6,323.4 L391.3,326.5 L391.1,329.7 L390.8,332.9 L390.6,336.1 L390.3,339.3 L390.1,342.4 L389.8,345.6 L389.7,346.9 L389.6,344.6 L389.3,340.8 L389.1,337.1 L388.8,333.3 L388.6,329.5 L388.4,327.2 L388.3,327.9 L388.1,329.8 L387.8,331.7 L387.7,332.4 L387.6,332.7 L387.3,333.1 L387.1,333.5 L387.0,333.6 L386.8,334.4 L386.6,335.3 L386.4,336.1 L386.3,336.1 L386.1,336.6 L385.8,337.1 L385.7,337.3 L385.6,337.6 L385.3,338.1 L385.1,338.6 L385.0,338.7 L384.8,338.2 L384.6,337.5 L384.3,336.9 L384.3,336.9 L384.1,336.7 L383.8,336.5 L383.7,336.5 L383.6,336.3 L383.3,336.0 L383.1,335.7 L383.0,335.6 L382.8,335.8 L382.6,336.0 L382.3,336.1 L382.2,336.2 L382.1,335.9 L381.8,335.5 L381.6,335.1 L381.5,335.0 L381.3,335.0 L381.1,334.9 L380.8,334.8 L380.7,334.8 L380.6,335.5 L380.3,336.7 L380.1,337.8 L380.0,338.1 L379.8,338.4 L379.6,338.9 L379.3,339.3 L379.1,340.1 L378.8,340.9 L378.6,341.5 L378.6,341.7 L378.3,342.9 L378.1,344.2 L377.9,344.9 L377.8,344.4 L377.6,343.2 L377.3,342.0 L377.2,341.2 L377.1,340.6 L376.8,338.9 L376.6,337.3 L376.4,336.3 L376.3,336.4 L376.1,336.6 L375.8,336.9 L375.7,337.0 L375.6,336.8 L375.3,336.4 L375.1,336.0 L375.0,335.8 L374.8,336.0 L374.6,336.2 L374.3,336.4 L374.2,336.5 L374.1,336.3 L373.8,335.9 L373.6,335.6 L373.5,335.6 L373.3,335.6 L373.1,335.6 L372.8,335.6 L372.6,336.2 L372.3,336.7 L372.1,337.3 L372.0,337.3 L371.8,337.4 L371.6,337.4 L371.3,337.4 L371.3,337.4 L371.1,337.9 L370.8,338.6 L370.6,339.3 L370.5,339.4 L370.3,341.0 L370.1,342.9 L369.8,344.9 L369.7,345.7 L369.6,347.0 L369.3,349.2 L369.1,351.4 L368.9,352.7 L368.8,351.9 L368.6,349.9 L368.3,347.8 L368.1,345.8 L368.0,345.0 L367.8,344.0 L367.6,342.2 L367.3,340.4 L367.1,338.7 L367.0,338.3 L366.8,338.5 L366.6,338.7 L366.3,338.9 L366.3,338.9 L366.1,339.5 L365.8,340.1 L365.7,340.4 L365.6,340.6 L365.3,341.0 L365.1,341.4 L365.0,341.5 L364.8,341.6 L364.6,341.7 L364.3,341.8 L364.1,342.0 L363.8,342.3 L363.6,342.5 L363.5,342.6 L363.3,342.5 L363.1,342.5 L362.8,342.4 L362.7,342.4 L362.6,342.2 L362.3,341.9 L362.1,341.6 L361.9,341.4 L361.8,341.3 L361.6,341.1 L361.3,340.8 L361.2,340.8 L361.1,340.8 L360.8,340.9 L360.6,340.9 L360.6,340.9 L360.3,341.0 L360.1,341.1 L360.0,341.1 L359.8,341.0 L359.6,340.8 L359.3,340.6 L359.1,340.6 L358.8,340.6 L358.7,340.7 L358.6,340.6 L358.3,340.4 L358.1,340.2 L358.0,340.2 L357.8,340.5 L357.6,340.8 L357.3,341.1 L357.2,341.2 L357.1,341.5 L356.8,342.0 L356.6,342.5 L356.5,342.7 L356.3,342.8 L356.1,342.9 L355.8,343.0 L355.7,343.0 L355.6,343.4 L355.3,344.0 L355.1,344.6 L355.0,344.7 L354.8,345.3 L354.6,346.0 L354.3,346.6 L354.1,347.0 L353.8,347.4 L353.6,347.7 L353.6,347.9 L353.3,348.9 L353.1,349.8 L352.9,350.4 L352.8,349.8 L352.6,348.4 L352.3,347.0 L352.1,346.0 L352.1,345.6 L351.8,344.3 L351.6,343.0 L351.4,342.1 L351.3,341.8 L351.1,340.7 L350.8,339.6 L350.6,338.7 L350.6,338.7 L350.3,338.9 L350.1,339.2 L349.9,339.3 L349.8,339.6 L349.6,340.4 L349.3,341.2 L349.2,341.5 L349.1,341.6 L348.8,341.8 L348.6,341.9 L348.5,342.0 L348.3,342.6 L348.1,343.4 L347.8,344.2 L347.6,345.1 L347.3,346.0 L347.1,346.9 L346.8,348.2 L346.6,349.5 L346.3,350.8 L346.1,349.8 L345.8,348.7 L345.6,347.7 L345.5,347.5 L345.3,346.6 L345.1,345.4 L344.8,344.3 L344.7,343.8 L344.6,344.6 L344.3,345.9 L344.1,347.3 L343.9,348.1 L343.8,347.6 L343.6,346.5 L343.3,345.4 L343.2,344.9 L343.1,345.1 L342.8,345.4 L342.6,345.8 L342.4,346.0 L342.3,346.0 L342.1,346.2 L341.8,346.4 L341.6,346.5 L341.6,346.6 L341.3,346.9 L341.1,347.3 L340.8,347.7 L340.8,347.7 L340.6,347.8 L340.3,347.9 L340.1,348.0 L340.0,348.0 L339.8,347.6 L339.6,347.1 L339.3,346.7 L339.3,346.6 L339.1,347.0 L338.8,347.5 L338.6,348.0 L338.5,348.1 L338.3,348.1 L338.1,348.1 L337.8,348.1 L337.7,348.1 L337.6,347.9 L337.3,347.7 L337.1,347.4 L336.9,347.3 L336.8,347.4 L336.6,347.7 L336.3,348.0 L336.2,348.1 L336.1,347.9 L335.8,347.5 L335.6,347.1 L335.3,347.4 L335.1,347.6 L334.9,347.8 L334.8,347.8 L334.6,348.1 L334.3,348.3 L334.2,348.4 L334.1,347.7 L333.8,346.6 L333.6,345.6 L333.4,344.9 L333.3,345.4 L333.1,346.6 L332.8,347.9 L332.6,349.1 L332.3,350.3 L332.2,350.8 L332.1,350.3 L331.8,349.6 L331.6,348.8 L331.5,348.5 L331.3,348.4 L331.1,348.1 L330.8,347.8 L330.7,347.7 L330.6,347.7 L330.3,347.8 L330.1,347.8 L330.0,347.8 L329.8,347.6 L329.6,347.3 L329.4,347.1 L329.3,347.1 L329.1,346.8 L328.8,346.6 L328.7,346.5 L328.6,346.7 L328.3,346.9 L328.1,347.2 L327.8,347.4 L327.8,347.5 L327.6,347.7 L327.3,347.9 L327.1,348.2 L326.8,348.4 L326.6,347.2 L326.4,346.5 L326.3,346.6 L326.1,346.8 L325.8,347.0 L325.6,347.2 L325.6,347.3 L325.3,348.0 L325.1,348.6 L324.8,349.2 L324.6,349.6 L324.3,349.9 L324.1,350.3 L324.0,350.3 L323.8,350.7 L323.6,351.0 L323.3,351.4 L323.2,351.6 L323.1,351.3 L322.8,350.9 L322.6,350.4 L322.3,350.0 L322.1,349.6 L322.1,349.6 L321.8,349.8 L321.6,350.0 L321.4,350.1 L321.3,350.3 L321.1,350.9 L320.8,351.4 L320.7,351.6 L320.6,351.6 L320.3,351.5 L320.1,351.5 L320.0,351.5 L319.8,351.6 L319.6,351.8 L319.3,352.0 L319.1,351.8 L318.8,351.6 L318.6,351.5 L318.4,351.3 L318.3,351.3 L318.1,351.2 L317.8,351.0 L317.6,350.9 L317.4,350.8 L317.3,350.9 L317.1,351.1 L316.8,351.3 L316.6,351.5 L316.3,351.8 L316.1,352.0 L315.8,352.2 L315.6,352.2 L315.3,352.0 L315.1,352.0 L314.8,352.0 L314.6,352.0 L314.3,352.0 L314.1,352.0 L313.8,352.0 L313.6,352.0 L313.3,352.0 L313.1,352.0 L312.8,352.0 L312.6,352.0 L312.3,352.0 L312.1,352.0 L311.8,352.0 L311.6,352.0 L311.3,352.0 L311.1,352.0 L310.8,352.0 L310.6,352.0 L310.3,352.0 L310.1,352.0 L309.8,352.0 L309.6,352.0 L309.3,352.0 L309.1,352.0 L308.8,352.0Z"/>
<path class="ln" d="M308.8,351.8 L315.8,351.8 L317.4,350.4 L318.4,350.9 L319.3,351.6 L320.0,351.1 L320.7,351.2 L321.4,349.8 L322.1,349.2 L323.2,351.2 L324.0,350.0 L324.8,348.8 L325.6,346.9 L326.4,346.2 L326.8,348.0 L327.8,347.1 L328.7,346.2 L329.4,346.8 L330.0,347.5 L330.7,347.4 L331.5,348.2 L332.2,350.4 L333.4,344.6 L334.2,348.0 L334.9,347.4 L335.6,346.8 L336.2,347.8 L336.9,347.0 L337.7,347.7 L338.5,347.8 L339.3,346.3 L340.0,347.7 L340.8,347.3 L341.6,346.2 L342.4,345.7 L343.2,344.6 L343.9,347.7 L344.7,343.5 L345.5,347.2 L346.3,350.4 L347.1,346.5 L347.8,343.9 L348.5,341.7 L349.2,341.2 L349.9,339.0 L350.6,338.5 L351.4,341.8 L352.1,345.7 L352.9,350.0 L353.6,347.4 L354.3,346.3 L355.0,344.4 L355.7,342.7 L356.5,342.4 L357.2,340.9 L358.0,339.9 L358.7,340.4 L359.3,340.3 L360.0,340.8 L360.6,340.7 L361.2,340.5 L361.9,341.1 L362.7,342.1 L363.5,342.3 L364.3,341.5 L365.0,341.3 L365.7,340.2 L366.3,338.6 L367.0,338.1 L368.0,344.7 L368.9,352.3 L369.7,345.3 L370.5,339.2 L371.3,337.1 L372.0,337.1 L372.8,335.4 L373.5,335.4 L374.2,336.3 L375.0,335.6 L375.7,336.8 L376.4,336.1 L377.2,341.0 L377.9,344.6 L378.6,341.2 L379.3,339.1 L380.0,337.8 L380.7,334.6 L381.5,334.8 L382.2,336.0 L383.0,335.4 L383.7,336.2 L384.3,336.7 L385.0,338.5 L385.7,337.1 L386.4,335.8 L387.0,333.4 L387.7,332.2 L388.4,327.1 L389.7,346.6 L391.9,318.9 L394.2,341.1 L396.9,306.9 L398.5,322.4 L399.2,312.5 L400.0,328.3 L401.2,301.5 L402.9,330.3 L403.5,304.6 L404.1,292.7 L404.7,308.5 L405.3,286.8 L405.9,301.6 L406.5,279.9 L407.2,293.7 L407.8,271.0 L408.4,281.8 L408.9,264.1 L409.4,300.6 L410.0,324.3 L411.1,241.3 L411.8,233.2 L413.0,239.4 L414.2,245.3 L415.4,251.2 L415.9,337.8 L417.7,336.2 L418.4,300.6 L418.8,211.7 L419.3,208.7 L420.2,215.7 L421.0,197.9 L421.6,180.1 L422.2,177.7 L423.3,188.0 L423.9,197.9 L424.7,205.8 L425.3,213.7 L425.8,227.5 L426.2,307.3 L426.9,241.3 L427.4,182.1 L427.8,173.5 L428.5,175.1 L428.9,201.8 L429.6,319.3 L430.3,201.8 L430.7,163.3 L431.4,161.9 L431.9,191.9 L432.5,274.7 L433.1,182.1 L433.5,153.4 L434.2,152.7 L434.6,172.2 L435.1,231.5 L435.6,172.2 L436.2,132.7 L437.5,133.6 L438.3,142.0 L439.3,140.1 L440.0,182.1 L440.8,300.4 L441.5,231.5 L442.0,162.3 L442.5,145.6 L443.6,152.4 L444.4,160.3 L445.0,173.2 L445.8,147.0 L446.5,154.4 L447.5,148.2 L448.3,182.1 L448.9,289.8 L449.3,201.8 L449.7,169.2 L450.3,168.8 L450.7,191.9 L451.2,239.4 L451.7,196.9 L452.1,178.1 L452.8,177.7 L453.3,201.8 L453.9,226.5 L454.6,246.3 L455.4,319.4 L456.2,261.1 L456.9,226.5 L457.5,225.5 L458.2,251.2 L459.2,327.9 L459.8,251.2 L460.3,218.6 L461.0,218.4 L461.5,246.3 L462.5,325.0 L463.1,251.2 L463.5,229.5 L464.2,228.5 L464.8,237.4 L465.8,247.3 L466.6,241.3 L467.4,244.0 L468.0,303.6 L468.6,269.0 L469.0,258.5 L469.8,273.0 L470.6,263.1 L471.4,281.8 L472.5,261.1 L473.3,288.8 L474.2,269.9 L475.0,294.7 L475.5,282.8 L476.0,318.4 L476.6,288.8 L477.2,279.9 L478.0,299.6 L478.8,288.8 L479.5,322.4 L480.2,296.7 L481.0,292.7 L481.8,309.5 L482.6,299.6 L483.3,304.6 L484.0,325.3 L484.7,309.5 L485.5,307.5 L486.3,318.4 L487.2,311.5 L488.2,322.4 L489.5,314.5 L490.4,325.3 L491.3,320.4 L492.2,328.3 L492.9,323.3 L493.6,330.6 L494.2,338.7 L495.0,335.3 L495.7,333.2 L496.5,331.7 L497.2,328.3 L497.9,330.8 L498.6,331.7 L499.4,333.9 L500.1,336.4 L500.8,337.3 L501.5,338.8 L502.2,341.8 L502.9,342.3 L503.6,344.5 L504.5,342.6 L505.4,340.4 L506.1,340.9 L506.8,341.0 L507.6,342.6 L508.3,342.1 L509.0,343.3 L509.8,345.3 L510.5,346.1 L511.3,348.5 L512.1,347.6 L512.8,346.5 L513.6,346.3 L514.3,345.9 L515.0,347.1 L515.7,346.8 L516.4,345.9 L517.1,347.0 L517.8,346.3 L518.5,347.2 L519.2,348.9 L520.0,351.2 L520.7,352.0 L521.4,351.7 L522.1,350.2 L522.9,351.2 L523.6,349.7 L524.5,350.3 L525.4,351.8 L542.3,351.8"/>
<path class="bd" d="M544.8,351.5 L545.0,351.5 L545.3,351.5 L545.5,351.5 L545.8,351.5 L546.0,351.5 L546.3,351.5 L546.5,351.5 L546.8,351.5 L547.0,351.5 L547.3,351.5 L547.5,351.5 L547.8,351.5 L548.0,351.5 L548.3,351.5 L548.5,351.5 L548.8,351.5 L549.0,351.5 L549.3,351.5 L549.5,351.5 L549.8,351.5 L550.0,351.5 L550.3,351.5 L550.5,351.5 L550.8,351.5 L551.0,351.5 L551.3,351.5 L551.5,351.5 L551.8,351.5 L552.0,351.3 L552.3,351.1 L552.5,350.8 L552.8,350.6 L553.0,350.4 L553.3,350.2 L553.4,350.1 L553.5,350.2 L553.8,350.3 L554.0,350.5 L554.3,350.6 L554.4,350.6 L554.5,350.8 L554.8,350.9 L555.0,351.1 L555.3,351.3 L555.5,351.1 L555.8,350.9 L556.0,350.8 L556.0,350.8 L556.3,350.8 L556.5,350.9 L556.7,350.9 L556.8,350.7 L557.0,350.2 L557.3,349.6 L557.4,349.4 L557.5,349.3 L557.8,349.1 L558.0,348.9 L558.1,348.9 L558.3,349.3 L558.5,349.7 L558.8,350.2 L559.0,350.6 L559.2,350.9 L559.3,350.7 L559.5,350.3 L559.8,350.0 L560.0,349.6 L560.0,349.6 L560.3,349.2 L560.5,348.9 L560.8,348.5 L561.0,347.9 L561.3,347.3 L561.5,346.6 L561.6,346.5 L561.8,346.3 L562.0,346.1 L562.3,345.9 L562.4,345.8 L562.5,346.5 L562.8,347.7 L563.0,347.5 L563.3,347.2 L563.5,347.0 L563.8,346.8 L563.8,346.7 L564.0,346.5 L564.3,346.2 L564.5,346.0 L564.7,345.8 L564.8,345.9 L565.0,346.1 L565.3,346.4 L565.4,346.4 L565.5,346.6 L565.8,346.9 L566.0,347.1 L566.0,347.1 L566.3,347.1 L566.5,347.0 L566.7,347.0 L566.8,347.1 L567.0,347.4 L567.3,347.7 L567.5,347.8 L567.5,348.1 L567.8,348.9 L568.0,349.6 L568.2,350.1 L568.3,349.6 L568.5,348.4 L568.8,347.2 L569.0,345.9 L569.3,344.7 L569.4,344.2 L569.5,344.9 L569.8,345.9 L570.0,347.0 L570.2,347.7 L570.3,347.6 L570.5,347.4 L570.8,347.1 L570.9,347.1 L571.0,346.9 L571.3,346.7 L571.5,346.4 L571.8,346.8 L572.0,347.2 L572.2,347.4 L572.3,347.3 L572.5,347.0 L572.8,346.7 L572.9,346.6 L573.0,346.7 L573.3,347.0 L573.5,347.2 L573.7,347.4 L573.8,347.4 L574.0,347.4 L574.3,347.4 L574.5,347.4 L574.5,347.3 L574.8,346.8 L575.0,346.3 L575.3,345.9 L575.3,346.0 L575.5,346.4 L575.8,346.9 L576.0,347.3 L576.0,347.3 L576.3,347.2 L576.5,347.1 L576.8,347.0 L576.8,347.0 L577.0,346.6 L577.3,346.2 L577.5,345.9 L577.6,345.8 L577.8,345.7 L578.0,345.5 L578.3,345.3 L578.4,345.3 L578.5,345.1 L578.8,344.7 L579.0,344.4 L579.2,344.2 L579.3,344.7 L579.5,345.8 L579.8,346.9 L579.9,347.4 L580.0,346.6 L580.3,345.2 L580.5,343.9 L580.7,343.1 L580.8,343.6 L581.0,344.7 L581.3,345.9 L581.5,346.8 L581.5,347.0 L581.8,348.0 L582.0,349.1 L582.3,350.1 L582.5,348.8 L582.8,347.5 L583.0,346.2 L583.3,345.3 L583.5,344.4 L583.8,343.5 L584.0,342.7 L584.3,341.9 L584.5,341.3 L584.5,341.2 L584.8,341.1 L585.0,340.9 L585.2,340.8 L585.3,340.5 L585.5,339.7 L585.8,338.9 L585.9,338.6 L586.0,338.5 L586.3,338.2 L586.5,338.0 L586.6,338.0 L586.8,338.9 L587.0,340.0 L587.3,341.1 L587.4,341.4 L587.5,342.3 L587.8,343.6 L588.0,344.9 L588.1,345.3 L588.3,346.3 L588.5,347.7 L588.8,349.1 L588.9,349.7 L589.0,349.1 L589.3,348.2 L589.5,347.2 L589.6,347.0 L589.8,346.7 L590.0,346.3 L590.3,345.9 L590.5,345.3 L590.8,344.6 L591.0,344.0 L591.0,343.9 L591.3,343.3 L591.5,342.7 L591.7,342.3 L591.8,342.3 L592.0,342.2 L592.3,342.1 L592.5,342.0 L592.5,341.8 L592.8,341.3 L593.0,340.8 L593.2,340.5 L593.3,340.4 L593.5,340.1 L593.8,339.8 L594.0,339.5 L594.0,339.5 L594.3,339.7 L594.5,339.9 L594.6,340.0 L594.8,339.9 L595.0,339.9 L595.3,339.9 L595.5,340.1 L595.8,340.3 L596.0,340.4 L596.0,340.4 L596.3,340.3 L596.5,340.2 L596.6,340.2 L596.8,340.2 L597.0,340.1 L597.2,340.1 L597.3,340.1 L597.5,340.4 L597.8,340.6 L597.9,340.7 L598.0,340.9 L598.3,341.2 L598.5,341.5 L598.7,341.7 L598.8,341.7 L599.0,341.8 L599.3,341.8 L599.5,341.9 L599.5,341.8 L599.8,341.6 L600.0,341.3 L600.3,341.1 L600.5,341.0 L600.8,340.9 L601.0,340.8 L601.0,340.7 L601.3,340.3 L601.5,339.9 L601.6,339.7 L601.8,339.4 L602.0,338.8 L602.3,338.2 L602.3,338.2 L602.5,338.0 L602.8,337.8 L603.0,337.6 L603.0,338.0 L603.3,339.7 L603.5,341.5 L603.8,343.3 L604.0,344.3 L604.0,345.1 L604.3,347.1 L604.5,349.2 L604.8,351.2 L604.9,352.0 L605.0,350.7 L605.3,348.5 L605.5,346.3 L605.7,345.0 L605.8,344.2 L606.0,342.2 L606.3,340.3 L606.5,338.7 L606.5,338.6 L606.8,337.9 L607.0,337.2 L607.3,336.7 L607.3,336.7 L607.5,336.7 L607.8,336.7 L608.0,336.6 L608.0,336.6 L608.3,336.0 L608.5,335.5 L608.8,334.9 L609.0,334.9 L609.3,334.9 L609.5,334.9 L609.5,334.9 L609.8,335.2 L610.0,335.6 L610.2,335.8 L610.3,335.7 L610.5,335.5 L610.8,335.3 L611.0,335.1 L611.0,335.3 L611.3,335.7 L611.5,336.1 L611.7,336.3 L611.8,336.2 L612.0,335.9 L612.3,335.7 L612.4,335.6 L612.5,336.6 L612.8,338.2 L613.0,339.9 L613.1,340.5 L613.3,341.3 L613.5,342.5 L613.8,343.7 L613.9,344.2 L614.0,343.5 L614.3,342.2 L614.5,341.0 L614.6,340.8 L614.8,340.2 L615.0,339.4 L615.3,338.6 L615.5,338.2 L615.8,337.7 L616.0,337.4 L616.0,337.1 L616.3,336.0 L616.5,334.8 L616.7,334.1 L616.8,334.1 L617.0,334.2 L617.3,334.3 L617.5,334.3 L617.5,334.4 L617.8,334.8 L618.0,335.2 L618.2,335.5 L618.3,335.4 L618.5,335.3 L618.8,335.1 L619.0,334.9 L619.0,335.0 L619.3,335.3 L619.5,335.6 L619.7,335.8 L619.8,335.8 L620.0,336.0 L620.3,336.2 L620.3,336.2 L620.5,336.8 L620.8,337.5 L621.0,338.0 L621.0,337.9 L621.3,337.4 L621.5,336.9 L621.7,336.6 L621.8,336.4 L622.0,335.9 L622.3,335.4 L622.4,335.4 L622.5,334.6 L622.8,333.7 L623.0,332.9 L623.0,332.8 L623.3,332.4 L623.5,332.0 L623.7,331.7 L623.8,331.0 L624.0,329.1 L624.3,327.2 L624.4,326.5 L624.5,328.8 L624.8,332.6 L625.0,336.4 L625.3,340.1 L625.5,343.9 L625.7,346.2 L625.8,344.9 L626.0,341.7 L626.3,338.6 L626.5,335.4 L626.8,332.2 L627.0,329.0 L627.3,325.8 L627.5,322.7 L627.8,319.5 L627.9,318.2 L628.0,319.7 L628.3,322.1 L628.5,324.6 L628.8,327.0 L629.0,329.5 L629.3,331.9 L629.5,334.3 L629.8,336.8 L630.0,339.2 L630.2,340.7 L630.3,339.4 L630.5,336.2 L630.8,333.0 L631.0,329.8 L631.3,326.6 L631.5,323.4 L631.8,320.2 L632.0,317.0 L632.3,313.8 L632.5,310.6 L632.8,307.4 L632.9,306.1 L633.0,307.6 L633.3,310.0 L633.5,312.4 L633.8,314.9 L634.0,317.3 L634.3,319.8 L634.5,321.7 L634.5,321.0 L634.8,317.4 L635.0,313.8 L635.2,311.7 L635.3,313.7 L635.5,318.7 L635.8,323.7 L636.0,327.7 L636.0,326.6 L636.3,320.9 L636.5,315.3 L636.8,309.6 L637.0,304.0 L637.2,300.6 L637.3,302.3 L637.5,306.6 L637.8,310.9 L638.0,315.2 L638.3,319.4 L638.5,323.7 L638.8,328.0 L638.9,329.7 L639.0,323.2 L639.3,312.4 L639.5,303.7 L639.5,302.7 L639.8,297.7 L640.0,292.7 L640.1,291.7 L640.3,297.0 L640.5,303.7 L640.7,307.7 L640.8,304.0 L641.0,294.9 L641.3,285.7 L641.5,292.0 L641.8,298.2 L641.9,300.7 L642.0,295.2 L642.3,286.0 L642.5,278.7 L642.5,279.7 L642.8,284.7 L643.0,289.7 L643.2,292.7 L643.3,288.9 L643.5,279.3 L643.8,269.7 L644.0,274.3 L644.3,278.9 L644.4,280.7 L644.5,275.3 L644.8,266.3 L644.9,262.7 L645.0,273.8 L645.3,292.3 L645.4,299.7 L645.5,305.7 L645.8,315.7 L646.0,323.7 L646.0,319.9 L646.3,300.8 L646.5,281.7 L646.8,262.6 L647.0,243.5 L647.1,239.7 L647.3,237.4 L647.5,234.4 L647.8,231.5 L648.0,231.5 L648.3,232.3 L648.5,233.6 L648.8,234.9 L649.0,235.9 L649.0,236.2 L649.3,237.4 L649.5,238.7 L649.8,240.0 L650.0,241.2 L650.2,241.9 L650.3,242.5 L650.5,243.7 L650.8,245.0 L651.0,246.2 L651.3,247.5 L651.4,248.0 L651.5,248.7 L651.8,258.5 L651.9,276.0 L652.0,302.3 L652.3,336.6 L652.5,336.4 L652.8,336.2 L653.0,336.0 L653.3,335.7 L653.5,325.4 L653.7,317.7 L653.8,312.6 L654.0,299.7 L654.3,243.5 L654.4,221.0 L654.5,209.1 L654.8,207.6 L655.0,206.7 L655.3,206.7 L655.5,206.7 L655.8,207.9 L656.0,209.2 L656.2,205.8 L656.3,203.6 L656.5,197.9 L656.8,191.2 L657.0,185.2 L657.0,183.7 L657.3,177.5 L657.5,176.5 L657.6,176.3 L657.8,175.5 L658.0,175.3 L658.2,175.3 L658.3,175.3 L658.5,175.3 L658.8,177.7 L659.0,180.0 L659.3,182.4 L659.5,184.8 L659.8,188.2 L659.9,189.9 L660.0,192.4 L660.3,196.2 L660.5,198.7 L660.7,200.2 L660.8,201.2 L661.0,203.7 L661.3,207.0 L661.5,210.4 L661.8,215.9 L662.0,222.9 L662.2,235.8 L662.3,256.0 L662.5,239.7 L662.8,209.7 L662.9,197.7 L663.0,179.7 L663.3,174.3 L663.4,172.1 L663.5,171.0 L663.8,171.0 L664.0,171.0 L664.3,171.4 L664.5,171.8 L664.5,172.0 L664.8,172.6 L664.9,176.1 L665.0,186.2 L665.3,208.2 L665.5,250.7 L665.6,259.1 L665.8,225.2 L666.0,189.9 L666.3,165.6 L666.5,160.3 L666.7,160.0 L666.8,159.8 L667.0,159.3 L667.3,159.3 L667.4,159.3 L667.5,159.3 L667.8,162.3 L667.9,168.4 L668.0,177.5 L668.3,196.7 L668.5,218.8 L668.5,211.0 L668.8,176.1 L669.0,157.9 L669.1,154.3 L669.3,150.5 L669.5,150.3 L669.5,150.3 L669.8,150.0 L670.0,150.0 L670.2,150.0 L670.3,150.0 L670.5,150.0 L670.6,152.5 L670.8,162.3 L671.0,181.7 L671.1,187.7 L671.3,166.4 L671.5,149.7 L671.6,146.4 L671.8,133.0 L672.0,129.7 L672.2,129.7 L672.3,129.7 L672.5,129.7 L672.8,129.9 L673.0,130.1 L673.3,130.3 L673.5,130.4 L673.5,130.5 L673.8,130.7 L674.0,132.8 L674.3,135.5 L674.5,138.0 L674.8,137.5 L675.0,137.2 L675.3,137.2 L675.5,137.2 L675.8,146.3 L676.0,158.4 L676.0,161.5 L676.3,176.7 L676.5,209.7 L676.8,247.1 L677.0,239.7 L677.3,208.7 L677.5,180.7 L677.5,173.7 L677.8,154.6 L678.0,147.9 L678.0,146.2 L678.3,142.8 L678.5,142.8 L678.5,142.8 L678.8,142.8 L679.0,144.1 L679.3,145.6 L679.5,147.2 L679.6,147.5 L679.8,148.8 L680.0,150.7 L680.3,153.2 L680.4,154.2 L680.5,155.7 L680.8,158.8 L681.0,159.1 L681.0,157.4 L681.3,149.2 L681.5,144.2 L681.8,144.2 L682.0,144.2 L682.3,145.8 L682.5,147.9 L682.5,148.5 L682.8,147.6 L683.0,146.0 L683.3,145.4 L683.5,145.4 L683.5,145.4 L683.8,145.4 L684.0,154.0 L684.3,164.7 L684.5,175.4 L684.8,207.0 L684.9,210.8 L685.0,191.4 L685.3,170.8 L685.5,166.6 L685.7,166.5 L685.8,166.4 L686.0,166.3 L686.3,166.3 L686.5,166.3 L686.7,169.2 L686.8,175.1 L687.0,189.7 L687.2,204.1 L687.3,199.0 L687.5,185.2 L687.7,178.1 L687.8,175.7 L688.0,175.5 L688.1,175.5 L688.3,175.4 L688.5,175.3 L688.8,175.3 L689.0,175.3 L689.3,182.6 L689.5,194.8 L689.8,206.0 L689.9,210.1 L690.0,216.4 L690.3,226.1 L690.5,233.3 L690.6,234.7 L690.8,240.4 L691.0,254.0 L691.3,277.1 L691.4,286.3 L691.5,281.8 L691.8,263.4 L692.0,249.7 L692.2,242.2 L692.3,237.2 L692.5,224.7 L692.8,224.3 L692.9,224.1 L693.0,223.9 L693.3,223.7 L693.5,223.7 L693.5,223.7 L693.8,223.7 L694.0,231.1 L694.2,236.7 L694.3,240.4 L694.5,249.7 L694.8,269.1 L695.0,288.5 L695.2,282.0 L695.3,269.1 L695.5,243.1 L695.8,226.6 L696.0,216.7 L696.3,216.6 L696.5,216.5 L696.8,216.5 L697.0,216.5 L697.0,216.5 L697.3,216.5 L697.5,225.0 L697.5,227.8 L697.8,241.9 L698.0,260.6 L698.3,280.6 L698.5,280.8 L698.5,274.6 L698.8,246.9 L699.0,233.2 L699.1,230.5 L699.3,227.5 L699.5,227.2 L699.5,227.1 L699.8,226.8 L700.0,226.7 L700.2,226.7 L700.3,226.7 L700.5,226.7 L700.8,230.5 L701.0,234.2 L701.3,237.2 L701.5,239.7 L701.8,242.2 L702.0,241.2 L702.3,239.7 L702.5,239.7 L702.6,239.7 L702.8,239.7 L703.0,240.0 L703.3,240.9 L703.4,241.2 L703.5,241.7 L703.8,247.4 L704.0,267.5 L704.0,272.6 L704.3,266.4 L704.5,259.7 L704.6,258.4 L704.8,257.1 L705.0,257.1 L705.0,257.1 L705.3,257.1 L705.5,260.8 L705.8,265.3 L706.0,264.2 L706.3,261.7 L706.5,261.7 L706.6,261.7 L706.8,261.7 L707.0,264.1 L707.3,270.0 L707.4,272.4 L707.5,271.2 L707.8,266.4 L708.0,268.3 L708.3,263.5 L708.5,259.7 L708.5,261.5 L708.8,270.2 L709.0,279.0 L709.3,287.7 L709.5,282.4 L709.8,277.1 L710.0,271.8 L710.2,268.6 L710.3,271.7 L710.5,279.6 L710.8,287.4 L711.0,293.7 L711.0,292.5 L711.3,286.5 L711.5,281.7 L711.5,285.3 L711.8,303.3 L712.0,317.7 L712.0,315.2 L712.3,302.7 L712.5,290.2 L712.6,287.7 L712.8,284.7 L713.0,280.9 L713.2,278.7 L713.3,281.2 L713.5,287.5 L713.8,293.7 L714.0,298.7 L714.0,298.0 L714.3,294.6 L714.5,291.1 L714.8,287.7 L715.0,299.8 L715.3,312.0 L715.5,321.7 L715.5,319.8 L715.8,310.6 L716.0,301.3 L716.2,295.7 L716.3,295.2 L716.5,293.9 L716.8,292.7 L717.0,291.7 L717.0,292.8 L717.3,298.1 L717.5,303.4 L717.8,308.7 L718.0,305.6 L718.3,302.4 L718.5,299.3 L718.6,298.7 L718.8,300.1 L719.0,301.9 L719.3,303.7 L719.5,311.2 L719.8,318.7 L720.0,324.7 L720.0,323.6 L720.3,317.8 L720.5,312.1 L720.7,308.7 L720.8,308.4 L721.0,307.8 L721.3,307.2 L721.5,306.7 L721.5,307.4 L721.8,310.8 L722.0,314.3 L722.3,317.7 L722.5,315.8 L722.8,313.8 L723.0,311.9 L723.2,310.7 L723.3,311.8 L723.5,314.6 L723.8,317.3 L724.0,320.1 L724.2,321.7 L724.3,321.1 L724.5,319.5 L724.8,318.0 L725.0,316.5 L725.3,314.9 L725.5,313.7 L725.5,314.3 L725.8,317.4 L726.0,320.4 L726.3,323.5 L726.4,324.7 L726.5,323.9 L726.8,322.5 L727.0,321.1 L727.3,319.7 L727.5,321.9 L727.8,324.1 L728.0,326.4 L728.2,327.7 L728.3,327.0 L728.5,325.2 L728.8,323.4 L728.9,322.7 L729.0,324.3 L729.3,326.9 L729.5,329.5 L729.6,330.0 L729.8,332.7 L730.0,336.2 L730.2,338.2 L730.3,337.8 L730.5,336.6 L730.8,335.5 L731.0,334.8 L731.0,334.5 L731.3,333.8 L731.5,333.1 L731.7,332.6 L731.8,332.5 L732.0,332.0 L732.3,331.5 L732.5,331.2 L732.5,330.7 L732.8,329.5 L733.0,328.4 L733.2,327.7 L733.3,328.0 L733.5,328.9 L733.8,329.8 L733.9,330.2 L734.0,330.4 L734.3,330.7 L734.5,331.0 L734.6,331.1 L734.8,331.6 L735.0,332.4 L735.3,333.2 L735.4,333.4 L735.5,334.0 L735.8,334.9 L736.0,335.7 L736.1,335.9 L736.3,336.2 L736.5,336.5 L736.8,336.8 L737.0,337.4 L737.3,337.9 L737.5,338.4 L737.5,338.6 L737.8,339.7 L738.0,340.7 L738.2,341.4 L738.3,341.4 L738.5,341.6 L738.8,341.8 L738.9,341.9 L739.0,342.4 L739.3,343.1 L739.5,343.9 L739.6,344.1 L739.8,343.7 L740.0,343.1 L740.3,342.6 L740.5,342.2 L740.5,342.0 L740.8,341.4 L741.0,340.8 L741.3,340.2 L741.4,340.0 L741.5,340.1 L741.8,340.3 L742.0,340.4 L742.1,340.5 L742.3,340.5 L742.5,340.6 L742.8,340.6 L742.8,340.6 L743.0,341.1 L743.3,341.6 L743.5,342.1 L743.6,342.2 L743.8,342.0 L744.0,341.8 L744.3,341.7 L744.3,341.7 L744.5,342.1 L744.8,342.6 L745.0,342.9 L745.0,343.0 L745.3,343.7 L745.5,344.4 L745.8,344.9 L745.8,345.0 L746.0,345.2 L746.3,345.5 L746.5,345.7 L746.5,345.8 L746.8,346.6 L747.0,347.4 L747.3,348.2 L747.5,347.9 L747.8,347.6 L748.0,347.3 L748.1,347.3 L748.3,346.9 L748.5,346.6 L748.8,346.2 L748.8,346.2 L749.0,346.1 L749.3,346.0 L749.5,345.9 L749.6,345.9 L749.8,345.8 L750.0,345.6 L750.3,345.5 L750.5,345.9 L750.8,346.4 L751.0,346.7 L751.0,346.7 L751.3,346.6 L751.5,346.5 L751.7,346.4 L751.8,346.3 L752.0,346.0 L752.3,345.7 L752.4,345.5 L752.5,345.8 L752.8,346.1 L753.0,346.5 L753.1,346.6 L753.3,346.4 L753.5,346.1 L753.8,345.9 L754.0,346.2 L754.3,346.5 L754.5,346.8 L754.5,346.9 L754.8,347.5 L755.0,348.1 L755.2,348.6 L755.3,348.8 L755.5,349.6 L755.8,350.3 L756.0,350.9 L756.0,351.0 L756.3,351.3 L756.5,351.5 L756.7,351.7 L756.8,351.7 L757.0,351.5 L757.3,351.4 L757.4,351.4 L757.5,351.1 L757.8,350.6 L758.0,350.0 L758.1,349.8 L758.3,350.0 L758.5,350.4 L758.8,350.7 L758.9,350.8 L759.0,350.5 L759.3,350.0 L759.5,349.5 L759.6,349.4 L759.8,349.5 L760.0,349.7 L760.3,349.8 L760.5,349.9 L760.5,350.0 L760.8,350.5 L761.0,350.9 L761.3,351.3 L761.4,351.5 L761.5,351.5 L761.8,351.5 L762.0,351.5 L762.3,351.5 L762.5,351.5 L762.8,351.5 L763.0,351.5 L763.3,351.5 L763.5,351.5 L763.8,351.5 L764.0,351.5 L764.3,351.5 L764.5,351.5 L764.8,351.5 L765.0,351.5 L765.3,351.5 L765.5,351.5 L765.8,351.5 L766.0,351.5 L766.3,351.5 L766.5,351.5 L766.8,351.5 L767.0,351.5 L767.3,351.5 L767.5,351.5 L767.8,351.5 L768.0,351.5 L768.3,351.5 L768.5,351.5 L768.8,351.5 L769.0,351.5 L769.3,351.5 L769.5,351.5 L769.8,351.5 L770.0,351.5 L770.3,351.5 L770.5,351.5 L770.8,351.5 L771.0,351.5 L771.3,351.5 L771.5,351.5 L771.8,351.5 L772.0,351.5 L772.3,351.5 L772.5,351.5 L772.8,351.5 L773.0,351.5 L773.3,351.5 L773.5,351.5 L773.8,351.5 L774.0,351.5 L774.3,351.5 L774.5,351.5 L774.8,351.5 L775.0,351.5 L775.3,351.5 L775.5,351.5 L775.8,351.5 L776.0,351.5 L776.3,351.5 L776.5,351.5 L776.8,351.5 L777.0,351.5 L777.3,351.5 L777.5,351.5 L777.8,351.5 L778.0,351.5 L778.3,351.5 L778.3,352.1 L778.0,352.1 L777.8,352.1 L777.5,352.1 L777.3,352.1 L777.0,352.1 L776.8,352.1 L776.5,352.1 L776.3,352.1 L776.0,352.1 L775.8,352.1 L775.5,352.1 L775.3,352.1 L775.0,352.1 L774.8,352.1 L774.5,352.1 L774.3,352.1 L774.0,352.1 L773.8,352.1 L773.5,352.1 L773.3,352.1 L773.0,352.1 L772.8,352.1 L772.5,352.1 L772.3,352.1 L772.0,352.1 L771.8,352.1 L771.5,352.1 L771.3,352.1 L771.0,352.1 L770.8,352.1 L770.5,352.1 L770.3,352.1 L770.0,352.1 L769.8,352.1 L769.5,352.1 L769.3,352.1 L769.0,352.1 L768.8,352.1 L768.5,352.1 L768.3,352.1 L768.0,352.1 L767.8,352.1 L767.5,352.1 L767.3,352.1 L767.0,352.1 L766.8,352.1 L766.5,352.1 L766.3,352.1 L766.0,352.1 L765.8,352.1 L765.5,352.1 L765.3,352.1 L765.0,352.1 L764.8,352.1 L764.5,352.1 L764.3,352.1 L764.0,352.1 L763.8,352.1 L763.5,352.1 L763.3,352.1 L763.0,352.1 L762.8,352.1 L762.5,352.1 L762.3,352.1 L762.0,352.1 L761.8,352.1 L761.5,352.1 L761.4,352.1 L761.3,351.9 L761.0,351.5 L760.8,351.1 L760.5,350.6 L760.5,350.5 L760.3,350.4 L760.0,350.3 L759.8,350.1 L759.6,350.0 L759.5,350.1 L759.3,350.6 L759.0,351.1 L758.9,351.4 L758.8,351.3 L758.5,351.0 L758.3,350.6 L758.1,350.4 L758.0,350.6 L757.8,351.2 L757.5,351.7 L757.4,352.0 L757.3,352.0 L757.0,352.1 L756.8,352.3 L756.7,352.3 L756.5,352.1 L756.3,351.9 L756.0,351.6 L756.0,351.5 L755.8,350.9 L755.5,350.2 L755.3,349.4 L755.2,349.2 L755.0,348.7 L754.8,348.1 L754.5,347.5 L754.5,347.4 L754.3,347.1 L754.0,346.8 L753.8,346.5 L753.5,346.7 L753.3,347.0 L753.1,347.2 L753.0,347.1 L752.8,346.7 L752.5,346.4 L752.4,346.1 L752.3,346.3 L752.0,346.6 L751.8,346.9 L751.7,347.0 L751.5,347.1 L751.3,347.2 L751.0,347.3 L751.0,347.3 L750.8,347.0 L750.5,346.5 L750.3,346.1 L750.0,346.2 L749.8,346.4 L749.6,346.5 L749.5,346.5 L749.3,346.6 L749.0,346.7 L748.8,346.8 L748.8,346.8 L748.5,347.2 L748.3,347.5 L748.1,347.9 L748.0,347.9 L747.8,348.2 L747.5,348.5 L747.3,348.8 L747.0,348.0 L746.8,347.2 L746.5,346.4 L746.5,346.3 L746.3,346.1 L746.0,345.8 L745.8,345.6 L745.8,345.5 L745.5,345.0 L745.3,344.3 L745.0,343.6 L745.0,343.5 L744.8,343.2 L744.5,342.7 L744.3,342.3 L744.3,342.3 L744.0,342.4 L743.8,342.6 L743.6,342.8 L743.5,342.7 L743.3,342.2 L743.0,341.7 L742.8,341.2 L742.8,341.2 L742.5,341.2 L742.3,341.1 L742.1,341.1 L742.0,341.0 L741.8,340.9 L741.5,340.7 L741.4,340.6 L741.3,340.8 L741.0,341.4 L740.8,342.0 L740.5,342.6 L740.5,342.8 L740.3,343.2 L740.0,343.7 L739.8,344.3 L739.6,344.7 L739.5,344.5 L739.3,343.7 L739.0,343.0 L738.9,342.5 L738.8,342.4 L738.5,342.2 L738.3,342.0 L738.2,342.0 L738.0,341.3 L737.8,340.3 L737.5,339.2 L737.5,339.0 L737.3,338.5 L737.0,338.0 L736.8,337.4 L736.5,337.1 L736.3,336.8 L736.1,336.5 L736.0,336.3 L735.8,335.5 L735.5,334.6 L735.4,334.0 L735.3,333.8 L735.0,333.0 L734.8,332.2 L734.6,331.7 L734.5,331.6 L734.3,331.3 L734.0,331.0 L733.9,330.8 L733.8,330.4 L733.5,329.5 L733.3,328.6 L733.2,328.3 L733.0,329.0 L732.8,330.1 L732.5,331.3 L732.5,331.8 L732.3,332.1 L732.0,332.6 L731.8,333.1 L731.7,333.2 L731.5,333.7 L731.3,334.4 L731.0,335.1 L731.0,335.4 L730.8,336.1 L730.5,337.2 L730.3,338.4 L730.2,338.8 L730.0,336.8 L729.8,333.3 L729.6,330.6 L729.5,330.1 L729.3,327.5 L729.0,324.9 L728.9,323.3 L728.8,324.0 L728.5,325.8 L728.3,327.6 L728.2,328.3 L728.0,327.0 L727.8,324.7 L727.5,322.5 L727.3,320.3 L727.0,321.7 L726.8,323.1 L726.5,324.5 L726.4,325.3 L726.3,324.1 L726.0,321.0 L725.8,318.0 L725.5,314.9 L725.5,314.3 L725.3,315.5 L725.0,317.1 L724.8,318.6 L724.5,320.1 L724.3,321.7 L724.2,322.3 L724.0,320.7 L723.8,317.9 L723.5,315.2 L723.3,312.4 L723.2,311.3 L723.0,312.5 L722.8,314.4 L722.5,316.4 L722.3,318.3 L722.0,314.9 L721.8,311.4 L721.5,308.0 L721.5,307.3 L721.3,307.8 L721.0,308.4 L720.8,309.0 L720.7,309.3 L720.5,312.7 L720.3,318.4 L720.0,324.2 L720.0,325.3 L719.8,319.3 L719.5,311.8 L719.3,304.3 L719.0,302.5 L718.8,300.7 L718.6,299.3 L718.5,299.9 L718.3,303.0 L718.0,306.2 L717.8,309.3 L717.5,304.0 L717.3,298.7 L717.0,293.4 L717.0,292.3 L716.8,293.3 L716.5,294.5 L716.3,295.8 L716.2,296.3 L716.0,301.9 L715.8,311.2 L715.5,320.4 L715.5,322.3 L715.3,312.6 L715.0,300.4 L714.8,288.3 L714.5,291.7 L714.3,295.2 L714.0,298.6 L714.0,299.3 L713.8,294.3 L713.5,288.1 L713.3,281.8 L713.2,279.3 L713.0,281.5 L712.8,285.3 L712.6,288.3 L712.5,290.8 L712.3,303.3 L712.0,315.8 L712.0,318.3 L711.8,303.9 L711.5,285.9 L711.5,282.3 L711.3,287.1 L711.0,293.1 L711.0,294.3 L710.8,288.0 L710.5,280.2 L710.3,272.3 L710.2,269.2 L710.0,272.4 L709.8,277.7 L709.5,283.0 L709.3,288.3 L709.0,279.6 L708.8,270.8 L708.5,262.1 L708.5,260.3 L708.3,264.1 L708.0,268.9 L707.8,280.3 L707.5,281.3 L707.4,281.3 L707.3,281.3 L707.0,281.3 L706.8,275.4 L706.6,270.6 L706.5,269.4 L706.3,270.4 L706.0,272.3 L705.8,272.3 L705.5,272.3 L705.3,269.6 L705.0,265.6 L705.0,267.0 L704.8,277.0 L704.6,288.7 L704.5,291.6 L704.3,303.3 L704.0,303.3 L704.0,303.3 L703.8,303.3 L703.5,293.3 L703.4,278.2 L703.3,268.1 L703.0,243.0 L702.8,242.2 L702.6,242.9 L702.5,243.3 L702.3,245.2 L702.0,246.3 L701.8,246.3 L701.5,246.3 L701.3,244.8 L701.0,242.3 L700.8,239.8 L700.5,237.3 L700.3,234.1 L700.2,232.5 L700.0,230.3 L699.8,231.0 L699.5,244.8 L699.5,247.5 L699.3,269.0 L699.1,293.9 L699.0,300.1 L698.8,325.0 L698.5,325.0 L698.5,325.0 L698.3,325.0 L698.0,317.0 L697.8,297.1 L697.5,277.2 L697.5,273.2 L697.3,257.3 L697.0,239.7 L697.0,236.8 L696.8,225.6 L696.5,223.9 L696.3,240.4 L696.0,263.2 L695.8,295.6 L695.5,327.9 L695.3,327.9 L695.2,327.9 L695.0,327.9 L694.8,324.0 L694.5,304.6 L694.3,285.2 L694.2,277.5 L694.0,265.8 L693.8,248.4 L693.5,239.2 L693.5,237.3 L693.3,229.9 L693.0,235.3 L692.9,242.8 L692.8,247.8 L692.5,260.3 L692.3,278.7 L692.2,286.1 L692.0,297.2 L691.8,315.6 L691.5,319.3 L691.4,319.3 L691.3,319.3 L691.0,319.3 L690.8,296.2 L690.6,277.7 L690.5,273.1 L690.3,249.9 L690.0,239.6 L689.9,235.3 L689.8,232.4 L689.5,225.3 L689.3,214.9 L689.0,204.5 L688.8,193.0 L688.5,180.8 L688.3,183.4 L688.1,192.9 L688.0,195.3 L687.8,216.8 L687.7,225.4 L687.5,238.3 L687.3,238.3 L687.2,238.3 L687.0,238.3 L686.8,233.5 L686.7,223.9 L686.5,209.5 L686.3,187.4 L686.0,172.8 L685.8,187.9 L685.7,196.2 L685.5,222.5 L685.3,278.2 L685.0,289.3 L684.9,289.3 L684.8,289.3 L684.5,289.3 L684.3,243.9 L684.0,198.5 L683.8,173.9 L683.5,163.2 L683.5,161.0 L683.3,152.4 L683.0,151.0 L682.8,152.3 L682.5,152.3 L682.5,152.3 L682.3,152.3 L682.0,151.2 L681.8,156.4 L681.5,164.7 L681.3,171.3 L681.0,171.3 L681.0,171.3 L680.8,171.3 L680.5,169.1 L680.4,165.9 L680.3,163.7 L680.0,158.3 L679.8,155.8 L679.6,153.8 L679.5,153.3 L679.3,150.8 L679.0,149.0 L678.8,147.5 L678.5,153.5 L678.5,155.2 L678.3,167.3 L678.0,202.3 L678.0,209.3 L677.8,235.3 L677.5,260.2 L677.5,265.2 L677.3,285.1 L677.0,300.1 L676.8,300.1 L676.5,300.1 L676.3,277.6 L676.0,240.2 L676.0,232.7 L675.8,202.8 L675.5,174.2 L675.3,159.1 L675.0,143.9 L674.8,139.5 L674.5,139.8 L674.3,139.8 L674.0,139.8 L673.8,138.2 L673.5,135.6 L673.5,135.0 L673.3,132.9 L673.0,131.2 L672.8,131.0 L672.5,130.8 L672.3,147.0 L672.2,153.6 L672.0,163.6 L671.8,188.3 L671.6,212.3 L671.5,218.3 L671.3,230.3 L671.1,230.3 L671.0,230.3 L670.8,230.3 L670.6,212.3 L670.5,206.3 L670.3,176.3 L670.2,167.8 L670.0,160.5 L669.8,154.9 L669.5,173.0 L669.5,176.7 L669.3,203.7 L669.1,235.0 L669.0,242.8 L668.8,274.1 L668.5,274.1 L668.5,274.1 L668.3,274.1 L668.0,260.1 L667.9,239.2 L667.8,225.2 L667.5,190.3 L667.4,181.2 L667.3,175.1 L667.0,161.3 L666.8,185.7 L666.7,195.4 L666.5,217.3 L666.3,259.7 L666.0,302.2 L665.8,319.2 L665.6,319.2 L665.5,319.2 L665.3,319.2 L665.0,285.2 L664.9,259.8 L664.8,242.8 L664.5,200.3 L664.5,196.9 L664.3,183.4 L664.0,173.8 L663.8,179.2 L663.5,204.3 L663.4,222.3 L663.3,234.3 L663.0,259.4 L662.9,273.7 L662.8,283.2 L662.5,307.1 L662.3,307.1 L662.2,307.1 L662.0,307.1 L661.8,297.0 L661.5,246.5 L661.3,222.1 L661.0,215.1 L660.8,210.3 L660.7,209.0 L660.5,207.0 L660.3,203.8 L660.0,201.3 L659.9,199.8 L659.8,198.8 L659.5,196.3 L659.3,192.1 L659.0,188.0 L658.8,184.9 L658.5,182.5 L658.3,180.2 L658.2,179.2 L658.0,177.9 L657.8,182.8 L657.6,188.8 L657.5,190.3 L657.3,197.4 L657.0,203.0 L657.0,204.2 L656.8,208.7 L656.5,214.3 L656.3,214.3 L656.2,214.3 L656.0,214.3 L655.8,213.9 L655.5,212.0 L655.3,210.0 L655.0,232.8 L654.8,289.0 L654.5,310.6 L654.4,318.3 L654.3,323.4 L654.0,336.3 L653.8,336.5 L653.7,336.6 L653.5,336.7 L653.3,337.0 L653.0,337.2 L652.8,337.4 L652.5,337.6 L652.3,337.9 L652.0,337.9 L651.9,337.9 L651.8,337.9 L651.5,337.9 L651.4,311.6 L651.3,294.1 L651.0,250.3 L650.8,249.1 L650.5,247.8 L650.3,246.6 L650.2,246.0 L650.0,245.3 L649.8,244.1 L649.5,242.8 L649.3,241.6 L649.0,240.3 L649.0,240.1 L648.8,239.1 L648.5,237.8 L648.3,236.5 L648.0,235.2 L647.8,232.1 L647.5,235.0 L647.3,238.0 L647.1,240.3 L647.0,244.1 L646.8,263.2 L646.5,282.3 L646.3,301.4 L646.0,320.5 L646.0,324.3 L645.8,316.3 L645.5,306.3 L645.4,300.3 L645.3,292.9 L645.0,274.4 L644.9,263.3 L644.8,266.9 L644.5,275.9 L644.4,281.3 L644.3,279.5 L644.0,274.9 L643.8,270.3 L643.5,279.9 L643.3,289.5 L643.2,293.3 L643.0,290.3 L642.8,285.3 L642.5,280.3 L642.5,279.3 L642.3,286.6 L642.0,295.8 L641.9,301.3 L641.8,298.8 L641.5,292.6 L641.3,286.3 L641.0,295.5 L640.8,304.6 L640.7,308.3 L640.5,304.3 L640.3,297.6 L640.1,292.3 L640.0,293.3 L639.8,298.3 L639.5,303.3 L639.5,304.3 L639.3,313.0 L639.0,323.8 L638.9,330.3 L638.8,328.6 L638.5,324.3 L638.3,320.0 L638.0,315.8 L637.8,311.5 L637.5,307.2 L637.3,302.9 L637.2,301.2 L637.0,304.6 L636.8,310.2 L636.5,315.9 L636.3,321.5 L636.0,327.2 L636.0,328.3 L635.8,324.3 L635.5,319.3 L635.3,314.3 L635.2,312.3 L635.0,314.4 L634.8,318.0 L634.5,321.6 L634.5,322.3 L634.3,320.4 L634.0,317.9 L633.8,315.5 L633.5,313.0 L633.3,310.6 L633.0,308.2 L632.9,306.7 L632.8,308.0 L632.5,311.2 L632.3,314.4 L632.0,317.6 L631.8,320.8 L631.5,324.0 L631.3,327.2 L631.0,330.4 L630.8,333.6 L630.5,336.8 L630.3,340.0 L630.2,341.3 L630.0,339.8 L629.8,337.4 L629.5,334.9 L629.3,332.5 L629.0,330.1 L628.8,327.6 L628.5,325.2 L628.3,322.7 L628.0,320.3 L627.9,318.8 L627.8,320.1 L627.5,323.3 L627.3,326.4 L627.0,329.6 L626.8,332.8 L626.5,336.0 L626.3,339.2 L626.0,342.3 L625.8,345.5 L625.7,346.8 L625.5,344.5 L625.3,340.7 L625.0,337.0 L624.8,333.2 L624.5,329.4 L624.4,327.1 L624.3,327.8 L624.0,329.7 L623.8,331.6 L623.7,332.3 L623.5,332.6 L623.3,333.0 L623.0,333.4 L623.0,333.5 L622.8,334.3 L622.5,335.2 L622.4,336.0 L622.3,336.0 L622.0,336.5 L621.8,337.0 L621.7,337.2 L621.5,337.5 L621.3,338.0 L621.0,338.5 L621.0,338.6 L620.8,338.1 L620.5,337.4 L620.3,336.8 L620.3,336.8 L620.0,336.6 L619.8,336.4 L619.7,336.4 L619.5,336.2 L619.3,335.9 L619.0,335.6 L619.0,335.5 L618.8,335.7 L618.5,335.9 L618.3,336.0 L618.2,336.1 L618.0,335.8 L617.8,335.4 L617.5,335.0 L617.5,334.9 L617.3,334.9 L617.0,334.8 L616.8,334.7 L616.7,334.7 L616.5,335.4 L616.3,336.6 L616.0,337.7 L616.0,338.0 L615.8,338.3 L615.5,338.8 L615.3,339.2 L615.0,340.0 L614.8,340.8 L614.6,341.4 L614.5,341.6 L614.3,342.8 L614.0,344.1 L613.9,344.8 L613.8,344.3 L613.5,343.1 L613.3,341.9 L613.1,341.1 L613.0,340.5 L612.8,338.8 L612.5,337.2 L612.4,336.2 L612.3,336.3 L612.0,336.5 L611.8,336.8 L611.7,336.9 L611.5,336.7 L611.3,336.3 L611.0,335.9 L611.0,335.7 L610.8,335.9 L610.5,336.1 L610.3,336.3 L610.2,336.4 L610.0,336.2 L609.8,335.8 L609.5,335.5 L609.5,335.5 L609.3,335.5 L609.0,335.5 L608.8,335.5 L608.5,336.1 L608.3,336.6 L608.0,337.2 L608.0,337.2 L607.8,337.3 L607.5,337.3 L607.3,337.3 L607.3,337.3 L607.0,337.8 L606.8,338.5 L606.5,339.2 L606.5,339.3 L606.3,340.9 L606.0,342.8 L605.8,344.8 L605.7,345.6 L605.5,346.9 L605.3,349.1 L605.0,351.3 L604.9,352.6 L604.8,351.8 L604.5,349.8 L604.3,347.7 L604.0,345.7 L604.0,344.9 L603.8,343.9 L603.5,342.1 L603.3,340.3 L603.0,338.6 L603.0,338.2 L602.8,338.4 L602.5,338.6 L602.3,338.8 L602.3,338.8 L602.0,339.4 L601.8,340.0 L601.6,340.3 L601.5,340.5 L601.3,340.9 L601.0,341.3 L601.0,341.4 L600.8,341.5 L600.5,341.6 L600.3,341.7 L600.0,341.9 L599.8,342.2 L599.5,342.4 L599.5,342.5 L599.3,342.4 L599.0,342.4 L598.8,342.3 L598.7,342.3 L598.5,342.1 L598.3,341.8 L598.0,341.5 L597.9,341.3 L597.8,341.2 L597.5,341.0 L597.3,340.7 L597.2,340.7 L597.0,340.7 L596.8,340.8 L596.6,340.8 L596.5,340.8 L596.3,340.9 L596.0,341.0 L596.0,341.0 L595.8,340.9 L595.5,340.7 L595.3,340.5 L595.0,340.5 L594.8,340.5 L594.6,340.6 L594.5,340.5 L594.3,340.3 L594.0,340.1 L594.0,340.1 L593.8,340.4 L593.5,340.7 L593.3,341.0 L593.2,341.1 L593.0,341.4 L592.8,341.9 L592.5,342.4 L592.5,342.6 L592.3,342.7 L592.0,342.8 L591.8,342.9 L591.7,342.9 L591.5,343.3 L591.3,343.9 L591.0,344.5 L591.0,344.6 L590.8,345.2 L590.5,345.9 L590.3,346.5 L590.0,346.9 L589.8,347.3 L589.6,347.6 L589.5,347.8 L589.3,348.8 L589.0,349.7 L588.9,350.3 L588.8,349.7 L588.5,348.3 L588.3,346.9 L588.1,345.9 L588.0,345.5 L587.8,344.2 L587.5,342.9 L587.4,342.0 L587.3,341.7 L587.0,340.6 L586.8,339.5 L586.6,338.6 L586.5,338.6 L586.3,338.8 L586.0,339.1 L585.9,339.2 L585.8,339.5 L585.5,340.3 L585.3,341.1 L585.2,341.4 L585.0,341.5 L584.8,341.7 L584.5,341.8 L584.5,341.9 L584.3,342.5 L584.0,343.3 L583.8,344.1 L583.5,345.0 L583.3,345.9 L583.0,346.8 L582.8,348.1 L582.5,349.4 L582.3,350.7 L582.0,349.7 L581.8,348.6 L581.5,347.6 L581.5,347.4 L581.3,346.5 L581.0,345.3 L580.8,344.2 L580.7,343.7 L580.5,344.5 L580.3,345.9 L580.0,347.2 L579.9,348.0 L579.8,347.5 L579.5,346.4 L579.3,345.3 L579.2,344.8 L579.0,345.0 L578.8,345.3 L578.5,345.7 L578.4,345.9 L578.3,345.9 L578.0,346.1 L577.8,346.3 L577.6,346.4 L577.5,346.5 L577.3,346.8 L577.0,347.2 L576.8,347.6 L576.8,347.6 L576.5,347.7 L576.3,347.8 L576.0,347.9 L576.0,347.9 L575.8,347.5 L575.5,347.0 L575.3,346.6 L575.3,346.5 L575.0,346.9 L574.8,347.4 L574.5,347.9 L574.5,348.0 L574.3,348.0 L574.0,348.0 L573.8,348.0 L573.7,348.0 L573.5,347.8 L573.3,347.6 L573.0,347.3 L572.9,347.2 L572.8,347.3 L572.5,347.6 L572.3,347.9 L572.2,348.0 L572.0,347.8 L571.8,347.4 L571.5,347.0 L571.3,347.3 L571.0,347.5 L570.9,347.7 L570.8,347.7 L570.5,348.0 L570.3,348.2 L570.2,348.3 L570.0,347.6 L569.8,346.5 L569.5,345.5 L569.4,344.8 L569.3,345.3 L569.0,346.5 L568.8,347.8 L568.5,349.0 L568.3,350.2 L568.2,350.7 L568.0,350.2 L567.8,349.5 L567.5,348.7 L567.5,348.4 L567.3,348.3 L567.0,348.0 L566.8,347.7 L566.7,347.6 L566.5,347.6 L566.3,347.7 L566.0,347.7 L566.0,347.7 L565.8,347.5 L565.5,347.2 L565.4,347.0 L565.3,347.0 L565.0,346.7 L564.8,346.5 L564.7,346.4 L564.5,346.6 L564.3,346.8 L564.0,347.1 L563.8,347.3 L563.8,347.4 L563.5,347.6 L563.3,347.8 L563.0,348.1 L562.8,348.3 L562.5,347.1 L562.4,346.4 L562.3,346.5 L562.0,346.7 L561.8,346.9 L561.6,347.1 L561.5,347.2 L561.3,347.9 L561.0,348.5 L560.8,349.1 L560.5,349.5 L560.3,349.8 L560.0,350.2 L560.0,350.2 L559.8,350.6 L559.5,350.9 L559.3,351.3 L559.2,351.5 L559.0,351.2 L558.8,350.8 L558.5,350.3 L558.3,349.9 L558.1,349.5 L558.0,349.5 L557.8,349.7 L557.5,349.9 L557.4,350.0 L557.3,350.2 L557.0,350.8 L556.8,351.3 L556.7,351.5 L556.5,351.5 L556.3,351.4 L556.0,351.4 L556.0,351.4 L555.8,351.5 L555.5,351.7 L555.3,351.9 L555.0,351.7 L554.8,351.5 L554.5,351.4 L554.4,351.2 L554.3,351.2 L554.0,351.1 L553.8,350.9 L553.5,350.8 L553.4,350.7 L553.3,350.8 L553.0,351.0 L552.8,351.2 L552.5,351.4 L552.3,351.7 L552.0,351.9 L551.8,352.1 L551.5,352.1 L551.3,352.1 L551.0,352.1 L550.8,352.1 L550.5,352.1 L550.3,352.1 L550.0,352.1 L549.8,352.1 L549.5,352.1 L549.3,352.1 L549.0,352.1 L548.8,352.1 L548.5,352.1 L548.3,352.1 L548.0,352.1 L547.8,352.1 L547.5,352.1 L547.3,352.1 L547.0,352.1 L546.8,352.1 L546.5,352.1 L546.3,352.1 L546.0,352.1 L545.8,352.1 L545.5,352.1 L545.3,352.1 L545.0,352.1 L544.8,352.1Z"/>
<path class="ln" d="M544.8,351.8 L551.8,351.8 L553.4,350.4 L554.4,350.9 L555.3,351.6 L556.0,351.1 L556.7,351.2 L557.4,349.7 L558.1,349.2 L559.2,351.2 L560.0,349.9 L560.8,348.8 L561.6,346.8 L562.4,346.1 L562.8,348.0 L563.8,347.1 L564.7,346.1 L565.4,346.7 L566.0,347.4 L566.7,347.3 L567.5,348.1 L568.2,350.4 L569.4,344.5 L570.2,348.0 L570.9,347.4 L571.5,346.7 L572.2,347.7 L572.9,346.9 L573.7,347.7 L574.5,347.7 L575.3,346.2 L576.0,347.6 L576.8,347.3 L577.6,346.1 L578.4,345.6 L579.2,344.5 L579.9,347.7 L580.7,343.4 L581.5,347.1 L582.3,350.4 L583.0,346.5 L583.8,343.8 L584.5,341.6 L585.2,341.1 L585.9,338.9 L586.6,338.3 L587.4,341.6 L588.1,345.6 L588.9,350.0 L589.6,347.3 L590.3,346.2 L591.0,344.3 L591.7,342.6 L592.5,342.3 L593.2,340.8 L594.0,339.8 L594.6,340.3 L595.3,340.2 L596.0,340.7 L596.6,340.5 L597.2,340.4 L597.9,341.0 L598.7,342.0 L599.5,342.2 L600.3,341.4 L601.0,341.1 L601.6,340.0 L602.3,338.4 L603.0,337.9 L604.0,344.6 L604.9,352.3 L605.7,345.3 L606.5,339.0 L607.3,337.0 L608.0,336.9 L608.8,335.2 L609.5,335.2 L610.2,336.1 L611.0,335.4 L611.7,336.6 L612.4,335.9 L613.1,340.8 L613.9,344.5 L614.6,341.1 L615.3,338.9 L616.0,337.7 L616.7,334.4 L617.5,334.6 L618.2,335.8 L619.0,335.2 L619.7,336.0 L620.3,336.5 L621.0,338.3 L621.7,337.0 L622.4,335.7 L623.0,333.2 L623.7,332.0 L624.4,326.8 L625.7,346.5 L627.9,318.5 L630.2,341.0 L632.9,306.4 L634.5,322.0 L635.2,312.0 L636.0,328.0 L637.2,300.9 L638.9,330.0 L639.5,304.0 L640.1,292.0 L640.7,308.0 L641.3,286.0 L641.9,301.0 L642.5,279.0 L643.2,293.0 L643.8,270.0 L644.4,281.0 L644.9,263.0 L645.4,300.0 L646.0,324.0 L647.1,240.0 L647.8,231.8 L649.0,238.0 L650.2,244.0 L651.4,250.0 L651.9,337.6 L653.7,336.0 L654.4,300.0 L654.8,210.0 L655.3,207.0 L656.2,214.0 L657.0,196.0 L657.6,178.0 L658.2,175.6 L659.3,186.0 L659.9,196.0 L660.7,204.0 L661.3,212.0 L661.8,226.0 L662.2,306.8 L662.9,240.0 L663.4,180.0 L663.8,171.3 L664.5,173.0 L664.9,200.0 L665.6,318.9 L666.3,200.0 L666.7,161.0 L667.4,159.6 L667.9,190.0 L668.5,273.8 L669.1,180.0 L669.5,151.0 L670.2,150.3 L670.6,170.0 L671.1,230.0 L671.6,170.0 L672.2,130.0 L673.5,131.0 L674.3,139.5 L675.3,137.5 L676.0,180.0 L676.8,299.8 L677.5,230.0 L678.0,160.0 L678.5,143.1 L679.6,150.0 L680.4,158.0 L681.0,171.0 L681.8,144.5 L682.5,152.0 L683.5,145.7 L684.3,180.0 L684.9,289.0 L685.3,200.0 L685.7,167.0 L686.3,166.6 L686.7,190.0 L687.2,238.0 L687.7,195.0 L688.1,176.0 L688.8,175.6 L689.3,200.0 L689.9,225.0 L690.6,245.0 L691.4,319.0 L692.2,260.0 L692.9,225.0 L693.5,224.0 L694.2,250.0 L695.2,327.6 L695.8,250.0 L696.3,217.0 L697.0,216.8 L697.5,245.0 L698.5,324.7 L699.1,250.0 L699.5,228.0 L700.2,227.0 L700.8,236.0 L701.8,246.0 L702.6,240.0 L703.4,242.7 L704.0,303.0 L704.6,268.0 L705.0,257.4 L705.8,272.0 L706.6,262.0 L707.4,281.0 L708.5,260.0 L709.3,288.0 L710.2,268.9 L711.0,294.0 L711.5,282.0 L712.0,318.0 L712.6,288.0 L713.2,279.0 L714.0,299.0 L714.8,288.0 L715.5,322.0 L716.2,296.0 L717.0,292.0 L717.8,309.0 L718.6,299.0 L719.3,304.0 L720.0,325.0 L720.7,309.0 L721.5,307.0 L722.3,318.0 L723.2,311.0 L724.2,322.0 L725.5,314.0 L726.4,325.0 L727.3,320.0 L728.2,328.0 L728.9,323.0 L729.6,330.3 L730.2,338.5 L731.0,335.1 L731.7,332.9 L732.5,331.5 L733.2,328.0 L733.9,330.5 L734.6,331.4 L735.4,333.7 L736.1,336.2 L736.8,337.1 L737.5,338.7 L738.2,341.7 L738.9,342.2 L739.6,344.4 L740.5,342.5 L741.4,340.3 L742.1,340.8 L742.8,340.9 L743.6,342.5 L744.3,342.0 L745.0,343.2 L745.8,345.2 L746.5,346.0 L747.3,348.5 L748.1,347.6 L748.8,346.4 L749.6,346.2 L750.3,345.8 L751.0,347.0 L751.7,346.7 L752.4,345.8 L753.1,346.9 L753.8,346.2 L754.5,347.1 L755.2,348.9 L756.0,351.2 L756.7,352.0 L757.4,351.7 L758.1,350.1 L758.9,351.2 L759.6,349.7 L760.5,350.2 L761.4,351.8 L778.3,351.8"/>
<path class="bd" style="stroke-width:1.8" d="M780.8,351.5 L781.0,351.5 L781.3,351.5 L781.5,351.5 L781.8,351.5 L782.0,351.5 L782.3,351.5 L782.5,351.5 L782.8,351.5 L783.0,351.5 L783.3,351.5 L783.5,351.5 L783.8,351.5 L784.0,351.5 L784.3,351.5 L784.5,351.5 L784.8,351.5 L785.0,351.5 L785.3,351.5 L785.5,351.5 L785.8,351.5 L786.0,351.5 L786.3,351.5 L786.5,351.5 L786.8,351.5 L787.0,351.5 L787.3,351.5 L787.5,351.5 L787.8,351.5 L788.0,351.3 L788.3,351.1 L788.5,348.4 L788.8,348.2 L789.0,348.0 L789.3,348.0 L789.4,348.0 L789.5,348.0 L789.8,348.0 L790.0,348.2 L790.3,348.3 L790.4,348.4 L790.5,348.5 L790.8,348.7 L791.0,348.9 L791.3,349.1 L791.5,348.9 L791.8,348.9 L792.0,348.9 L792.0,348.9 L792.3,348.7 L792.5,348.1 L792.7,347.7 L792.8,347.5 L793.0,347.1 L793.3,346.8 L793.4,346.7 L793.5,346.6 L793.8,346.5 L794.0,346.5 L794.1,346.5 L794.3,346.5 L794.5,346.5 L794.8,347.0 L795.0,347.6 L795.2,347.9 L795.3,347.9 L795.5,347.4 L795.8,346.9 L796.0,346.6 L796.0,346.5 L796.3,346.1 L796.5,345.3 L796.8,344.5 L797.0,343.7 L797.3,343.3 L797.5,343.1 L797.6,343.0 L797.8,342.8 L798.0,342.7 L798.3,342.7 L798.4,342.7 L798.5,342.7 L798.8,342.7 L799.0,343.6 L799.3,343.8 L799.5,343.5 L799.8,343.3 L799.8,343.2 L800.0,342.9 L800.3,342.7 L800.5,342.7 L800.7,342.7 L800.8,342.7 L801.0,342.7 L801.3,342.8 L801.4,342.9 L801.5,343.1 L801.8,343.4 L802.0,343.7 L802.0,343.7 L802.3,344.0 L802.5,344.2 L802.7,344.2 L802.8,344.2 L803.0,344.2 L803.3,344.3 L803.5,344.5 L803.5,344.7 L803.8,345.0 L804.0,345.6 L804.2,345.0 L804.3,344.4 L804.5,342.8 L804.8,341.3 L805.0,340.7 L805.3,340.7 L805.4,340.7 L805.5,340.7 L805.8,340.7 L806.0,341.5 L806.2,342.3 L806.3,342.9 L806.5,344.1 L806.8,343.7 L806.9,343.6 L807.0,343.4 L807.3,343.4 L807.5,343.4 L807.8,343.4 L808.0,343.4 L808.2,343.8 L808.3,343.8 L808.5,343.7 L808.8,343.7 L808.9,343.7 L809.0,343.7 L809.3,343.7 L809.5,343.9 L809.7,344.0 L809.8,344.2 L810.0,344.5 L810.3,343.9 L810.5,343.5 L810.5,343.3 L810.8,342.8 L811.0,342.8 L811.3,342.8 L811.3,342.8 L811.5,342.8 L811.8,342.9 L812.0,343.5 L812.0,343.5 L812.3,344.0 L812.5,343.7 L812.8,343.2 L812.8,343.2 L813.0,342.8 L813.3,342.5 L813.5,342.3 L813.6,342.3 L813.8,342.1 L814.0,341.8 L814.3,341.3 L814.4,341.2 L814.5,340.9 L814.8,340.7 L815.0,340.7 L815.2,340.7 L815.3,340.7 L815.5,340.7 L815.8,341.2 L815.9,341.3 L816.0,340.3 L816.3,339.3 L816.5,339.3 L816.7,339.3 L816.8,339.3 L817.0,339.3 L817.3,339.9 L817.5,341.0 L817.5,341.3 L817.8,342.8 L818.0,344.2 L818.3,344.8 L818.5,343.2 L818.8,342.0 L819.0,340.9 L819.3,339.8 L819.5,338.8 L819.8,337.8 L820.0,336.9 L820.3,336.7 L820.5,336.6 L820.5,336.5 L820.8,336.0 L821.0,335.0 L821.2,334.4 L821.3,334.0 L821.5,333.5 L821.8,333.2 L821.9,333.1 L822.0,333.0 L822.3,332.9 L822.5,332.9 L822.6,332.9 L822.8,332.9 L823.0,332.9 L823.3,334.0 L823.4,334.4 L823.5,335.4 L823.8,336.7 L824.0,338.3 L824.1,338.8 L824.3,339.9 L824.5,341.6 L824.8,343.3 L824.9,344.0 L825.0,344.4 L825.3,343.8 L825.5,343.3 L825.6,343.2 L825.8,342.8 L826.0,342.0 L826.3,341.2 L826.5,340.3 L826.8,339.5 L827.0,338.9 L827.0,338.8 L827.3,338.2 L827.5,338.1 L827.7,338.0 L827.8,338.0 L828.0,337.7 L828.3,337.1 L828.5,336.7 L828.5,336.5 L828.8,335.9 L829.0,335.5 L829.2,335.2 L829.3,335.1 L829.5,334.8 L829.8,334.8 L830.0,334.8 L830.0,334.8 L830.3,334.8 L830.5,334.8 L830.6,334.9 L830.8,335.1 L831.0,335.3 L831.3,335.3 L831.5,335.3 L831.8,335.3 L832.0,335.4 L832.0,335.5 L832.3,335.7 L832.5,335.6 L832.6,335.6 L832.8,335.6 L833.0,335.6 L833.2,335.6 L833.3,335.6 L833.5,335.6 L833.8,335.6 L833.9,335.7 L834.0,335.9 L834.3,336.2 L834.5,336.5 L834.7,336.8 L834.8,336.9 L835.0,337.3 L835.3,337.4 L835.5,337.2 L835.5,337.1 L835.8,336.8 L836.0,336.7 L836.3,336.6 L836.5,336.3 L836.8,335.8 L837.0,335.4 L837.0,335.3 L837.3,334.6 L837.5,333.9 L837.6,333.6 L837.8,333.2 L838.0,332.9 L838.3,332.6 L838.3,332.6 L838.5,332.4 L838.8,332.4 L839.0,332.4 L839.0,332.4 L839.3,332.4 L839.5,332.9 L839.8,335.1 L840.0,336.4 L840.0,337.3 L840.3,339.5 L840.5,341.8 L840.8,344.4 L840.9,344.9 L841.0,343.3 L841.3,340.7 L841.5,338.2 L841.7,336.7 L841.8,335.8 L842.0,333.6 L842.3,332.8 L842.5,332.1 L842.5,332.0 L842.8,331.2 L843.0,331.2 L843.3,331.2 L843.3,331.2 L843.5,331.2 L843.8,330.5 L844.0,329.8 L844.0,329.8 L844.3,329.0 L844.5,329.0 L844.8,329.0 L845.0,329.0 L845.3,329.0 L845.5,329.0 L845.5,329.0 L845.8,329.0 L846.0,329.1 L846.2,329.4 L846.3,329.5 L846.5,329.3 L846.8,329.3 L847.0,329.3 L847.0,329.3 L847.3,329.3 L847.5,329.5 L847.7,329.8 L847.8,330.0 L848.0,329.9 L848.3,329.9 L848.4,329.9 L848.5,329.9 L848.8,329.9 L849.0,331.2 L849.1,332.0 L849.3,333.2 L849.5,335.3 L849.8,337.0 L849.9,337.6 L850.0,336.7 L850.3,335.6 L850.5,334.7 L850.6,334.5 L850.8,333.7 L851.0,333.1 L851.3,332.6 L851.5,331.8 L851.8,330.4 L852.0,329.2 L852.0,328.9 L852.3,328.0 L852.5,328.0 L852.7,328.0 L852.8,328.0 L853.0,328.0 L853.3,328.1 L853.5,328.1 L853.5,328.2 L853.8,328.3 L854.0,328.5 L854.2,328.8 L854.3,329.0 L854.5,329.0 L854.8,329.0 L855.0,329.0 L855.0,329.0 L855.3,329.0 L855.5,329.1 L855.7,329.3 L855.8,329.5 L856.0,329.9 L856.3,330.2 L856.3,330.2 L856.5,330.4 L856.8,330.6 L857.0,331.2 L857.0,331.4 L857.3,330.9 L857.5,330.3 L857.7,330.0 L857.8,329.7 L858.0,328.7 L858.3,327.5 L858.4,327.3 L858.5,326.4 L858.8,325.9 L859.0,325.4 L859.0,325.4 L859.3,324.1 L859.5,321.8 L859.7,320.4 L859.8,319.5 L860.0,318.6 L860.3,318.6 L860.4,318.6 L860.5,318.6 L860.8,318.6 L861.0,321.4 L861.3,326.1 L861.5,330.9 L861.7,333.7 L861.8,333.6 L862.0,329.7 L862.3,325.7 L862.5,321.7 L862.8,317.7 L863.0,313.7 L863.3,309.8 L863.5,308.2 L863.8,308.2 L863.9,308.2 L864.0,308.2 L864.3,308.2 L864.5,310.0 L864.8,313.1 L865.0,316.1 L865.3,319.2 L865.5,322.2 L865.8,325.3 L866.0,328.4 L866.2,328.3 L866.3,326.7 L866.5,322.7 L866.8,318.7 L867.0,314.7 L867.3,310.7 L867.5,306.7 L867.8,302.7 L868.0,298.7 L868.3,294.7 L868.5,293.0 L868.8,293.0 L868.9,293.0 L869.0,293.0 L869.3,293.0 L869.5,294.9 L869.8,297.9 L870.0,301.0 L870.3,304.0 L870.5,303.6 L870.5,302.7 L870.8,300.1 L871.0,300.1 L871.2,300.1 L871.3,300.1 L871.5,300.1 L871.8,302.6 L872.0,305.9 L872.0,304.5 L872.3,297.5 L872.5,290.4 L872.8,286.2 L873.0,286.2 L873.2,286.2 L873.3,286.2 L873.5,286.2 L873.8,288.3 L874.0,293.7 L874.3,299.0 L874.5,304.4 L874.8,300.9 L874.9,295.5 L875.0,288.8 L875.3,282.5 L875.5,277.5 L875.5,276.3 L875.8,275.1 L876.0,275.1 L876.1,275.1 L876.3,275.1 L876.5,275.1 L876.7,272.1 L876.8,267.6 L877.0,267.6 L877.3,267.6 L877.5,267.6 L877.8,267.6 L877.9,263.4 L878.0,258.8 L878.3,258.8 L878.5,258.8 L878.5,258.8 L878.8,258.8 L879.0,259.5 L879.2,252.3 L879.3,247.6 L879.5,247.6 L879.8,247.6 L880.0,247.6 L880.3,243.3 L880.4,238.8 L880.5,238.8 L880.8,238.8 L880.9,238.8 L881.0,238.8 L881.3,238.8 L881.4,238.8 L881.5,252.7 L881.8,275.8 L882.0,267.3 L882.0,262.5 L882.3,238.7 L882.5,214.8 L882.8,207.1 L883.0,203.5 L883.1,202.7 L883.3,199.8 L883.5,199.8 L883.8,199.8 L884.0,199.8 L884.3,199.8 L884.5,201.4 L884.8,203.0 L885.0,204.3 L885.0,204.6 L885.3,206.3 L885.5,207.9 L885.8,209.4 L886.0,211.0 L886.2,211.9 L886.3,212.6 L886.5,214.1 L886.8,215.7 L887.0,217.2 L887.3,218.8 L887.4,219.4 L887.5,220.4 L887.8,221.9 L887.9,222.6 L888.0,255.4 L888.3,310.2 L888.5,330.8 L888.8,330.5 L889.0,330.2 L889.3,323.6 L889.5,307.5 L889.7,297.9 L889.8,291.5 L890.0,242.9 L890.3,172.6 L890.4,171.8 L890.5,170.7 L890.8,168.8 L891.0,168.8 L891.3,168.8 L891.5,168.8 L891.8,168.8 L892.0,167.7 L892.2,163.5 L892.3,160.7 L892.5,153.2 L892.8,143.8 L893.0,136.3 L893.0,134.4 L893.3,131.5 L893.5,130.3 L893.6,130.0 L893.8,129.5 L894.0,129.5 L894.2,129.5 L894.3,129.5 L894.5,129.5 L894.8,130.7 L895.0,133.7 L895.3,136.6 L895.5,139.6 L895.8,142.6 L895.9,144.6 L896.0,147.8 L896.3,153.0 L896.5,156.9 L896.7,158.8 L896.8,160.1 L897.0,163.2 L897.3,166.7 L897.5,170.9 L897.8,175.1 L898.0,183.8 L898.2,189.0 L898.3,192.6 L898.5,187.5 L898.8,150.0 L898.9,135.1 L899.0,131.0 L899.3,124.2 L899.4,124.2 L899.5,124.2 L899.8,124.2 L900.0,124.2 L900.3,124.2 L900.5,124.8 L900.5,124.9 L900.8,125.7 L900.9,126.0 L901.0,130.5 L901.3,151.6 L901.5,191.9 L901.6,202.5 L901.8,160.1 L902.0,129.6 L902.3,111.0 L902.5,110.4 L902.7,110.1 L902.8,109.8 L903.0,109.5 L903.3,109.5 L903.4,109.5 L903.5,109.5 L903.8,109.5 L903.9,109.5 L904.0,121.0 L904.3,140.0 L904.5,154.6 L904.5,144.8 L904.8,116.9 L905.0,98.7 L905.1,98.7 L905.3,98.4 L905.5,98.2 L905.5,98.1 L905.8,97.9 L906.0,97.9 L906.2,97.9 L906.3,97.9 L906.5,97.9 L906.6,97.9 L906.8,104.1 L907.0,119.5 L907.1,122.5 L907.3,105.9 L907.5,85.0 L907.6,80.9 L907.8,72.5 L908.0,72.5 L908.2,72.5 L908.3,72.5 L908.5,72.5 L908.8,72.6 L909.0,72.9 L909.3,73.1 L909.5,73.3 L909.5,73.4 L909.8,73.6 L910.0,74.5 L910.3,77.8 L910.5,81.1 L910.8,81.9 L911.0,81.9 L911.3,81.9 L911.5,81.9 L911.8,81.9 L912.0,97.1 L912.0,100.9 L912.3,119.9 L912.5,144.4 L912.8,191.2 L913.0,188.8 L913.3,145.0 L913.5,110.0 L913.5,107.9 L913.8,97.4 L914.0,88.9 L914.0,88.9 L914.3,88.9 L914.5,88.9 L914.5,88.9 L914.8,88.9 L915.0,89.3 L915.3,91.3 L915.5,93.2 L915.6,93.6 L915.8,95.2 L916.0,97.2 L916.3,100.1 L916.4,101.3 L916.5,103.2 L916.8,106.3 L917.0,103.1 L917.0,101.0 L917.3,90.7 L917.5,90.7 L917.8,90.7 L918.0,90.7 L918.3,90.7 L918.5,93.4 L918.5,94.0 L918.8,93.7 L919.0,92.2 L919.3,92.2 L919.5,92.2 L919.5,92.2 L919.8,92.2 L920.0,94.9 L920.3,108.3 L920.5,121.7 L920.8,135.1 L920.9,149.7 L921.0,134.3 L921.3,118.7 L921.5,118.5 L921.7,118.4 L921.8,118.3 L922.0,118.3 L922.3,118.3 L922.5,118.3 L922.7,118.3 L922.8,118.3 L923.0,136.6 L923.2,147.6 L923.3,147.9 L923.5,133.0 L923.7,130.0 L923.8,129.9 L924.0,129.7 L924.1,129.7 L924.3,129.5 L924.5,129.5 L924.8,129.5 L925.0,129.5 L925.3,129.5 L925.5,144.8 L925.8,160.1 L925.9,165.3 L926.0,173.1 L926.3,186.1 L926.5,196.7 L926.6,198.4 L926.8,205.6 L927.0,214.5 L927.3,239.4 L927.4,251.0 L927.5,248.9 L927.8,228.8 L928.0,213.2 L928.2,203.8 L928.3,197.5 L928.5,191.0 L928.8,190.5 L928.9,190.3 L929.0,190.1 L929.3,190.1 L929.5,190.1 L929.5,190.1 L929.8,190.1 L930.0,192.4 L930.2,199.3 L930.3,204.0 L930.5,215.6 L930.8,232.3 L931.0,256.5 L931.2,238.7 L931.3,222.6 L931.5,201.9 L931.8,181.3 L932.0,181.2 L932.3,181.1 L932.5,181.1 L932.8,181.1 L933.0,181.1 L933.0,181.1 L933.3,181.1 L933.5,181.1 L933.5,184.6 L933.8,202.2 L934.0,221.3 L934.3,246.2 L934.5,238.1 L934.5,230.3 L934.8,208.8 L935.0,195.0 L935.1,194.9 L935.3,194.5 L935.5,194.2 L935.5,194.1 L935.8,193.8 L936.0,193.8 L936.2,193.8 L936.3,193.8 L936.5,193.8 L936.8,195.7 L937.0,200.4 L937.3,205.1 L937.5,208.2 L937.8,211.3 L938.0,210.5 L938.3,210.1 L938.5,210.1 L938.6,210.1 L938.8,210.1 L939.0,210.1 L939.3,210.9 L939.4,211.3 L939.5,211.9 L939.8,213.0 L940.0,226.0 L940.0,232.3 L940.3,238.4 L940.5,231.8 L940.6,231.8 L940.8,231.8 L941.0,231.8 L941.0,231.8 L941.3,231.8 L941.5,232.9 L941.8,238.6 L942.0,238.3 L942.3,237.6 L942.5,237.6 L942.6,237.6 L942.8,237.6 L943.0,237.6 L943.3,243.5 L943.4,246.5 L943.5,245.8 L943.8,239.8 L944.0,235.1 L944.3,235.1 L944.5,235.1 L944.5,235.1 L944.8,235.1 L945.0,237.2 L945.3,248.2 L945.5,250.2 L945.8,246.2 L946.0,246.2 L946.2,246.2 L946.3,246.2 L946.5,246.2 L946.8,250.1 L947.0,257.9 L947.0,259.9 L947.3,262.6 L947.5,262.6 L947.5,262.6 L947.8,262.6 L948.0,262.6 L948.0,267.1 L948.3,266.3 L948.5,261.6 L948.6,260.7 L948.8,258.8 L949.0,258.8 L949.2,258.8 L949.3,258.8 L949.5,258.8 L949.8,261.9 L950.0,268.2 L950.0,269.7 L950.3,270.1 L950.5,270.1 L950.8,270.1 L951.0,270.1 L951.3,270.1 L951.5,282.2 L951.5,285.2 L951.8,279.4 L952.0,277.9 L952.2,276.9 L952.3,276.3 L952.5,275.1 L952.8,275.1 L953.0,275.1 L953.0,275.1 L953.3,275.1 L953.5,276.4 L953.8,283.0 L954.0,284.6 L954.3,283.8 L954.5,283.8 L954.6,283.8 L954.8,283.8 L955.0,283.8 L955.3,285.6 L955.5,287.8 L955.8,290.1 L956.0,297.5 L956.0,299.4 L956.3,296.0 L956.5,295.2 L956.7,294.7 L956.8,294.4 L957.0,293.8 L957.3,293.8 L957.5,293.8 L957.5,293.8 L957.8,293.8 L958.0,294.7 L958.3,299.0 L958.5,300.3 L958.8,298.8 L959.0,298.8 L959.2,298.8 L959.3,298.8 L959.5,298.8 L959.8,300.2 L960.0,303.6 L960.2,305.7 L960.3,307.1 L960.5,306.0 L960.8,304.1 L961.0,302.6 L961.3,302.6 L961.5,302.6 L961.5,302.6 L961.8,302.6 L962.0,303.3 L962.3,307.1 L962.4,308.7 L962.5,311.0 L962.8,310.1 L963.0,310.1 L963.3,310.1 L963.5,310.1 L963.8,310.1 L964.0,312.8 L964.2,314.5 L964.3,314.7 L964.5,313.8 L964.8,313.8 L964.9,313.8 L965.0,313.8 L965.3,313.8 L965.5,315.8 L965.6,316.4 L965.8,319.0 L966.0,322.3 L966.2,324.6 L966.3,326.3 L966.5,328.6 L966.8,327.7 L967.0,327.1 L967.0,326.8 L967.3,326.0 L967.5,325.4 L967.7,325.0 L967.8,324.7 L968.0,323.8 L968.3,322.4 L968.5,321.5 L968.5,320.9 L968.8,320.1 L969.0,320.1 L969.2,320.1 L969.3,320.1 L969.5,320.1 L969.8,320.5 L969.9,321.0 L970.0,321.6 L970.3,322.7 L970.5,323.4 L970.6,323.5 L970.8,323.8 L971.0,324.2 L971.3,324.9 L971.4,325.2 L971.5,325.9 L971.8,326.9 L972.0,327.9 L972.1,328.1 L972.3,329.0 L972.5,330.1 L972.8,330.6 L973.0,331.0 L973.3,331.5 L973.5,332.0 L973.5,332.2 L973.8,332.9 L974.0,333.7 L974.2,334.5 L974.3,335.0 L974.5,336.3 L974.8,337.2 L974.9,337.3 L975.0,337.4 L975.3,337.7 L975.5,338.4 L975.6,338.6 L975.8,338.7 L976.0,338.0 L976.3,337.2 L976.5,336.6 L976.5,336.5 L976.8,335.7 L977.0,335.4 L977.3,335.4 L977.4,335.4 L977.5,335.4 L977.8,335.4 L978.0,335.6 L978.1,335.6 L978.3,335.8 L978.5,336.0 L978.8,336.1 L978.8,336.1 L979.0,336.1 L979.3,336.2 L979.5,336.7 L979.6,336.8 L979.8,337.4 L980.0,337.5 L980.3,337.5 L980.3,337.5 L980.5,337.5 L980.8,337.5 L981.0,338.0 L981.0,338.1 L981.3,338.6 L981.5,339.2 L981.8,339.9 L981.8,340.0 L982.0,340.9 L982.3,341.6 L982.5,341.9 L982.5,342.0 L982.8,342.3 L983.0,342.7 L983.3,343.7 L983.5,344.6 L983.8,344.1 L984.0,343.6 L984.1,343.6 L984.3,343.2 L984.5,343.0 L984.8,342.9 L984.8,342.9 L985.0,342.8 L985.3,342.7 L985.5,342.5 L985.6,342.4 L985.8,342.3 L986.0,342.3 L986.3,342.3 L986.5,342.3 L986.8,342.3 L987.0,342.7 L987.0,342.8 L987.3,343.3 L987.5,342.9 L987.7,342.7 L987.8,342.5 L988.0,342.4 L988.3,342.4 L988.4,342.4 L988.5,342.4 L988.8,342.4 L989.0,342.6 L989.1,342.7 L989.3,342.8 L989.5,342.8 L989.8,342.8 L990.0,342.8 L990.3,342.8 L990.5,343.2 L990.5,343.2 L990.8,343.6 L991.0,344.0 L991.2,344.7 L991.3,344.8 L991.5,345.6 L991.8,346.4 L992.0,347.1 L992.0,347.4 L992.3,348.3 L992.5,349.1 L992.7,349.3 L992.8,349.5 L993.0,349.3 L993.3,348.6 L993.4,348.3 L993.5,348.0 L993.8,347.7 L994.0,347.7 L994.1,347.7 L994.3,347.7 L994.5,347.7 L994.8,347.9 L994.9,347.7 L995.0,347.3 L995.3,347.2 L995.5,347.2 L995.6,347.2 L995.8,347.2 L996.0,347.2 L996.3,347.3 L996.5,347.5 L996.5,347.5 L996.8,347.7 L997.0,348.0 L997.3,351.3 L997.4,351.5 L997.5,351.5 L997.8,351.5 L998.0,351.5 L998.3,351.5 L998.5,351.5 L998.8,351.5 L999.0,351.5 L999.3,351.5 L999.5,351.5 L999.8,351.5 L1000.0,351.5 L1000.3,351.5 L1000.5,351.5 L1000.8,351.5 L1001.0,351.5 L1001.3,351.5 L1001.5,351.5 L1001.8,351.5 L1002.0,351.5 L1002.3,351.5 L1002.5,351.5 L1002.8,351.5 L1003.0,351.5 L1003.3,351.5 L1003.5,351.5 L1003.8,351.5 L1004.0,351.5 L1004.3,351.5 L1004.5,351.5 L1004.8,351.5 L1005.0,351.5 L1005.3,351.5 L1005.5,351.5 L1005.8,351.5 L1006.0,351.5 L1006.3,351.5 L1006.5,351.5 L1006.8,351.5 L1007.0,351.5 L1007.3,351.5 L1007.5,351.5 L1007.8,351.5 L1008.0,351.5 L1008.3,351.5 L1008.5,351.5 L1008.8,351.5 L1009.0,351.5 L1009.3,351.5 L1009.5,351.5 L1009.8,351.5 L1010.0,351.5 L1010.3,351.5 L1010.5,351.5 L1010.8,351.5 L1011.0,351.5 L1011.3,351.5 L1011.5,351.5 L1011.8,351.5 L1012.0,351.5 L1012.3,351.5 L1012.5,351.5 L1012.8,351.5 L1013.0,351.5 L1013.3,351.5 L1013.5,351.5 L1013.8,351.5 L1014.0,351.5 L1014.3,351.5 L1014.3,352.1 L1014.0,352.1 L1013.8,352.1 L1013.5,352.1 L1013.3,352.1 L1013.0,352.1 L1012.8,352.1 L1012.5,352.1 L1012.3,352.1 L1012.0,352.1 L1011.8,352.1 L1011.5,352.1 L1011.3,352.1 L1011.0,352.1 L1010.8,352.1 L1010.5,352.1 L1010.3,352.1 L1010.0,352.1 L1009.8,352.1 L1009.5,352.1 L1009.3,352.1 L1009.0,352.1 L1008.8,352.1 L1008.5,352.1 L1008.3,352.1 L1008.0,352.1 L1007.8,352.1 L1007.5,352.1 L1007.3,352.1 L1007.0,352.1 L1006.8,352.1 L1006.5,352.1 L1006.3,352.1 L1006.0,352.1 L1005.8,352.1 L1005.5,352.1 L1005.3,352.1 L1005.0,352.1 L1004.8,352.1 L1004.5,352.1 L1004.3,352.1 L1004.0,352.1 L1003.8,352.1 L1003.5,352.1 L1003.3,352.1 L1003.0,352.1 L1002.8,352.1 L1002.5,352.1 L1002.3,352.1 L1002.0,352.1 L1001.8,352.1 L1001.5,352.1 L1001.3,352.1 L1001.0,352.1 L1000.8,352.1 L1000.5,352.1 L1000.3,352.1 L1000.0,352.1 L999.8,352.1 L999.5,352.1 L999.3,352.1 L999.0,352.1 L998.8,352.1 L998.5,352.1 L998.3,352.1 L998.0,352.1 L997.8,352.1 L997.5,352.1 L997.4,352.1 L997.3,351.9 L997.0,352.6 L996.8,352.6 L996.5,352.6 L996.5,352.6 L996.3,352.6 L996.0,352.6 L995.8,352.6 L995.6,352.6 L995.5,352.6 L995.3,352.6 L995.0,352.6 L994.9,352.6 L994.8,352.6 L994.5,352.6 L994.3,352.6 L994.1,352.6 L994.0,352.6 L993.8,352.6 L993.5,352.6 L993.4,352.6 L993.3,352.6 L993.0,352.6 L992.8,352.6 L992.7,352.6 L992.5,352.6 L992.3,352.6 L992.0,352.6 L992.0,352.6 L991.8,352.6 L991.5,352.6 L991.3,352.6 L991.2,352.6 L991.0,352.6 L990.8,352.6 L990.5,352.6 L990.5,352.6 L990.3,352.6 L990.0,352.3 L989.8,351.8 L989.5,351.3 L989.3,350.8 L989.1,350.4 L989.0,350.3 L988.8,350.1 L988.5,350.2 L988.4,350.2 L988.3,350.2 L988.0,350.2 L987.8,350.2 L987.7,350.2 L987.5,350.2 L987.3,350.2 L987.0,350.2 L987.0,350.2 L986.8,350.2 L986.5,350.2 L986.3,350.2 L986.0,350.2 L985.8,350.4 L985.6,350.6 L985.5,350.7 L985.3,350.9 L985.0,351.1 L984.8,351.3 L984.8,351.3 L984.5,351.3 L984.3,351.3 L984.1,351.3 L984.0,351.3 L983.8,351.3 L983.5,351.3 L983.3,351.3 L983.0,351.3 L982.8,351.3 L982.5,351.3 L982.5,351.3 L982.3,351.3 L982.0,351.3 L981.8,351.3 L981.8,351.3 L981.5,350.7 L981.3,350.1 L981.0,349.5 L981.0,349.5 L980.8,349.3 L980.5,349.1 L980.3,348.9 L980.3,348.9 L980.0,348.4 L979.8,347.9 L979.6,347.5 L979.5,347.4 L979.3,347.1 L979.0,346.8 L978.8,346.8 L978.8,346.8 L978.5,346.8 L978.3,346.8 L978.1,346.8 L978.0,346.8 L977.8,347.1 L977.5,347.5 L977.4,347.8 L977.3,347.9 L977.0,348.2 L976.8,348.2 L976.5,348.2 L976.5,348.2 L976.3,348.2 L976.0,348.2 L975.8,348.2 L975.6,348.2 L975.5,348.2 L975.3,348.2 L975.0,348.2 L974.9,348.2 L974.8,348.2 L974.5,348.2 L974.3,348.2 L974.2,348.2 L974.0,348.1 L973.8,347.5 L973.5,346.9 L973.5,346.8 L973.3,346.5 L973.0,346.4 L972.8,346.2 L972.5,345.7 L972.3,344.9 L972.1,344.3 L972.0,344.1 L971.8,343.6 L971.5,343.2 L971.4,342.9 L971.3,342.8 L971.0,342.5 L970.8,342.3 L970.6,342.1 L970.5,342.0 L970.3,341.3 L970.0,340.7 L969.9,340.4 L969.8,340.0 L969.5,339.5 L969.3,339.5 L969.2,339.7 L969.0,340.0 L968.8,340.5 L968.5,341.1 L968.5,341.3 L968.3,341.8 L968.0,342.6 L967.8,343.5 L967.7,343.8 L967.5,343.8 L967.3,343.8 L967.0,343.8 L967.0,343.8 L966.8,343.8 L966.5,343.8 L966.3,343.8 L966.2,343.8 L966.0,343.8 L965.8,343.8 L965.6,343.8 L965.5,343.8 L965.3,343.8 L965.0,343.8 L964.9,343.8 L964.8,343.8 L964.5,342.3 L964.3,339.7 L964.2,338.7 L964.0,337.3 L963.8,335.9 L963.5,335.9 L963.3,335.9 L963.0,335.9 L962.8,335.9 L962.5,335.0 L962.4,334.0 L962.3,333.7 L962.0,333.7 L961.8,333.7 L961.5,333.7 L961.5,333.7 L961.3,333.7 L961.0,333.7 L960.8,332.8 L960.5,331.4 L960.3,331.4 L960.2,331.4 L960.0,331.4 L959.8,331.4 L959.5,331.4 L959.3,331.4 L959.2,331.4 L959.0,331.4 L958.8,331.4 L958.5,330.2 L958.3,328.4 L958.0,328.4 L957.8,328.6 L957.5,332.8 L957.5,333.7 L957.3,333.7 L957.0,333.7 L956.8,333.7 L956.7,333.7 L956.5,333.7 L956.3,333.7 L956.0,333.7 L956.0,333.7 L955.8,333.7 L955.5,333.7 L955.3,333.7 L955.0,333.7 L954.8,333.7 L954.6,333.7 L954.5,333.7 L954.3,329.2 L954.0,323.6 L953.8,321.7 L953.5,321.7 L953.3,323.1 L953.0,330.1 L953.0,331.4 L952.8,331.4 L952.5,331.4 L952.3,331.4 L952.2,331.4 L952.0,331.4 L951.8,331.4 L951.5,331.4 L951.5,331.4 L951.3,331.4 L951.0,331.4 L950.8,331.4 L950.5,331.4 L950.3,331.4 L950.0,331.4 L950.0,331.4 L949.8,324.2 L949.5,326.6 L949.3,328.4 L949.2,328.4 L949.0,328.4 L948.8,328.4 L948.6,328.4 L948.5,328.4 L948.3,328.4 L948.0,328.4 L948.0,328.4 L947.8,328.4 L947.5,328.4 L947.5,328.4 L947.3,328.4 L947.0,328.4 L947.0,328.4 L946.8,328.4 L946.5,328.4 L946.3,317.7 L946.2,312.2 L946.0,310.4 L945.8,310.4 L945.5,310.4 L945.3,305.9 L945.0,305.9 L944.8,305.9 L944.5,305.9 L944.5,305.9 L944.3,305.9 L944.0,305.9 L943.8,305.9 L943.5,300.7 L943.4,300.7 L943.3,300.7 L943.0,300.7 L942.8,300.7 L942.6,300.7 L942.5,300.7 L942.3,300.7 L942.0,300.7 L941.8,304.1 L941.5,315.0 L941.3,317.2 L941.0,317.2 L941.0,317.2 L940.8,317.2 L940.6,317.2 L940.5,317.2 L940.3,317.2 L940.0,317.2 L940.0,317.2 L939.8,317.2 L939.5,317.2 L939.4,317.2 L939.3,317.2 L939.0,317.2 L938.8,317.2 L938.6,317.2 L938.5,317.2 L938.3,302.1 L938.0,283.3 L937.8,274.4 L937.5,274.4 L937.3,274.4 L937.0,274.4 L936.8,274.4 L936.5,282.1 L936.3,305.5 L936.2,314.8 L936.0,328.8 L935.8,333.5 L935.5,333.5 L935.5,333.5 L935.3,333.5 L935.1,333.5 L935.0,333.5 L934.8,333.5 L934.5,333.5 L934.5,333.5 L934.3,333.5 L934.0,333.5 L933.8,333.5 L933.5,333.5 L933.5,333.5 L933.3,333.5 L933.0,333.5 L933.0,333.5 L932.8,325.9 L932.5,335.7 L932.3,335.7 L932.0,335.7 L931.8,335.7 L931.5,335.7 L931.3,335.7 L931.2,335.7 L931.0,335.7 L930.8,335.7 L930.5,335.7 L930.3,335.7 L930.2,335.7 L930.0,335.7 L929.8,335.7 L929.5,326.9 L929.5,324.0 L929.3,312.4 L929.0,320.9 L928.9,329.2 L928.8,329.2 L928.5,329.2 L928.3,329.2 L928.2,329.2 L928.0,329.2 L927.8,329.2 L927.5,329.2 L927.4,329.2 L927.3,329.2 L927.0,329.2 L926.8,329.2 L926.6,329.2 L926.5,329.2 L926.3,329.2 L926.0,329.2 L925.9,329.2 L925.8,322.3 L925.5,304.9 L925.3,287.6 L925.0,272.6 L924.8,267.3 L924.5,268.4 L924.3,268.4 L924.1,268.4 L924.0,268.4 L923.8,268.4 L923.7,268.4 L923.5,268.4 L923.3,268.4 L923.2,268.4 L923.0,268.4 L922.8,268.4 L922.7,268.4 L922.5,281.7 L922.3,306.7 L922.0,306.7 L921.8,306.7 L921.7,306.7 L921.5,306.7 L921.3,306.7 L921.0,306.7 L920.9,306.7 L920.8,306.7 L920.5,306.7 L920.3,306.7 L920.0,306.7 L919.8,306.7 L919.5,306.7 L919.5,306.7 L919.3,293.1 L919.0,259.0 L918.8,224.9 L918.5,217.0 L918.5,218.2 L918.3,218.2 L918.0,218.2 L917.8,218.2 L917.5,218.2 L917.3,218.2 L917.0,218.2 L917.0,218.2 L916.8,218.2 L916.5,218.2 L916.4,218.2 L916.3,218.2 L916.0,218.2 L915.8,218.2 L915.6,218.2 L915.5,218.2 L915.3,230.9 L915.0,257.2 L914.8,277.4 L914.5,296.1 L914.5,299.8 L914.3,314.8 L914.0,314.8 L914.0,314.8 L913.8,314.8 L913.5,314.8 L913.5,314.8 L913.3,314.8 L913.0,314.8 L912.8,314.8 L912.5,314.8 L912.3,314.8 L912.0,314.8 L912.0,314.8 L911.8,314.8 L911.5,314.8 L911.3,314.8 L911.0,286.7 L910.8,258.6 L910.5,230.6 L910.3,215.8 L910.0,204.5 L909.8,194.6 L909.5,194.9 L909.5,197.4 L909.3,207.4 L909.0,221.9 L908.8,244.4 L908.5,262.4 L908.3,262.4 L908.2,262.4 L908.0,262.4 L907.8,262.4 L907.6,262.4 L907.5,262.4 L907.3,262.4 L907.1,262.4 L907.0,262.4 L906.8,262.4 L906.6,262.4 L906.5,262.4 L906.3,262.4 L906.2,271.9 L906.0,289.4 L905.8,295.3 L905.5,295.3 L905.5,295.3 L905.3,295.3 L905.1,295.3 L905.0,295.3 L904.8,295.3 L904.5,295.3 L904.5,295.3 L904.3,295.3 L904.0,295.3 L903.9,295.3 L903.8,295.3 L903.5,295.3 L903.4,295.3 L903.3,303.6 L903.0,329.1 L902.8,329.1 L902.7,329.1 L902.5,329.1 L902.3,329.1 L902.0,329.1 L901.8,329.1 L901.6,329.1 L901.5,329.1 L901.3,329.1 L901.0,329.1 L900.9,329.1 L900.8,329.1 L900.5,329.1 L900.5,329.1 L900.3,329.1 L900.0,322.8 L899.8,312.9 L899.5,320.1 L899.4,320.1 L899.3,320.1 L899.0,320.1 L898.9,320.1 L898.8,320.1 L898.5,320.1 L898.3,320.1 L898.2,320.1 L898.0,320.1 L897.8,320.1 L897.5,320.1 L897.3,320.1 L897.0,320.1 L896.8,320.1 L896.7,320.1 L896.5,297.3 L896.3,259.4 L896.0,254.2 L895.9,251.0 L895.8,248.9 L895.5,246.5 L895.3,244.0 L895.0,241.8 L894.8,240.0 L894.5,238.1 L894.3,240.3 L894.2,242.0 L894.0,244.5 L893.8,248.8 L893.6,250.4 L893.5,250.4 L893.3,250.4 L893.0,250.4 L893.0,250.4 L892.8,250.4 L892.5,250.4 L892.3,250.4 L892.2,264.3 L892.0,289.6 L891.8,318.8 L891.5,328.4 L891.3,338.1 L891.0,342.1 L890.8,342.2 L890.5,342.4 L890.4,342.5 L890.3,342.6 L890.0,342.7 L889.8,342.9 L889.7,343.0 L889.5,343.1 L889.3,343.2 L889.0,343.2 L888.8,343.2 L888.5,343.2 L888.3,343.2 L888.0,343.2 L887.9,343.2 L887.8,343.2 L887.5,343.2 L887.4,343.2 L887.3,343.2 L887.0,343.2 L886.8,343.2 L886.5,343.2 L886.3,330.0 L886.2,316.9 L886.0,297.2 L885.8,277.1 L885.5,276.1 L885.3,275.2 L885.0,274.3 L885.0,274.1 L884.8,273.3 L884.5,272.8 L884.3,287.1 L884.0,301.4 L883.8,315.8 L883.5,330.1 L883.3,332.9 L883.1,332.9 L883.0,332.9 L882.8,332.9 L882.5,332.9 L882.3,332.9 L882.0,332.9 L882.0,332.9 L881.8,332.9 L881.5,332.9 L881.4,332.9 L881.3,332.9 L881.0,332.9 L880.9,332.9 L880.8,332.9 L880.5,332.9 L880.4,330.0 L880.3,327.0 L880.0,319.5 L879.8,309.7 L879.5,311.6 L879.3,315.7 L879.2,315.7 L879.0,315.7 L878.8,315.7 L878.5,315.7 L878.5,315.7 L878.3,318.2 L878.0,320.9 L877.9,320.9 L877.8,320.9 L877.5,320.9 L877.3,320.9 L877.0,320.9 L876.8,324.4 L876.7,327.7 L876.5,332.6 L876.3,337.4 L876.1,337.4 L876.0,337.4 L875.8,337.4 L875.5,337.4 L875.5,337.4 L875.3,337.4 L875.0,337.4 L874.9,337.4 L874.8,337.4 L874.5,337.4 L874.3,337.4 L874.0,337.4 L873.8,337.4 L873.5,337.4 L873.3,336.2 L873.2,335.9 L873.0,335.9 L872.8,335.9 L872.5,335.9 L872.3,335.9 L872.0,335.9 L872.0,335.9 L871.8,335.9 L871.5,335.9 L871.3,335.9 L871.2,335.9 L871.0,335.9 L870.8,335.9 L870.5,335.9 L870.5,335.9 L870.3,333.0 L870.0,331.4 L869.8,331.4 L869.5,331.4 L869.3,331.4 L869.0,332.7 L868.9,334.2 L868.8,335.1 L868.5,337.5 L868.3,339.9 L868.0,342.3 L867.8,344.7 L867.5,345.7 L867.3,345.7 L867.0,345.7 L866.8,345.7 L866.5,345.7 L866.3,345.7 L866.2,345.7 L866.0,345.7 L865.8,345.7 L865.5,345.7 L865.3,345.7 L865.0,345.7 L864.8,345.7 L864.5,344.6 L864.3,342.8 L864.0,341.7 L863.9,343.1 L863.8,344.1 L863.5,346.5 L863.3,348.9 L863.0,349.8 L862.8,349.8 L862.5,349.8 L862.3,349.8 L862.0,349.8 L861.8,349.8 L861.7,349.8 L861.5,349.8 L861.3,349.8 L861.0,349.8 L860.8,349.8 L860.5,349.8 L860.4,349.8 L860.3,349.8 L860.0,348.1 L859.8,345.3 L859.7,344.1 L859.5,342.4 L859.3,342.5 L859.0,342.9 L859.0,342.9 L858.8,343.2 L858.5,343.6 L858.4,343.7 L858.3,343.7 L858.0,343.7 L857.8,343.7 L857.7,343.7 L857.5,343.7 L857.3,343.7 L857.0,343.7 L857.0,343.7 L856.8,343.7 L856.5,343.7 L856.3,343.7 L856.3,343.7 L856.0,343.7 L855.8,343.7 L855.7,343.7 L855.5,343.7 L855.3,343.3 L855.0,342.8 L855.0,342.7 L854.8,342.3 L854.5,342.2 L854.3,342.1 L854.2,342.0 L854.0,341.9 L853.8,342.1 L853.5,343.0 L853.5,343.2 L853.3,343.5 L853.0,343.8 L852.8,344.1 L852.7,344.4 L852.5,344.7 L852.3,345.3 L852.0,345.9 L852.0,346.1 L851.8,346.9 L851.5,347.8 L851.3,348.3 L851.0,348.3 L850.8,348.3 L850.6,348.3 L850.5,348.3 L850.3,348.3 L850.0,348.3 L849.9,348.3 L849.8,348.3 L849.5,348.3 L849.3,348.3 L849.1,348.3 L849.0,348.3 L848.8,348.3 L848.5,348.3 L848.4,348.3 L848.3,348.0 L848.0,347.0 L847.8,346.1 L847.7,345.7 L847.5,345.1 L847.3,343.8 L847.0,342.6 L847.0,342.4 L846.8,342.4 L846.5,342.4 L846.3,342.4 L846.2,342.4 L846.0,342.2 L845.8,342.2 L845.5,342.6 L845.5,342.7 L845.3,342.7 L845.0,342.7 L844.8,342.7 L844.5,343.1 L844.3,343.6 L844.0,344.1 L844.0,344.1 L843.8,345.4 L843.5,346.8 L843.3,348.3 L843.3,348.5 L843.0,349.9 L842.8,351.5 L842.5,352.6 L842.5,352.6 L842.3,352.6 L842.0,352.6 L841.8,352.6 L841.7,352.6 L841.5,352.6 L841.3,352.6 L841.0,352.6 L840.9,352.6 L840.8,352.6 L840.5,352.6 L840.3,352.6 L840.0,352.6 L840.0,352.6 L839.8,352.6 L839.5,352.6 L839.3,352.6 L839.0,352.1 L839.0,351.7 L838.8,350.5 L838.5,349.0 L838.3,347.7 L838.3,347.6 L838.0,346.3 L837.8,346.0 L837.6,346.1 L837.5,346.2 L837.3,346.4 L837.0,346.5 L837.0,346.6 L836.8,346.6 L836.5,346.6 L836.3,346.6 L836.0,346.6 L835.8,346.6 L835.5,346.6 L835.5,346.6 L835.3,346.6 L835.0,346.6 L834.8,346.6 L834.7,346.6 L834.5,346.6 L834.3,346.6 L834.0,346.6 L833.9,346.6 L833.8,346.5 L833.5,346.5 L833.3,346.5 L833.2,346.5 L833.0,346.3 L832.8,346.1 L832.6,345.9 L832.5,345.8 L832.3,345.6 L832.0,345.5 L832.0,345.5 L831.8,345.5 L831.5,345.5 L831.3,345.5 L831.0,345.5 L830.8,345.5 L830.6,345.6 L830.5,345.8 L830.3,346.2 L830.0,346.5 L830.0,346.6 L829.8,346.7 L829.5,346.8 L829.3,346.9 L829.2,346.9 L829.0,347.2 L828.8,347.6 L828.5,348.1 L828.5,348.3 L828.3,348.6 L828.0,349.1 L827.8,349.6 L827.7,349.7 L827.5,349.9 L827.3,350.2 L827.0,350.6 L827.0,350.7 L826.8,351.3 L826.5,352.0 L826.3,352.4 L826.0,352.4 L825.8,352.4 L825.6,352.4 L825.5,352.4 L825.3,352.4 L825.0,352.4 L824.9,352.4 L824.8,352.4 L824.5,352.4 L824.3,352.4 L824.1,352.4 L824.0,352.4 L823.8,352.4 L823.5,352.4 L823.4,352.3 L823.3,352.0 L823.0,351.0 L822.8,349.9 L822.6,349.0 L822.5,348.9 L822.3,347.9 L822.0,346.9 L821.9,346.4 L821.8,346.6 L821.5,347.2 L821.3,347.8 L821.2,348.1 L821.0,348.5 L820.8,349.1 L820.5,349.8 L820.5,350.0 L820.3,350.8 L820.0,351.8 L819.8,352.6 L819.5,352.6 L819.3,352.6 L819.0,352.6 L818.8,352.6 L818.5,352.6 L818.3,352.6 L818.0,352.6 L817.8,352.6 L817.5,352.6 L817.5,352.6 L817.3,352.6 L817.0,352.6 L816.8,352.6 L816.7,352.4 L816.5,352.0 L816.3,351.2 L816.0,350.7 L815.9,350.7 L815.8,350.7 L815.5,350.7 L815.3,350.7 L815.2,350.7 L815.0,350.7 L814.8,350.7 L814.5,350.7 L814.4,350.7 L814.3,350.4 L814.0,350.5 L813.8,350.6 L813.6,350.6 L813.5,350.7 L813.3,350.7 L813.0,350.7 L812.8,350.7 L812.8,350.7 L812.5,350.7 L812.3,350.7 L812.0,350.7 L812.0,350.7 L811.8,350.7 L811.5,350.7 L811.3,350.7 L811.3,350.7 L811.0,350.7 L810.8,350.7 L810.5,350.7 L810.5,350.7 L810.3,350.7 L810.0,350.7 L809.8,350.7 L809.7,350.7 L809.5,350.7 L809.3,350.7 L809.0,350.7 L808.9,350.7 L808.8,350.7 L808.5,350.7 L808.3,350.7 L808.2,350.7 L808.0,350.7 L807.8,350.9 L807.5,350.9 L807.3,350.9 L807.0,350.9 L806.9,350.9 L806.8,350.9 L806.5,350.9 L806.3,350.9 L806.2,350.9 L806.0,351.5 L805.8,352.4 L805.5,352.6 L805.4,352.6 L805.3,352.6 L805.0,352.6 L804.8,352.6 L804.5,352.6 L804.3,352.6 L804.2,352.6 L804.0,352.6 L803.8,352.6 L803.5,352.6 L803.5,352.6 L803.3,352.6 L803.0,352.6 L802.8,352.6 L802.7,352.6 L802.5,352.4 L802.3,351.8 L802.0,351.3 L802.0,351.2 L801.8,350.9 L801.5,350.7 L801.4,350.6 L801.3,350.5 L801.0,350.5 L800.8,350.6 L800.7,350.7 L800.5,350.8 L800.3,350.9 L800.0,350.9 L799.8,350.9 L799.8,350.9 L799.5,350.9 L799.3,350.9 L799.0,350.9 L798.8,350.9 L798.5,351.1 L798.4,351.4 L798.3,351.6 L798.0,351.8 L797.8,352.1 L797.6,352.3 L797.5,352.4 L797.3,352.6 L797.0,352.6 L796.8,352.6 L796.5,352.6 L796.3,352.6 L796.0,352.6 L796.0,352.6 L795.8,352.6 L795.5,352.6 L795.3,352.6 L795.2,352.6 L795.0,352.6 L794.8,352.6 L794.5,352.6 L794.3,352.6 L794.1,352.6 L794.0,352.6 L793.8,352.6 L793.5,352.6 L793.4,352.6 L793.3,352.6 L793.0,352.6 L792.8,352.6 L792.7,352.6 L792.5,352.6 L792.3,352.6 L792.0,352.6 L792.0,352.6 L791.8,352.6 L791.5,352.6 L791.3,352.6 L791.0,352.6 L790.8,352.6 L790.5,352.6 L790.4,352.6 L790.3,352.6 L790.0,352.6 L789.8,352.6 L789.5,352.6 L789.4,352.6 L789.3,352.6 L789.0,352.6 L788.8,352.6 L788.5,352.6 L788.3,351.7 L788.0,351.9 L787.8,352.1 L787.5,352.1 L787.3,352.1 L787.0,352.1 L786.8,352.1 L786.5,352.1 L786.3,352.1 L786.0,352.1 L785.8,352.1 L785.5,352.1 L785.3,352.1 L785.0,352.1 L784.8,352.1 L784.5,352.1 L784.3,352.1 L784.0,352.1 L783.8,352.1 L783.5,352.1 L783.3,352.1 L783.0,352.1 L782.8,352.1 L782.5,352.1 L782.3,352.1 L782.0,352.1 L781.8,352.1 L781.5,352.1 L781.3,352.1 L781.0,352.1 L780.8,352.1Z"/>
<path class="ln" d="M780.8,351.8 L787.8,351.8 L789.4,350.4 L790.4,350.9 L791.3,351.6 L792.0,351.1 L792.7,351.2 L793.4,349.7 L794.1,349.2 L795.2,351.2 L796.0,349.9 L796.8,348.8 L797.6,346.8 L798.4,346.1 L798.8,348.0 L799.8,347.1 L800.7,346.1 L801.4,346.7 L802.0,347.4 L802.7,347.3 L803.5,348.1 L804.2,350.4 L805.4,344.5 L806.2,348.0 L806.9,347.4 L807.5,346.7 L808.2,347.7 L808.9,346.9 L809.7,347.7 L810.5,347.7 L811.3,346.2 L812.0,347.6 L812.8,347.3 L813.6,346.1 L814.4,345.6 L815.2,344.5 L815.9,347.7 L816.7,343.4 L817.5,347.1 L818.3,350.4 L819.0,346.5 L819.8,343.8 L820.5,341.6 L821.2,341.1 L821.9,338.9 L822.6,338.3 L823.4,341.6 L824.1,345.6 L824.9,350.0 L825.6,347.3 L826.3,346.2 L827.0,344.3 L827.7,342.6 L828.5,342.3 L829.2,340.8 L830.0,339.8 L830.6,340.3 L831.3,340.2 L832.0,340.7 L832.6,340.5 L833.2,340.4 L833.9,341.0 L834.7,342.0 L835.5,342.2 L836.3,341.4 L837.0,341.1 L837.6,340.0 L838.3,338.4 L839.0,337.9 L840.0,344.6 L840.9,352.3 L841.7,345.3 L842.5,339.0 L843.3,337.0 L844.0,336.9 L844.8,335.2 L845.5,335.2 L846.2,336.1 L847.0,335.4 L847.7,336.6 L848.4,335.9 L849.1,340.8 L849.9,344.5 L850.6,341.1 L851.3,338.9 L852.0,337.7 L852.7,334.4 L853.5,334.6 L854.2,335.8 L855.0,335.2 L855.7,336.0 L856.3,336.5 L857.0,338.3 L857.7,337.0 L858.4,335.7 L859.0,333.2 L859.7,332.0 L860.4,326.8 L861.7,346.5 L863.9,318.5 L866.2,341.0 L868.9,306.4 L870.5,322.0 L871.2,312.0 L872.0,328.0 L873.2,300.9 L874.9,330.0 L875.5,304.0 L876.1,292.0 L876.7,308.0 L877.3,286.0 L877.9,301.0 L878.5,279.0 L879.2,293.0 L879.8,270.0 L880.4,281.0 L880.9,263.0 L881.4,300.0 L882.0,324.0 L883.1,240.0 L883.8,231.8 L885.0,238.0 L886.2,244.0 L887.4,250.0 L887.9,337.6 L889.7,336.0 L890.4,300.0 L890.8,210.0 L891.3,207.0 L892.2,214.0 L893.0,196.0 L893.6,178.0 L894.2,175.6 L895.3,186.0 L895.9,196.0 L896.7,204.0 L897.3,212.0 L897.8,226.0 L898.2,306.8 L898.9,240.0 L899.4,180.0 L899.8,171.3 L900.5,173.0 L900.9,200.0 L901.6,318.9 L902.3,200.0 L902.7,161.0 L903.4,159.6 L903.9,190.0 L904.5,273.8 L905.1,180.0 L905.5,151.0 L906.2,150.3 L906.6,170.0 L907.1,230.0 L907.6,170.0 L908.2,130.0 L909.5,131.0 L910.3,139.5 L911.3,137.5 L912.0,180.0 L912.8,299.8 L913.5,230.0 L914.0,160.0 L914.5,143.1 L915.6,150.0 L916.4,158.0 L917.0,171.0 L917.8,144.5 L918.5,152.0 L919.5,145.7 L920.3,180.0 L920.9,289.0 L921.3,200.0 L921.7,167.0 L922.3,166.6 L922.7,190.0 L923.2,238.0 L923.7,195.0 L924.1,176.0 L924.8,175.6 L925.3,200.0 L925.9,225.0 L926.6,245.0 L927.4,319.0 L928.2,260.0 L928.9,225.0 L929.5,224.0 L930.2,250.0 L931.2,327.6 L931.8,250.0 L932.3,217.0 L933.0,216.8 L933.5,245.0 L934.5,324.7 L935.1,250.0 L935.5,228.0 L936.2,227.0 L936.8,236.0 L937.8,246.0 L938.6,240.0 L939.4,242.7 L940.0,303.0 L940.6,268.0 L941.0,257.4 L941.8,272.0 L942.6,262.0 L943.4,281.0 L944.5,260.0 L945.3,288.0 L946.2,268.9 L947.0,294.0 L947.5,282.0 L948.0,318.0 L948.6,288.0 L949.2,279.0 L950.0,299.0 L950.8,288.0 L951.5,322.0 L952.2,296.0 L953.0,292.0 L953.8,309.0 L954.6,299.0 L955.3,304.0 L956.0,325.0 L956.7,309.0 L957.5,307.0 L958.3,318.0 L959.2,311.0 L960.2,322.0 L961.5,314.0 L962.4,325.0 L963.3,320.0 L964.2,328.0 L964.9,323.0 L965.6,330.3 L966.2,338.5 L967.0,335.1 L967.7,332.9 L968.5,331.5 L969.2,328.0 L969.9,330.5 L970.6,331.4 L971.4,333.7 L972.1,336.2 L972.8,337.1 L973.5,338.7 L974.2,341.7 L974.9,342.2 L975.6,344.4 L976.5,342.5 L977.4,340.3 L978.1,340.8 L978.8,340.9 L979.6,342.5 L980.3,342.0 L981.0,343.2 L981.8,345.2 L982.5,346.0 L983.3,348.5 L984.1,347.6 L984.8,346.4 L985.6,346.2 L986.3,345.8 L987.0,347.0 L987.7,346.7 L988.4,345.8 L989.1,346.9 L989.8,346.2 L990.5,347.1 L991.2,348.9 L992.0,351.2 L992.7,352.0 L993.4,351.7 L994.1,350.1 L994.9,351.2 L995.6,349.7 L996.5,350.2 L997.4,351.8 L1014.3,351.8"/>
</g>
<path d="M72.1,11.5 H1017.2 M72.1,365.2 H1017.2" stroke="#b4b4b4" stroke-width="1.1" fill="none"/>
<path d="M136.4,365.2 v-4.5 M136.4,11.5 v3.8 M201.2,365.2 v-4.5 M201.2,11.5 v3.8 M265.9,365.2 v-4.5 M265.9,11.5 v3.8 M372.4,365.2 v-4.5 M372.4,11.5 v3.8 M437.2,365.2 v-4.5 M437.2,11.5 v3.8 M501.9,365.2 v-4.5 M501.9,11.5 v3.8 M608.4,365.2 v-4.5 M608.4,11.5 v3.8 M673.2,365.2 v-4.5 M673.2,11.5 v3.8 M737.9,365.2 v-4.5 M737.9,11.5 v3.8 M844.4,365.2 v-4.5 M844.4,11.5 v3.8 M909.2,365.2 v-4.5 M909.2,11.5 v3.8 M973.9,365.2 v-4.5 M973.9,11.5 v3.8 M72.6,351.8 h3.2 M308.6,351.8 h-4.6 M72.6,286.1 h3.2 M308.6,286.1 h-4.6 M72.6,220.4 h3.2 M308.6,220.4 h-4.6 M72.6,154.8 h3.2 M308.6,154.8 h-4.6 M72.6,89.1 h3.2 M308.6,89.1 h-4.6 M72.6,23.4 h3.2 M308.6,23.4 h-4.6" stroke="#a8a8a8" stroke-width="1" fill="none"/>
<path d="M72.6,11.5 V365.2" stroke="#8c8c8c" stroke-width="1.2" fill="none"/>
<path d="M308.6,11.5 V365.2 M544.6,11.5 V365.2" stroke="#b0b0b0" stroke-width="1.2" fill="none"/>
<path d="M780.6,11.5 V365.2 M1016.7,11.5 V365.2" stroke="#7c7c7c" stroke-width="1.4" fill="none"/>
<text class="tk" transform="translate(67.3,357.7) scale(1,1.060)" text-anchor="end">0</text>
<text class="tk" transform="translate(67.3,292.0) scale(1,1.060)" text-anchor="end">5</text>
<text class="tk" transform="translate(67.3,226.3) scale(1,1.060)" text-anchor="end">10</text>
<text class="tk" transform="translate(67.3,160.7) scale(1,1.060)" text-anchor="end">15</text>
<text class="tk" transform="translate(67.3,95.0) scale(1,1.060)" text-anchor="end">20</text>
<text class="tk" transform="translate(67.3,29.3) scale(1,1.060)" text-anchor="end">25</text>
<text class="tk" transform="translate(72.6,389.3) scale(1,1.060)" text-anchor="middle">0</text>
<text class="tk" transform="translate(137.1,389.3) scale(1,1.060)" text-anchor="middle">100</text>
<text class="tk" transform="translate(201.6,389.3) scale(1,1.060)" text-anchor="middle">200</text>
<text class="tk" transform="translate(266.1,389.3) scale(1,1.060)" text-anchor="middle">300</text>
<text class="xl" transform="translate(189.5,417.3) scale(1,1.060)" text-anchor="middle">Day of year</text>
<text class="an" transform="translate(76.8,50.8) scale(1,1.060)" text-anchor="start">LST</text>
<text class="sb" transform="translate(111.3,59.8) scale(1,1.060)" text-anchor="start"><tspan font-size="14.4px" textLength="23.6" lengthAdjust="spacing">min</tspan></text>
<text class="an" transform="translate(135.1,50.8) scale(1,1.060)" text-anchor="start">:</text>
<text class="an" transform="translate(146.4,50.8) scale(1,1.060)" text-anchor="start"><tspan textLength="111.0" lengthAdjust="spacing">N(-2.75,4.11)</tspan></text>
<text class="tk" transform="translate(308.6,389.3) scale(1,1.060)" text-anchor="middle">0</text>
<text class="tk" transform="translate(373.1,389.3) scale(1,1.060)" text-anchor="middle">100</text>
<text class="tk" transform="translate(437.6,389.3) scale(1,1.060)" text-anchor="middle">200</text>
<text class="tk" transform="translate(502.1,389.3) scale(1,1.060)" text-anchor="middle">300</text>
<text class="xl" transform="translate(425.5,417.3) scale(1,1.060)" text-anchor="middle">Day of year</text>
<text class="an" transform="translate(312.8,50.8) scale(1,1.060)" text-anchor="start">LST</text>
<text class="sb" transform="translate(347.1,59.8) scale(1,1.060)" text-anchor="start"><tspan font-size="15.3px" textLength="22.6" lengthAdjust="spacing">opt</tspan></text>
<text class="an" transform="translate(369.8,50.8) scale(1,1.060)" text-anchor="start">:</text>
<text class="an" transform="translate(381.0,50.8) scale(1,1.060)" text-anchor="start"><tspan textLength="115.3" lengthAdjust="spacing">N(19.27,6.16)</tspan></text>
<text class="tk" transform="translate(544.6,389.3) scale(1,1.060)" text-anchor="middle">0</text>
<text class="tk" transform="translate(609.1,389.3) scale(1,1.060)" text-anchor="middle">100</text>
<text class="tk" transform="translate(673.6,389.3) scale(1,1.060)" text-anchor="middle">200</text>
<text class="tk" transform="translate(738.1,389.3) scale(1,1.060)" text-anchor="middle">300</text>
<text class="xl" transform="translate(661.5,417.3) scale(1,1.060)" text-anchor="middle">Day of year</text>
<text class="an" transform="translate(549.4,50.8) scale(1,1.060)" text-anchor="start">T</text>
<text class="sb" transform="translate(559.9,59.8) scale(1,1.060)" text-anchor="start"><tspan font-size="14.4px" textLength="27.6" lengthAdjust="spacing">max</tspan></text>
<text class="an" transform="translate(588.5,50.8) scale(1,1.060)" text-anchor="start">:</text>
<text class="an" transform="translate(600.9,50.8) scale(1,1.060)" text-anchor="start"><tspan textLength="114.9" lengthAdjust="spacing">N(40.44,5.46)</tspan></text>
<text class="tk" transform="translate(780.6,389.3) scale(1,1.060)" text-anchor="middle">0</text>
<text class="tk" transform="translate(845.1,389.3) scale(1,1.060)" text-anchor="middle">100</text>
<text class="tk" transform="translate(909.6,389.3) scale(1,1.060)" text-anchor="middle">200</text>
<text class="tk" transform="translate(974.1,389.3) scale(1,1.060)" text-anchor="middle">300</text>
<text class="xl" transform="translate(897.5,417.3) scale(1,1.060)" text-anchor="middle">Day of year</text>
<text class="an" transform="translate(784.8,50.8) scale(1,1.060)" text-anchor="start">LUE</text>
<text class="sb" transform="translate(822.3,59.8) scale(1,1.060)" text-anchor="start"><tspan font-size="14.4px" textLength="27.8" lengthAdjust="spacing">max</tspan></text>
<text class="an" transform="translate(851.5,50.8) scale(1,1.060)" text-anchor="start">:</text>
<text class="an" transform="translate(862.9,50.8) scale(1,1.060)" text-anchor="start"><tspan textLength="105.4" lengthAdjust="spacing">N(2.70,0.51)</tspan></text>
<text class="yl" transform="translate(28.4,189) rotate(-90) scale(1,1.03)" text-anchor="middle">GPP(gC/m<tspan class="sp" dy="-11.8">2</tspan><tspan dy="11.8">/day)</tspan></text>
</svg></body></html>
